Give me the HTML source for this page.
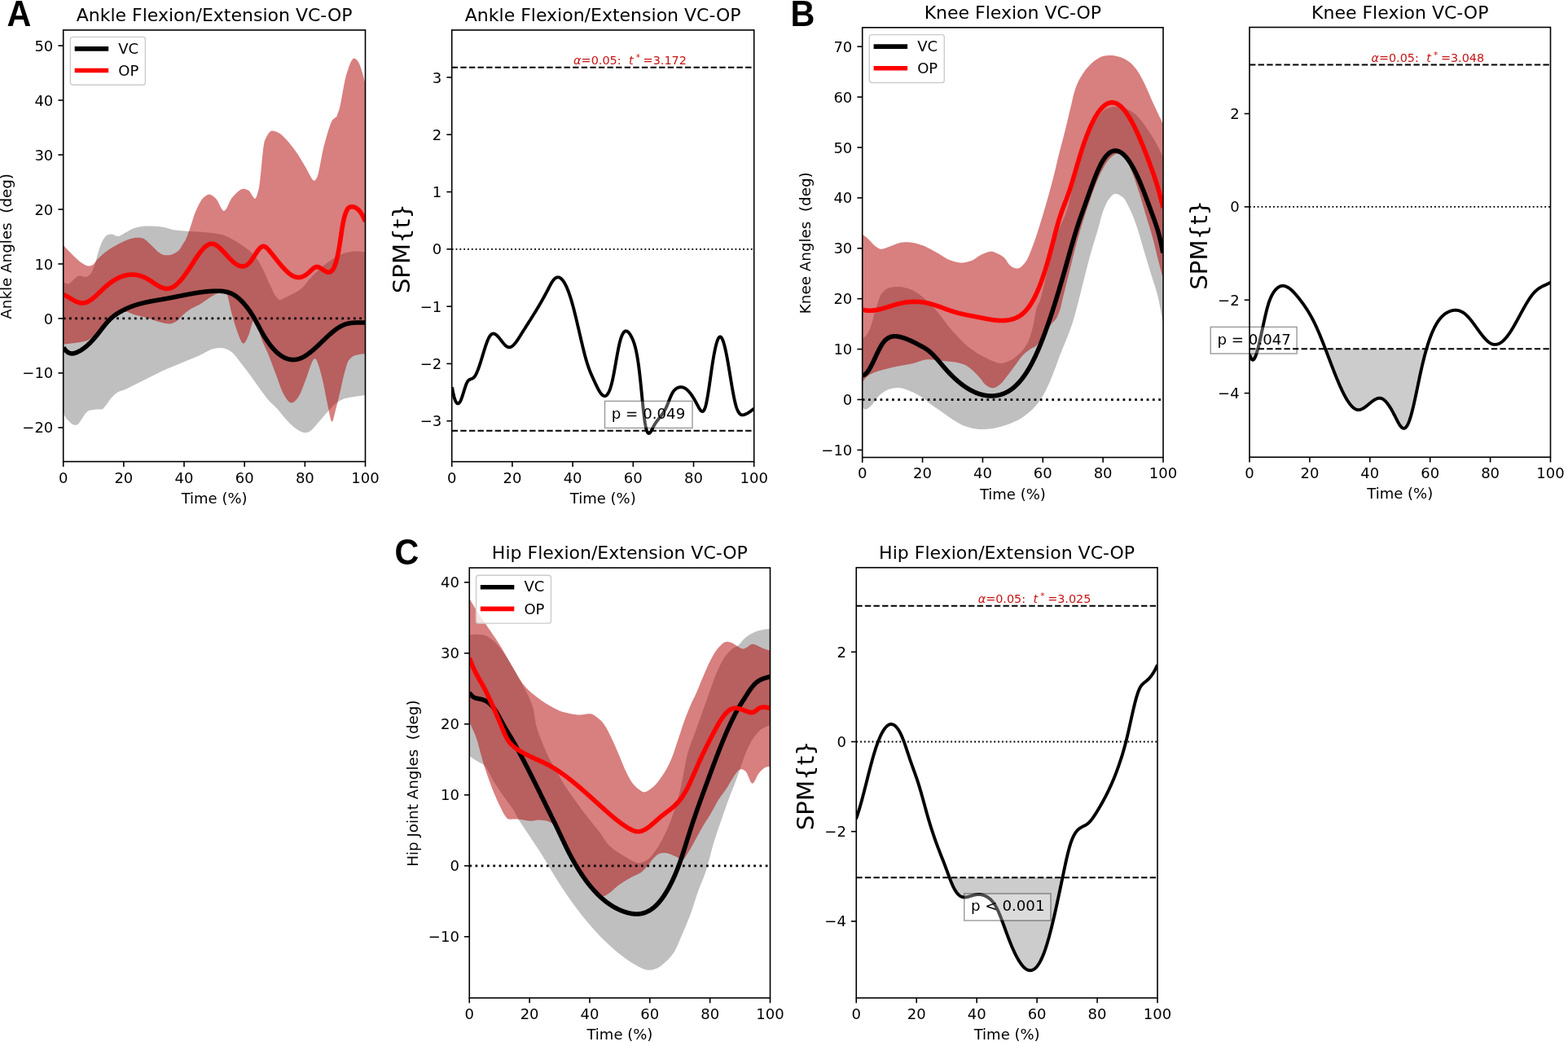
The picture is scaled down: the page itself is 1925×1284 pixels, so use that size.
<!DOCTYPE html>
<html><head><meta charset="utf-8"><title>Figure</title><style>html,body{margin:0;padding:0;background:#fff;width:1925px;height:1284px;overflow:hidden}svg{display:block}</style></head><body>
<svg width="1925" height="1284" viewBox="0 0 1925 1284" font-family='"DejaVu Sans", "Liberation Sans", sans-serif'>
<rect width="1925" height="1284" fill="#fff"/>
<defs>
<clipPath id="cA1"><rect x="77.7" y="36.9" width="370.8" height="529.7"/></clipPath>
<clipPath id="cA2"><rect x="554.7" y="36.9" width="371" height="529.8"/></clipPath>
<clipPath id="cB1"><rect x="1058.7" y="33.8" width="369.3" height="527.7"/></clipPath>
<clipPath id="cB2"><rect x="1534" y="33.5" width="369.5" height="527.7"/></clipPath>
<clipPath id="cC1"><rect x="576.25" y="697" width="369.25" height="528"/></clipPath>
<clipPath id="cC2"><rect x="1051.25" y="696.75" width="369.75" height="528.25"/></clipPath>
</defs>
<g clip-path="url(#cA1)">
<path d="M78 346.25L78.5 346.56 79 346.86 79.5 347.15 80 347.43 80.5 347.68 81 347.91 81.5 348.11 82 348.26 82.5 348.37 83 348.42 83.5 348.42 84 348.35 84.5 348.21 85 348 85.5 347.71 86 347.37 86.5 346.98 87 346.55 87.5 346.09 88 345.61 88.5 345.11 89 344.61 89.5 344.11 90 343.62 90.5 343.15 91 342.71 91.5 342.29 92 341.86 92.5 341.42 93 340.97 93.5 340.53 94 340.11 94.5 339.71 95 339.36 95.5 339.07 96 338.84 96.5 338.68 97 338.59 97.5 338.54 98 338.55 98.5 338.6 99 338.68 99.5 338.79 100 338.92 100.5 339.07 101 339.22 101.5 339.38 102 339.54 102.5 339.68 103 339.8 103.5 339.9 104 339.97 104.5 340.01 105 340 105.5 339.94 106 339.82 106.5 339.65 107 339.43 107.5 339.17 108 338.87 108.5 338.53 109 338.17 109.5 337.77 110 337.36 110.5 336.93 111 336.48 111.5 336 112 335.34 112.5 334.5 113 333.52 113.5 332.4 114 331.18 114.5 329.87 115 328.51 115.5 327.11 116 325.7 116.5 324.28 117 322.7 117.5 320.99 118 319.17 118.5 317.29 119 315.38 119.5 313.49 120 311.64 120.5 309.88 121 308.26 121.5 306.77 122 305.31 122.5 303.87 123 302.46 123.5 301.1 124 299.8 124.5 298.56 125 297.42 125.5 296.36 126 295.42 126.5 294.59 127 293.77 127.5 292.96 128 292.18 128.5 291.44 129 290.75 129.5 290.13 130 289.6 130.5 289.17 131 288.86 131.5 288.66 132 288.47 132.5 288.29 133 288.12 133.5 287.96 134 287.82 134.5 287.69 135 287.58 135.5 287.5 136 287.45 136.5 287.43 137 287.44 137.5 287.5 138 287.6 138.5 287.75 139 287.93 139.5 288.15 140 288.38 140.5 288.63 141 288.88 141.5 289.13 142 289.36 142.5 289.57 143 289.75 143.5 289.89 144 289.99 144.5 290.03 145 290 145.5 289.92 146 289.81 146.5 289.66 147 289.48 147.5 289.28 148 289.06 148.5 288.81 149 288.55 149.5 288.27 150 287.97 150.5 287.67 151 287.36 151.5 287.05 152 286.74 152.5 286.43 153 286.12 153.5 285.82 154 285.53 154.5 285.26 155 285 155.5 284.74 156 284.48 156.5 284.21 157 283.93 157.5 283.65 158 283.37 158.5 283.08 159 282.8 159.5 282.51 160 282.23 160.5 281.96 161 281.69 161.5 281.43 162 281.19 162.5 280.95 163 280.73 163.5 280.52 164 280.33 164.5 280.15 165 280 165.5 279.86 166 279.72 166.5 279.58 167 279.45 167.5 279.32 168 279.2 168.5 279.08 169 278.96 169.5 278.84 170 278.73 170.5 278.63 171 278.52 171.5 278.42 172 278.33 172.5 278.24 173 278.16 173.5 278.08 174 278 174.5 277.93 175 277.86 175.5 277.8 176 277.75 176.5 277.7 177 277.65 177.5 277.61 178 277.58 178.5 277.55 179 277.53 179.5 277.51 180 277.5 180.5 277.49 181 277.49 181.5 277.48 182 277.48 182.5 277.48 183 277.49 183.5 277.49 184 277.5 184.5 277.5 185 277.51 185.5 277.52 186 277.54 186.5 277.55 187 277.57 187.5 277.59 188 277.61 188.5 277.63 189 277.66 189.5 277.69 190 277.72 190.5 277.75 191 277.78 191.5 277.82 192 277.85 192.5 277.89 193 277.93 193.5 277.98 194 278.02 194.5 278.07 195 278.12 195.5 278.18 196 278.23 196.5 278.29 197 278.35 197.5 278.41 198 278.47 198.5 278.54 199 278.61 199.5 278.68 200 278.75 200.5 278.83 201 278.92 201.5 279.02 202 279.13 202.5 279.24 203 279.37 203.5 279.5 204 279.63 204.5 279.77 205 279.92 205.5 280.07 206 280.22 206.5 280.37 207 280.53 207.5 280.68 208 280.83 208.5 280.99 209 281.14 209.5 281.28 210 281.43 210.5 281.57 211 281.7 211.5 281.83 212 281.95 212.5 282.07 213 282.17 213.5 282.27 214 282.36 214.5 282.43 215 282.5 215.5 282.56 216 282.62 216.5 282.67 217 282.72 217.5 282.78 218 282.83 218.5 282.87 219 282.92 219.5 282.97 220 283.01 220.5 283.06 221 283.1 221.5 283.14 222 283.18 222.5 283.22 223 283.26 223.5 283.29 224 283.33 224.5 283.37 225 283.4 225.5 283.44 226 283.48 226.5 283.51 227 283.54 227.5 283.58 228 283.61 228.5 283.65 229 283.68 229.5 283.72 230 283.75 230.5 283.78 231 283.82 231.5 283.85 232 283.88 232.5 283.92 233 283.95 233.5 283.98 234 284.01 234.5 284.04 235 284.07 235.5 284.1 236 284.13 236.5 284.16 237 284.19 237.5 284.22 238 284.25 238.5 284.28 239 284.31 239.5 284.34 240 284.37 240.5 284.4 241 284.43 241.5 284.46 242 284.49 242.5 284.52 243 284.55 243.5 284.58 244 284.61 244.5 284.64 245 284.67 245.5 284.7 246 284.73 246.5 284.76 247 284.8 247.5 284.83 248 284.86 248.5 284.9 249 284.93 249.5 284.96 250 285 250.5 285.04 251 285.07 251.5 285.11 252 285.15 252.5 285.2 253 285.24 253.5 285.28 254 285.33 254.5 285.38 255 285.43 255.5 285.48 256 285.53 256.5 285.58 257 285.64 257.5 285.69 258 285.75 258.5 285.81 259 285.87 259.5 285.93 260 285.99 260.5 286.05 261 286.12 261.5 286.18 262 286.25 262.5 286.32 263 286.39 263.5 286.46 264 286.53 264.5 286.61 265 286.68 265.5 286.76 266 286.84 266.5 286.92 267 287 267.5 287.08 268 287.16 268.5 287.24 269 287.33 269.5 287.41 270 287.5 270.5 287.59 271 287.7 271.5 287.81 272 287.94 272.5 288.08 273 288.22 273.5 288.38 274 288.54 274.5 288.72 275 288.9 275.5 289.09 276 289.29 276.5 289.49 277 289.7 277.5 289.92 278 290.14 278.5 290.37 279 290.6 279.5 290.84 280 291.09 280.5 291.33 281 291.58 281.5 291.84 282 292.1 282.5 292.36 283 292.62 283.5 292.88 284 293.14 284.5 293.41 285 293.68 285.5 293.94 286 294.21 286.5 294.47 287 294.74 287.5 295 288 295.27 288.5 295.54 289 295.82 289.5 296.11 290 296.4 290.5 296.7 291 297.01 291.5 297.32 292 297.64 292.5 297.97 293 298.29 293.5 298.63 294 298.96 294.5 299.3 295 299.65 295.5 299.99 296 300.34 296.5 300.7 297 301.05 297.5 301.41 298 301.77 298.5 302.12 299 302.48 299.5 302.84 300 303.21 300.5 303.57 301 303.93 301.5 304.29 302 304.64 302.5 305 303 305.36 303.5 305.72 304 306.08 304.5 306.45 305 306.82 305.5 307.2 306 307.59 306.5 307.98 307 308.39 307.5 308.8 308 309.22 308.5 309.64 309 310.08 309.5 310.54 310 311 310.5 311.49 311 312 311.5 312.55 312 313.13 312.5 313.73 313 314.36 313.5 315 314 315.67 314.5 316.36 315 317.06 315.5 317.78 316 318.51 316.5 319.25 317 320 317.5 320.77 318 321.58 318.5 322.42 319 323.28 319.5 324.18 320 325.1 320.5 326.04 321 327 321.5 327.97 322 328.96 322.5 329.96 323 330.97 323.5 331.98 324 333 324.5 334.03 325 335.1 325.5 336.19 326 337.3 326.5 338.43 327 339.58 327.5 340.73 328 341.88 328.5 343.03 329 344.18 329.5 345.31 330 346.43 330.5 347.53 331 348.6 331.5 349.67 332 350.77 332.5 351.89 333 353.01 333.5 354.13 334 355.25 334.5 356.35 335 357.42 335.5 358.47 336 359.47 336.5 360.42 337 361.32 337.5 362.16 338 362.92 338.5 363.6 339 364.24 339.5 364.89 340 365.52 340.5 366.12 341 366.68 341.5 367.17 342 367.6 342.5 367.93 343 368.15 343.5 368.26 344 368.22 344.5 368.08 345 367.92 345.5 367.74 346 367.54 346.5 367.32 347 367.09 347.5 366.85 348 366.6 348.5 366.33 349 366.06 349.5 365.79 350 365.51 350.5 365.23 351 364.95 351.5 364.67 352 364.39 352.5 364.12 353 363.86 353.5 363.6 354 363.35 354.5 363.1 355 362.86 355.5 362.61 356 362.37 356.5 362.12 357 361.88 357.5 361.64 358 361.39 358.5 361.15 359 360.9 359.5 360.65 360 360.4 360.5 360.15 361 359.9 361.5 359.64 362 359.38 362.5 359.11 363 358.85 363.5 358.57 364 358.3 364.5 358.01 365 357.73 365.5 357.43 366 357.11 366.5 356.79 367 356.45 367.5 356.1 368 355.74 368.5 355.37 369 354.98 369.5 354.58 370 354.17 370.5 353.75 371 353.31 371.5 352.86 372 352.39 372.5 351.91 373 351.38 373.5 350.81 374 350.2 374.5 349.58 375 348.93 375.5 348.27 376 347.59 376.5 346.92 377 346.24 377.5 345.58 378 344.93 378.5 344.29 379 343.69 379.5 343.11 380 342.56 380.5 342.02 381 341.48 381.5 340.94 382 340.41 382.5 339.88 383 339.36 383.5 338.84 384 338.33 384.5 337.82 385 337.32 385.5 336.82 386 336.32 386.5 335.83 387 335.35 387.5 334.87 388 334.39 388.5 333.92 389 333.45 389.5 332.98 390 332.53 390.5 332.07 391 331.62 391.5 331.17 392 330.73 392.5 330.28 393 329.84 393.5 329.4 394 328.96 394.5 328.53 395 328.1 395.5 327.67 396 327.24 396.5 326.82 397 326.4 397.5 325.99 398 325.58 398.5 325.18 399 324.77 399.5 324.38 400 323.99 400.5 323.6 401 323.22 401.5 322.84 402 322.47 402.5 322.11 403 321.74 403.5 321.38 404 321.01 404.5 320.65 405 320.29 405.5 319.93 406 319.57 406.5 319.22 407 318.87 407.5 318.52 408 318.18 408.5 317.85 409 317.52 409.5 317.2 410 316.88 410.5 316.57 411 316.27 411.5 315.98 412 315.7 412.5 315.42 413 315.15 413.5 314.9 414 314.64 414.5 314.39 415 314.14 415.5 313.89 416 313.64 416.5 313.39 417 313.15 417.5 312.91 418 312.68 418.5 312.45 419 312.23 419.5 312.01 420 311.8 420.5 311.6 421 311.4 421.5 311.21 422 311.04 422.5 310.87 423 310.71 423.5 310.56 424 310.43 424.5 310.3 425 310.18 425.5 310.06 426 309.94 426.5 309.83 427 309.71 427.5 309.6 428 309.49 428.5 309.38 429 309.28 429.5 309.18 430 309.08 430.5 308.99 431 308.9 431.5 308.82 432 308.74 432.5 308.67 433 308.61 433.5 308.55 434 308.51 434.5 308.46 435 308.43 435.5 308.41 436 308.39 436.5 308.38 437 308.38 437.5 308.38 438 308.39 438.5 308.4 439 308.42 439.5 308.45 440 308.47 440.5 308.51 441 308.54 441.5 308.59 442 308.63 442.5 308.68 443 308.73 443.5 308.79 444 308.85 444.5 308.91 445 308.98 445.5 309.05 446 309.12 446.5 309.19 447 309.27 447.5 309.34 448 309.42 448.5 309.5L448.5 485 448 485.07 447.5 485.14 447 485.21 446.5 485.28 446 485.35 445.5 485.42 445 485.49 444.5 485.57 444 485.64 443.5 485.72 443 485.79 442.5 485.86 442 485.94 441.5 486.01 441 486.09 440.5 486.17 440 486.24 439.5 486.32 439 486.4 438.5 486.47 438 486.55 437.5 486.62 437 486.7 436.5 486.78 436 486.85 435.5 486.93 435 487.01 434.5 487.08 434 487.16 433.5 487.23 433 487.31 432.5 487.39 432 487.47 431.5 487.54 431 487.62 430.5 487.7 430 487.78 429.5 487.87 429 487.95 428.5 488.04 428 488.12 427.5 488.21 427 488.31 426.5 488.4 426 488.5 425.5 488.59 425 488.7 424.5 488.8 424 488.91 423.5 489.05 423 489.19 422.5 489.36 422 489.54 421.5 489.73 421 489.94 420.5 490.16 420 490.4 419.5 490.64 419 490.9 418.5 491.17 418 491.44 417.5 491.73 417 492.02 416.5 492.33 416 492.64 415.5 492.95 415 493.27 414.5 493.6 414 493.93 413.5 494.27 413 494.61 412.5 494.97 412 495.36 411.5 495.77 411 496.2 410.5 496.65 410 497.11 409.5 497.59 409 498.09 408.5 498.6 408 499.12 407.5 499.65 407 500.18 406.5 500.73 406 501.28 405.5 501.83 405 502.39 404.5 502.95 404 503.51 403.5 504.06 403 504.62 402.5 505.17 402 505.71 401.5 506.26 401 506.81 400.5 507.38 400 507.95 399.5 508.53 399 509.11 398.5 509.7 398 510.29 397.5 510.89 397 511.48 396.5 512.08 396 512.68 395.5 513.28 395 513.88 394.5 514.47 394 515.06 393.5 515.65 393 516.23 392.5 516.8 392 517.37 391.5 517.93 391 518.48 390.5 519.03 390 519.59 389.5 520.15 389 520.73 388.5 521.31 388 521.9 387.5 522.49 387 523.07 386.5 523.65 386 524.22 385.5 524.79 385 525.34 384.5 525.88 384 526.4 383.5 526.91 383 527.39 382.5 527.85 382 528.28 381.5 528.68 381 529.05 380.5 529.39 380 529.69 379.5 529.95 379 530.18 378.5 530.39 378 530.57 377.5 530.72 377 530.86 376.5 530.96 376 531.04 375.5 531.1 375 531.13 374.5 531.13 374 531.11 373.5 531.06 373 530.99 372.5 530.9 372 530.77 371.5 530.63 371 530.46 370.5 530.28 370 530.08 369.5 529.86 369 529.63 368.5 529.38 368 529.11 367.5 528.84 367 528.54 366.5 528.24 366 527.93 365.5 527.6 365 527.27 364.5 526.93 364 526.58 363.5 526.22 363 525.86 362.5 525.5 362 525.13 361.5 524.75 361 524.38 360.5 523.99 360 523.59 359.5 523.18 359 522.75 358.5 522.3 358 521.84 357.5 521.37 357 520.89 356.5 520.4 356 519.9 355.5 519.39 355 518.87 354.5 518.34 354 517.81 353.5 517.27 353 516.73 352.5 516.18 352 515.63 351.5 515.08 351 514.53 350.5 513.98 350 513.43 349.5 512.88 349 512.32 348.5 511.74 348 511.15 347.5 510.55 347 509.94 346.5 509.32 346 508.7 345.5 508.08 345 507.45 344.5 506.82 344 506.2 343.5 505.57 343 504.96 342.5 504.35 342 503.75 341.5 503.16 341 502.58 340.5 502.01 340 501.46 339.5 500.93 339 500.41 338.5 499.9 338 499.4 337.5 498.91 337 498.43 336.5 497.96 336 497.49 335.5 497.02 335 496.55 334.5 496.08 334 495.62 333.5 495.14 333 494.66 332.5 494.18 332 493.69 331.5 493.18 331 492.67 330.5 492.14 330 491.6 329.5 491.04 329 490.47 328.5 489.88 328 489.28 327.5 488.66 327 488.04 326.5 487.41 326 486.76 325.5 486.11 325 485.45 324.5 484.78 324 484.11 323.5 483.43 323 482.75 322.5 482.06 322 481.37 321.5 480.68 321 479.99 320.5 479.29 320 478.6 319.5 477.91 319 477.21 318.5 476.52 318 475.84 317.5 475.15 317 474.46 316.5 473.76 316 473.06 315.5 472.35 315 471.65 314.5 470.93 314 470.22 313.5 469.51 313 468.79 312.5 468.08 312 467.37 311.5 466.66 311 465.95 310.5 465.24 310 464.54 309.5 463.84 309 463.15 308.5 462.46 308 461.78 307.5 461.09 307 460.41 306.5 459.72 306 459.04 305.5 458.35 305 457.67 304.5 456.99 304 456.31 303.5 455.63 303 454.96 302.5 454.29 302 453.62 301.5 452.95 301 452.29 300.5 451.64 300 450.99 299.5 450.34 299 449.7 298.5 449.07 298 448.44 297.5 447.82 297 447.2 296.5 446.57 296 445.93 295.5 445.29 295 444.64 294.5 443.98 294 443.32 293.5 442.66 293 441.99 292.5 441.33 292 440.68 291.5 440.02 291 439.38 290.5 438.74 290 438.11 289.5 437.49 289 436.89 288.5 436.3 288 435.72 287.5 435.16 287 434.62 286.5 434.1 286 433.6 285.5 433.13 285 432.68 284.5 432.25 284 431.86 283.5 431.49 283 431.16 282.5 430.86 282 430.58 281.5 430.31 281 430.04 280.5 429.79 280 429.54 279.5 429.3 279 429.07 278.5 428.84 278 428.63 277.5 428.43 277 428.24 276.5 428.06 276 427.9 275.5 427.75 275 427.61 274.5 427.49 274 427.38 273.5 427.29 273 427.22 272.5 427.16 272 427.12 271.5 427.1 271 427.1 270.5 427.11 270 427.12 269.5 427.13 269 427.15 268.5 427.18 268 427.21 267.5 427.25 267 427.3 266.5 427.35 266 427.41 265.5 427.48 265 427.56 264.5 427.64 264 427.73 263.5 427.83 263 427.93 262.5 428.05 262 428.17 261.5 428.3 261 428.44 260.5 428.59 260 428.75 259.5 428.92 259 429.1 258.5 429.3 258 429.5 257.5 429.72 257 429.94 256.5 430.18 256 430.42 255.5 430.67 255 430.93 254.5 431.19 254 431.45 253.5 431.72 253 432 252.5 432.27 252 432.55 251.5 432.83 251 433.11 250.5 433.39 250 433.67 249.5 433.95 249 434.23 248.5 434.5 248 434.77 247.5 435.03 247 435.29 246.5 435.54 246 435.78 245.5 436.02 245 436.25 244.5 436.47 244 436.69 243.5 436.91 243 437.13 242.5 437.35 242 437.56 241.5 437.77 241 437.99 240.5 438.2 240 438.4 239.5 438.61 239 438.82 238.5 439.02 238 439.23 237.5 439.43 237 439.64 236.5 439.84 236 440.05 235.5 440.25 235 440.45 234.5 440.66 234 440.86 233.5 441.06 233 441.27 232.5 441.47 232 441.67 231.5 441.88 231 442.09 230.5 442.29 230 442.5 229.5 442.71 229 442.92 228.5 443.12 228 443.33 227.5 443.54 227 443.75 226.5 443.96 226 444.17 225.5 444.38 225 444.58 224.5 444.79 224 445 223.5 445.21 223 445.42 222.5 445.62 222 445.83 221.5 446.04 221 446.25 220.5 446.46 220 446.67 219.5 446.88 219 447.08 218.5 447.29 218 447.5 217.5 447.71 217 447.92 216.5 448.12 216 448.33 215.5 448.54 215 448.75 214.5 448.96 214 449.16 213.5 449.37 213 449.57 212.5 449.78 212 449.98 211.5 450.18 211 450.39 210.5 450.59 210 450.79 209.5 450.99 209 451.2 208.5 451.4 208 451.6 207.5 451.8 207 452.01 206.5 452.21 206 452.42 205.5 452.62 205 452.83 204.5 453.04 204 453.25 203.5 453.46 203 453.68 202.5 453.89 202 454.11 201.5 454.33 201 454.55 200.5 454.77 200 455 199.5 455.23 199 455.46 198.5 455.69 198 455.93 197.5 456.17 197 456.41 196.5 456.66 196 456.9 195.5 457.15 195 457.4 194.5 457.65 194 457.9 193.5 458.16 193 458.41 192.5 458.66 192 458.92 191.5 459.18 191 459.43 190.5 459.69 190 459.95 189.5 460.21 189 460.46 188.5 460.72 188 460.98 187.5 461.23 187 461.49 186.5 461.74 186 462 185.5 462.25 185 462.5 184.5 462.75 184 463 183.5 463.25 183 463.5 182.5 463.75 182 464 181.5 464.25 181 464.5 180.5 464.75 180 465 179.5 465.25 179 465.5 178.5 465.75 178 466 177.5 466.25 177 466.5 176.5 466.75 176 467 175.5 467.25 175 467.5 174.5 467.75 174 468 173.5 468.25 173 468.5 172.5 468.75 172 469 171.5 469.25 171 469.5 170.5 469.75 170 470 169.5 470.25 169 470.5 168.5 470.76 168 471.01 167.5 471.26 167 471.52 166.5 471.78 166 472.03 165.5 472.29 165 472.54 164.5 472.8 164 473.06 163.5 473.31 163 473.57 162.5 473.82 162 474.08 161.5 474.33 161 474.59 160.5 474.84 160 475.09 159.5 475.34 159 475.59 158.5 475.83 158 476.08 157.5 476.32 157 476.56 156.5 476.8 156 477.03 155.5 477.27 155 477.5 154.5 477.72 154 477.93 153.5 478.13 153 478.32 152.5 478.5 152 478.67 151.5 478.84 151 479.01 150.5 479.17 150 479.33 149.5 479.49 149 479.66 148.5 479.83 148 480 147.5 480.18 147 480.37 146.5 480.57 146 480.79 145.5 481.01 145 481.25 144.5 481.51 144 481.81 143.5 482.13 143 482.47 142.5 482.84 142 483.24 141.5 483.65 141 484.08 140.5 484.53 140 485 139.5 485.48 139 485.97 138.5 486.47 138 486.98 137.5 487.5 137 488.04 136.5 488.63 136 489.26 135.5 489.92 135 490.6 134.5 491.31 134 492.02 133.5 492.75 133 493.47 132.5 494.19 132 494.9 131.5 495.59 131 496.26 130.5 496.9 130 497.5 129.5 498.11 129 498.75 128.5 499.4 128 500.04 127.5 500.66 127 501.22 126.5 501.7 126 502.09 125.5 502.37 125 502.5 124.5 502.54 124 502.56 123.5 502.56 123 502.54 122.5 502.52 122 502.5 121.5 502.48 121 502.47 120.5 502.48 120 502.5 119.5 502.54 119 502.58 118.5 502.62 118 502.67 117.5 502.71 117 502.76 116.5 502.82 116 502.87 115.5 502.93 115 502.99 114.5 503.05 114 503.12 113.5 503.19 113 503.26 112.5 503.33 112 503.41 111.5 503.49 111 503.57 110.5 503.66 110 503.75 109.5 503.88 109 504.09 108.5 504.36 108 504.7 107.5 505.08 107 505.51 106.5 505.98 106 506.47 105.5 506.98 105 507.5 104.5 508.07 104 508.73 103.5 509.46 103 510.23 102.5 511.04 102 511.87 101.5 512.7 101 513.51 100.5 514.28 100 515 99.5 515.71 99 516.44 98.5 517.19 98 517.93 97.5 518.64 97 519.32 96.5 519.93 96 520.47 95.5 520.92 95 521.25 94.5 521.49 94 521.66 93.5 521.77 93 521.83 92.5 521.84 92 521.8 91.5 521.71 91 521.59 90.5 521.43 90 521.25 89.5 521.03 89 520.77 88.5 520.48 88 520.15 87.5 519.79 87 519.4 86.5 518.99 86 518.55 85.5 518.09 85 517.6 84.5 517.11 84 516.6 83.5 516.07 83 515.54 82.5 515 82 514.41 81.5 513.74 81 512.99 80.5 512.17 80 511.31 79.5 510.39 79 509.45 78.5 508.48 78 507.5Z" fill="#808080" fill-opacity="0.5"/>
<path d="M78 301.25L78.5 301.81 79 302.36 79.5 302.91 80 303.46 80.5 304.01 81 304.55 81.5 305.09 82 305.63 82.5 306.16 83 306.69 83.5 307.22 84 307.75 84.5 308.27 85 308.79 85.5 309.3 86 309.81 86.5 310.32 87 310.82 87.5 311.32 88 311.81 88.5 312.3 89 312.79 89.5 313.27 90 313.75 90.5 314.23 91 314.7 91.5 315.18 92 315.66 92.5 316.14 93 316.62 93.5 317.09 94 317.56 94.5 318.02 95 318.48 95.5 318.93 96 319.38 96.5 319.81 97 320.23 97.5 320.64 98 321.04 98.5 321.43 99 321.8 99.5 322.16 100 322.5 100.5 322.83 101 323.16 101.5 323.48 102 323.8 102.5 324.1 103 324.4 103.5 324.69 104 324.96 104.5 325.22 105 325.46 105.5 325.69 106 325.9 106.5 326.08 107 326.24 107.5 326.39 108 326.5 108.5 326.58 109 326.62 109.5 326.61 110 326.57 110.5 326.48 111 326.37 111.5 326.21 112 326.03 112.5 325.81 113 325.57 113.5 325.3 114 325 114.5 324.64 115 324.19 115.5 323.67 116 323.08 116.5 322.45 117 321.79 117.5 321.11 118 320.43 118.5 319.77 119 319.13 119.5 318.54 120 318 120.5 317.5 121 317 121.5 316.51 122 316.02 122.5 315.53 123 315.05 123.5 314.57 124 314.1 124.5 313.63 125 313.17 125.5 312.72 126 312.27 126.5 311.83 127 311.4 127.5 310.98 128 310.56 128.5 310.16 129 309.76 129.5 309.38 130 309 130.5 308.63 131 308.27 131.5 307.91 132 307.56 132.5 307.2 133 306.86 133.5 306.52 134 306.18 134.5 305.85 135 305.52 135.5 305.2 136 304.88 136.5 304.56 137 304.25 137.5 303.95 138 303.65 138.5 303.36 139 303.07 139.5 302.78 140 302.5 140.5 302.22 141 301.94 141.5 301.67 142 301.39 142.5 301.11 143 300.84 143.5 300.56 144 300.29 144.5 300.01 145 299.74 145.5 299.47 146 299.21 146.5 298.94 147 298.68 147.5 298.42 148 298.16 148.5 297.91 149 297.66 149.5 297.41 150 297.17 150.5 296.93 151 296.7 151.5 296.47 152 296.24 152.5 296.02 153 295.81 153.5 295.6 154 295.39 154.5 295.19 155 295 155.5 294.81 156 294.62 156.5 294.44 157 294.26 157.5 294.08 158 293.91 158.5 293.74 159 293.57 159.5 293.41 160 293.25 160.5 293.1 161 292.95 161.5 292.81 162 292.67 162.5 292.54 163 292.42 163.5 292.3 164 292.19 164.5 292.09 165 292 165.5 291.92 166 291.85 166.5 291.79 167 291.74 167.5 291.7 168 291.68 168.5 291.66 169 291.66 169.5 291.67 170 291.69 170.5 291.73 171 291.77 171.5 291.82 172 291.89 172.5 291.96 173 292.05 173.5 292.15 174 292.25 174.5 292.37 175 292.5 175.5 292.66 176 292.85 176.5 293.09 177 293.37 177.5 293.68 178 294.02 178.5 294.39 179 294.78 179.5 295.19 180 295.62 180.5 296.07 181 296.53 181.5 297 182 297.47 182.5 297.95 183 298.42 183.5 298.9 184 299.36 184.5 299.82 185 300.27 185.5 300.75 186 301.24 186.5 301.75 187 302.26 187.5 302.78 188 303.3 188.5 303.81 189 304.31 189.5 304.8 190 305.28 190.5 305.77 191 306.27 191.5 306.77 192 307.26 192.5 307.75 193 308.22 193.5 308.68 194 309.11 194.5 309.52 195 309.89 195.5 310.24 196 310.55 196.5 310.86 197 311.16 197.5 311.44 198 311.72 198.5 311.98 199 312.22 199.5 312.44 200 312.63 200.5 312.8 201 312.94 201.5 313.05 202 313.13 202.5 313.19 203 313.24 203.5 313.28 204 313.3 204.5 313.32 205 313.32 205.5 313.31 206 313.29 206.5 313.26 207 313.22 207.5 313.17 208 313.1 208.5 313.02 209 312.91 209.5 312.78 210 312.63 210.5 312.46 211 312.28 211.5 312.09 212 311.89 212.5 311.68 213 311.47 213.5 311.25 214 311.03 214.5 310.81 215 310.57 215.5 310.3 216 310.01 216.5 309.69 217 309.35 217.5 308.97 218 308.58 218.5 308.15 219 307.7 219.5 307.23 220 306.73 220.5 306.2 221 305.59 221.5 304.86 222 304.05 222.5 303.17 223 302.27 223.5 301.36 224 300.49 224.5 299.68 225 298.93 225.5 298.2 226 297.46 226.5 296.7 227 295.89 227.5 295 228 294.01 228.5 292.93 229 291.78 229.5 290.55 230 289.28 230.5 287.96 231 286.61 231.5 285.24 232 283.87 232.5 282.5 233 281.1 233.5 279.62 234 278.09 234.5 276.51 235 274.9 235.5 273.28 236 271.64 236.5 270.02 237 268.42 237.5 266.85 238 265.33 238.5 263.87 239 262.49 239.5 261.19 240 260 240.5 258.86 241 257.74 241.5 256.63 242 255.53 242.5 254.45 243 253.39 243.5 252.35 244 251.35 244.5 250.37 245 249.43 245.5 248.52 246 247.65 246.5 246.83 247 246.05 247.5 245.32 248 244.64 248.5 244.02 249 243.45 249.5 242.94 250 242.5 250.5 242.09 251 241.68 251.5 241.29 252 240.9 252.5 240.54 253 240.19 253.5 239.87 254 239.58 254.5 239.32 255 239.1 255.5 238.93 256 238.8 256.5 238.73 257 238.71 257.5 238.75 258 238.85 258.5 239 259 239.19 259.5 239.43 260 239.71 260.5 240.02 261 240.36 261.5 240.73 262 241.12 262.5 241.53 263 241.96 263.5 242.4 264 242.85 264.5 243.3 265 243.75 265.5 244.27 266 244.9 266.5 245.64 267 246.47 267.5 247.37 268 248.33 268.5 249.33 269 250.35 269.5 251.38 270 252.4 270.5 253.41 271 254.37 271.5 255.27 272 256.11 272.5 256.86 273 257.51 273.5 258.04 274 258.43 274.5 258.67 275 258.75 275.5 258.65 276 258.37 276.5 257.94 277 257.38 277.5 256.68 278 255.89 278.5 255 279 254.03 279.5 253.01 280 251.94 280.5 250.85 281 249.75 281.5 248.65 282 247.58 282.5 246.54 283 245.56 283.5 244.65 284 243.83 284.5 243.1 285 242.5 285.5 241.96 286 241.42 286.5 240.88 287 240.34 287.5 239.8 288 239.27 288.5 238.74 289 238.22 289.5 237.71 290 237.21 290.5 236.72 291 236.24 291.5 235.78 292 235.34 292.5 234.92 293 234.51 293.5 234.13 294 233.77 294.5 233.43 295 233.12 295.5 232.83 296 232.58 296.5 232.35 297 232.16 297.5 232 298 231.88 298.5 231.81 299 231.79 299.5 231.8 300 231.85 300.5 231.94 301 232.06 301.5 232.2 302 232.38 302.5 232.57 303 232.78 303.5 233.01 304 233.25 304.5 233.5 305 233.75 305.5 234.08 306 234.53 306.5 235.09 307 235.74 307.5 236.47 308 237.24 308.5 238.06 309 238.9 309.5 239.73 310 240.55 310.5 241.33 311 242.06 311.5 242.72 312 243.29 312.5 243.75 313 243.93 313.5 243.7 314 243.09 314.5 242.17 315 240.97 315.5 239.55 316 237.94 316.5 236.2 317 234.37 317.5 232.5 318 230.17 318.5 227.03 319 223.2 319.5 218.82 320 214.03 320.5 208.96 321 203.73 321.5 198.49 322 193.37 322.5 188.49 323 183.99 323.5 180.02 324 176.68 324.5 174.14 325 172.5 325.5 171.38 326 170.3 326.5 169.26 327 168.27 327.5 167.31 328 166.41 328.5 165.56 329 164.76 329.5 164.02 330 163.34 330.5 162.72 331 162.17 331.5 161.69 332 161.28 332.5 160.95 333 160.69 333.5 160.51 334 160.42 334.5 160.42 335 160.5 335.5 160.63 336 160.76 336.5 160.9 337 161.04 337.5 161.19 338 161.34 338.5 161.5 339 161.68 339.5 161.86 340 162.06 340.5 162.27 341 162.49 341.5 162.73 342 162.99 342.5 163.27 343 163.57 343.5 163.89 344 164.24 344.5 164.61 345 165 345.5 165.41 346 165.84 346.5 166.28 347 166.73 347.5 167.19 348 167.66 348.5 168.15 349 168.65 349.5 169.15 350 169.67 350.5 170.19 351 170.73 351.5 171.28 352 171.83 352.5 172.39 353 172.96 353.5 173.54 354 174.13 354.5 174.72 355 175.33 355.5 175.93 356 176.55 356.5 177.17 357 177.8 357.5 178.43 358 179.07 358.5 179.71 359 180.36 359.5 181.01 360 181.67 360.5 182.33 361 182.99 361.5 183.66 362 184.33 362.5 185 363 185.68 363.5 186.38 364 187.09 364.5 187.82 365 188.57 365.5 189.32 366 190.09 366.5 190.87 367 191.66 367.5 192.46 368 193.27 368.5 194.09 369 194.91 369.5 195.74 370 196.57 370.5 197.41 371 198.25 371.5 199.1 372 199.94 372.5 200.79 373 201.64 373.5 202.48 374 203.32 374.5 204.16 375 205 375.5 205.85 376 206.74 376.5 207.65 377 208.59 377.5 209.54 378 210.5 378.5 211.47 379 212.43 379.5 213.39 380 214.34 380.5 215.27 381 216.18 381.5 217.06 382 217.9 382.5 218.7 383 219.46 383.5 220.17 384 220.8 384.5 221.27 385 221.57 385.5 221.7 386 221.66 386.5 221.47 387 221.12 387.5 220.62 388 219.98 388.5 219.19 389 218.25 389.5 217.02 390 215.5 390.5 213.72 391 211.73 391.5 209.55 392 207.2 392.5 204.73 393 202.16 393.5 199.53 394 196.87 394.5 194.21 395 191.58 395.5 189.01 396 186.54 396.5 184.19 397 182 397.5 180 398 178.11 398.5 176.23 399 174.37 399.5 172.52 400 170.7 400.5 168.9 401 167.14 401.5 165.4 402 163.71 402.5 162.05 403 160.44 403.5 158.87 404 157.36 404.5 155.9 405 154.5 405.5 153.11 406 151.73 406.5 150.42 407 149.23 407.5 148.24 408 147.5 408.5 146.95 409 146.46 409.5 146.02 410 145.61 410.5 145.21 411 144.8 411.5 144.44 412 144.15 412.5 143.84 413 143.44 413.5 142.84 414 141.29 414.5 139.5 415 138.21 415.5 137.07 416 135.78 416.5 134.12 417 132.18 417.5 130.03 418 127.7 418.5 125.22 419 122.62 419.5 119.92 420 117.16 420.5 114.37 421 111.57 421.5 108.79 422 106.07 422.5 103.43 423 100.91 423.5 98.52 424 96.3 424.5 94.29 425 92.5 425.5 90.84 426 89.21 426.5 87.6 427 86.02 427.5 84.49 428 83.01 428.5 81.58 429 80.22 429.5 78.93 430 77.73 430.5 76.61 431 75.58 431.5 74.66 432 73.85 432.5 73.16 433 72.6 433.5 72.16 434 71.87 434.5 71.71 435 71.66 435.5 71.73 436 71.91 436.5 72.18 437 72.54 437.5 72.99 438 73.52 438.5 74.11 439 74.77 439.5 75.49 440 76.25 440.5 77.1 441 78.09 441.5 79.19 442 80.41 442.5 81.74 443 83.17 443.5 84.68 444 86.28 444.5 87.95 445 89.69 445.5 91.49 446 93.33 446.5 95.21 447 97.13 447.5 99.07 448 101.03 448.5 103L448.5 434.6 448 434.54 447.5 434.51 447 434.48 446.5 434.47 446 434.48 445.5 434.5 445 434.53 444.5 434.57 444 434.62 443.5 434.69 443 434.76 442.5 434.84 442 434.93 441.5 435.03 441 435.13 440.5 435.24 440 435.35 439.5 435.47 439 435.59 438.5 435.71 438 435.83 437.5 435.96 437 436.08 436.5 436.21 436 436.33 435.5 436.45 435 436.61 434.5 436.81 434 437.05 433.5 437.32 433 437.63 432.5 437.98 432 438.35 431.5 438.76 431 439.2 430.5 439.66 430 440.15 429.5 440.66 429 441.2 428.5 441.76 428 442.35 427.5 443.16 427 444.2 426.5 445.45 426 446.87 425.5 448.43 425 450.11 424.5 451.88 424 453.71 423.5 455.57 423 457.43 422.5 459.27 422 461.18 421.5 463.21 421 465.33 420.5 467.53 420 469.78 419.5 472.06 419 474.35 418.5 476.63 418 478.88 417.5 481.08 417 483.2 416.5 485.28 416 487.35 415.5 489.41 415 491.45 414.5 493.49 414 495.5 413.5 497.5 413 499.47 412.5 501.42 412 503.34 411.5 505.23 411 507.18 410.5 509.32 410 511.49 409.5 513.56 409 515.37 408.5 516.77 408 517.62 407.5 517.78 407 517.29 406.5 516.26 406 514.78 405.5 512.91 405 510.73 404.5 508.34 404 505.8 403.5 503.21 403 500.63 402.5 498.16 402 495.85 401.5 493.53 401 491.09 400.5 488.57 400 486 399.5 483.39 399 480.78 398.5 478.2 398 475.66 397.5 473.2 397 470.85 396.5 468.63 396 466.51 395.5 464.42 395 462.36 394.5 460.35 394 458.38 393.5 456.48 393 454.64 392.5 452.89 392 451.24 391.5 449.68 391 448.24 390.5 446.89 390 445.54 389.5 444.22 389 443 388.5 441.92 388 441.06 387.5 440.45 387 440.17 386.5 440.15 386 440.35 385.5 440.73 385 441.28 384.5 441.97 384 442.79 383.5 443.71 383 444.72 382.5 445.84 382 447.05 381.5 448.35 381 449.72 380.5 451.14 380 452.6 379.5 454.09 379 455.6 378.5 457.11 378 458.61 377.5 460.08 377 461.53 376.5 462.92 376 464.24 375.5 465.53 375 466.84 374.5 468.17 374 469.51 373.5 470.86 373 472.2 372.5 473.54 372 474.87 371.5 476.18 371 477.47 370.5 478.72 370 479.94 369.5 481.11 369 482.24 368.5 483.3 368 484.31 367.5 485.25 367 486.12 366.5 486.9 366 487.63 365.5 488.34 365 489.03 364.5 489.68 364 490.31 363.5 490.9 363 491.46 362.5 491.98 362 492.45 361.5 492.89 361 493.27 360.5 493.61 360 493.89 359.5 494.12 359 494.3 358.5 494.41 358 494.46 357.5 494.44 357 494.36 356.5 494.2 356 493.97 355.5 493.67 355 493.31 354.5 492.89 354 492.41 353.5 491.87 353 491.29 352.5 490.66 352 489.98 351.5 489.26 351 488.51 350.5 487.72 350 486.9 349.5 486.05 349 485.18 348.5 484.29 348 483.38 347.5 482.44 347 481.43 346.5 480.34 346 479.2 345.5 478 345 476.75 344.5 475.46 344 474.13 343.5 472.78 343 471.39 342.5 469.99 342 468.58 341.5 467.17 341 465.75 340.5 464.34 340 462.94 339.5 461.57 339 460.22 338.5 458.9 338 457.6 337.5 456.28 337 454.96 336.5 453.64 336 452.31 335.5 450.97 335 449.64 334.5 448.31 334 446.97 333.5 445.65 333 444.33 332.5 443.01 332 441.7 331.5 440.4 331 439.12 330.5 437.84 330 436.58 329.5 435.34 329 434.11 328.5 432.93 328 431.79 327.5 430.68 327 429.6 326.5 428.53 326 427.48 325.5 426.43 325 425.38 324.5 424.31 324 423.23 323.5 422.12 323 420.98 322.5 419.8 322 418.56 321.5 417.27 321 415.89 320.5 414.42 320 412.88 319.5 411.3 319 409.7 318.5 408.08 318 406.49 317.5 404.92 317 403.41 316.5 401.98 316 400.64 315.5 399.25 315 397.82 314.5 396.39 314 395.03 313.5 393.81 313 392.78 312.5 392.03 312 391.6 311.5 391.56 311 392.17 310.5 393.62 310 395.45 309.5 397.2 309 398.81 308.5 400.51 308 402.26 307.5 404.02 307 405.77 306.5 407.46 306 409.06 305.5 410.54 305 411.86 304.5 413.05 304 414.21 303.5 415.34 303 416.42 302.5 417.43 302 418.37 301.5 419.22 301 419.96 300.5 420.58 300 421.06 299.5 421.39 299 421.56 298.5 421.56 298 421.35 297.5 420.96 297 420.38 296.5 419.63 296 418.75 295.5 417.75 295 416.64 294.5 415.45 294 414.19 293.5 412.89 293 411.57 292.5 410.24 292 408.92 291.5 407.61 291 406.25 290.5 404.83 290 403.36 289.5 401.83 289 400.26 288.5 398.65 288 397 287.5 395.31 287 393.61 286.5 391.87 286 390.12 285.5 388.36 285 386.59 284.5 384.81 284 382.99 283.5 380.95 283 378.74 282.5 376.41 282 374.04 281.5 371.68 281 369.4 280.5 367.26 280 365.33 279.5 363.66 279 362.32 278.5 361.34 278 360.5 277.5 359.75 277 359.11 276.5 358.6 276 358.23 275.5 358.03 275 358 274.5 358.07 274 358.15 273.5 358.24 273 358.33 272.5 358.44 272 358.55 271.5 358.67 271 358.8 270.5 358.94 270 359.08 269.5 359.24 269 359.42 268.5 359.6 268 359.79 267.5 360 267 360.22 266.5 360.44 266 360.66 265.5 360.89 265 361.12 264.5 361.36 264 361.61 263.5 361.86 263 362.11 262.5 362.37 262 362.64 261.5 362.91 261 363.18 260.5 363.46 260 363.75 259.5 364.05 259 364.35 258.5 364.67 258 364.99 257.5 365.32 257 365.66 256.5 366 256 366.34 255.5 366.69 255 367.04 254.5 367.38 254 367.73 253.5 368.07 253 368.41 252.5 368.75 252 369.09 251.5 369.42 251 369.77 250.5 370.11 250 370.46 249.5 370.8 249 371.15 248.5 371.49 248 371.83 247.5 372.16 247 372.49 246.5 372.82 246 373.14 245.5 373.45 245 373.75 244.5 374.04 244 374.32 243.5 374.58 243 374.84 242.5 375.09 242 375.33 241.5 375.56 241 375.79 240.5 376.02 240 376.24 239.5 376.47 239 376.7 238.5 376.93 238 377.16 237.5 377.4 237 377.65 236.5 377.91 236 378.18 235.5 378.46 235 378.75 234.5 379.05 234 379.37 233.5 379.69 233 380.03 232.5 380.37 232 380.72 231.5 381.07 231 381.44 230.5 381.81 230 382.19 229.5 382.57 229 382.96 228.5 383.36 228 383.76 227.5 384.16 227 384.57 226.5 384.99 226 385.41 225.5 385.83 225 386.25 224.5 386.7 224 387.18 223.5 387.7 223 388.24 222.5 388.8 222 389.37 221.5 389.94 221 390.51 220.5 391.07 220 391.6 219.5 392.11 219 392.59 218.5 393.03 218 393.42 217.5 393.75 217 394.05 216.5 394.35 216 394.65 215.5 394.94 215 395.22 214.5 395.49 214 395.76 213.5 396.01 213 396.24 212.5 396.47 212 396.67 211.5 396.86 211 397.02 210.5 397.17 210 397.29 209.5 397.39 209 397.46 208.5 397.5 208 397.52 207.5 397.5 207 397.46 206.5 397.42 206 397.37 205.5 397.31 205 397.25 204.5 397.18 204 397.1 203.5 397.02 203 396.94 202.5 396.84 202 396.75 201.5 396.65 201 396.54 200.5 396.43 200 396.31 199.5 396.2 199 396.07 198.5 395.95 198 395.82 197.5 395.69 197 395.56 196.5 395.42 196 395.28 195.5 395.14 195 395 194.5 394.86 194 394.71 193.5 394.55 193 394.4 192.5 394.24 192 394.07 191.5 393.91 191 393.74 190.5 393.57 190 393.4 189.5 393.22 189 393.05 188.5 392.87 188 392.69 187.5 392.52 187 392.34 186.5 392.16 186 391.98 185.5 391.81 185 391.63 184.5 391.46 184 391.29 183.5 391.11 183 390.95 182.5 390.78 182 390.62 181.5 390.46 181 390.3 180.5 390.15 180 390 179.5 389.86 179 389.71 178.5 389.58 178 389.45 177.5 389.32 177 389.19 176.5 389.06 176 388.94 175.5 388.82 175 388.71 174.5 388.59 174 388.47 173.5 388.36 173 388.24 172.5 388.13 172 388.02 171.5 387.9 171 387.79 170.5 387.67 170 387.56 169.5 387.44 169 387.32 168.5 387.19 168 387.07 167.5 386.94 167 386.81 166.5 386.68 166 386.54 165.5 386.4 165 386.25 164.5 386.09 164 385.92 163.5 385.74 163 385.55 162.5 385.34 162 385.13 161.5 384.92 161 384.7 160.5 384.48 160 384.26 159.5 384.05 159 383.83 158.5 383.63 158 383.43 157.5 383.24 157 383.06 156.5 382.9 156 382.75 155.5 382.61 155 382.5 154.5 382.41 154 382.34 153.5 382.3 153 382.28 152.5 382.28 152 382.29 151.5 382.33 151 382.38 150.5 382.45 150 382.53 149.5 382.62 149 382.72 148.5 382.84 148 382.95 147.5 383.08 147 383.21 146.5 383.34 146 383.48 145.5 383.62 145 383.75 144.5 383.9 144 384.06 143.5 384.25 143 384.47 142.5 384.7 142 384.95 141.5 385.22 141 385.5 140.5 385.81 140 386.12 139.5 386.46 139 386.81 138.5 387.17 138 387.54 137.5 387.93 137 388.32 136.5 388.73 136 389.15 135.5 389.57 135 390 134.5 390.46 134 390.95 133.5 391.49 133 392.06 132.5 392.65 132 393.28 131.5 393.92 131 394.59 130.5 395.26 130 395.95 129.5 396.64 129 397.34 128.5 398.03 128 398.72 127.5 399.4 127 400.06 126.5 400.71 126 401.33 125.5 401.93 125 402.5 124.5 403.05 124 403.61 123.5 404.16 123 404.71 122.5 405.26 122 405.8 121.5 406.34 121 406.88 120.5 407.4 120 407.92 119.5 408.44 119 408.94 118.5 409.43 118 409.91 117.5 410.38 117 410.83 116.5 411.27 116 411.7 115.5 412.11 115 412.5 114.5 412.89 114 413.28 113.5 413.67 113 414.06 112.5 414.45 112 414.83 111.5 415.21 111 415.58 110.5 415.95 110 416.3 109.5 416.63 109 416.95 108.5 417.26 108 417.54 107.5 417.81 107 418.05 106.5 418.27 106 418.46 105.5 418.62 105 418.75 104.5 418.86 104 418.98 103.5 419.09 103 419.19 102.5 419.3 102 419.4 101.5 419.5 101 419.6 100.5 419.7 100 419.79 99.5 419.88 99 419.97 98.5 420.06 98 420.14 97.5 420.22 97 420.3 96.5 420.38 96 420.46 95.5 420.54 95 420.61 94.5 420.68 94 420.75 93.5 420.82 93 420.89 92.5 420.95 92 421.01 91.5 421.07 91 421.13 90.5 421.19 90 421.25 89.5 421.31 89 421.36 88.5 421.42 88 421.48 87.5 421.54 87 421.6 86.5 421.66 86 421.72 85.5 421.78 85 421.84 84.5 421.9 84 421.96 83.5 422.01 83 422.07 82.5 422.12 82 422.17 81.5 422.22 81 422.27 80.5 422.31 80 422.36 79.5 422.4 79 422.43 78.5 422.47 78 422.5Z" fill="#b20000" fill-opacity="0.5"/>
<line x1="77.7" y1="390.95" x2="448.5" y2="390.95" stroke="#000" stroke-width="2.75" stroke-dasharray="2.75 4.52"/>
<path d="M78 426.64L78.5 427.4 79 428.12 79.5 428.78 80 429.4 80.5 429.98 81 430.51 81.5 431 82 431.44 82.5 431.85 83 432.21 83.5 432.54 84 432.83 84.5 433.08 85 433.3 85.5 433.49 86 433.64 86.5 433.76 87 433.86 87.5 433.92 88 433.96 88.5 433.97 89 433.95 89.5 433.91 90 433.85 90.5 433.77 91 433.66 91.5 433.54 92 433.4 92.5 433.24 93 433.07 93.5 432.88 94 432.68 94.5 432.47 95 432.25 95.5 432.01 96 431.77 96.5 431.52 97 431.26 97.5 430.99 98 430.71 98.5 430.42 99 430.13 99.5 429.82 100 429.51 100.5 429.18 101 428.85 101.5 428.51 102 428.16 102.5 427.8 103 427.43 103.5 427.06 104 426.67 104.5 426.28 105 425.88 105.5 425.47 106 425.05 106.5 424.62 107 424.19 107.5 423.75 108 423.29 108.5 422.84 109 422.37 109.5 421.89 110 421.41 110.5 420.92 111 420.42 111.5 419.91 112 419.4 112.5 418.88 113 418.35 113.5 417.81 114 417.27 114.5 416.71 115 416.15 115.5 415.59 116 415.01 116.5 414.43 117 413.84 117.5 413.24 118 412.64 118.5 412.03 119 411.41 119.5 410.79 120 410.16 120.5 409.53 121 408.89 121.5 408.25 122 407.61 122.5 406.97 123 406.32 123.5 405.67 124 405.02 124.5 404.38 125 403.73 125.5 403.09 126 402.45 126.5 401.81 127 401.17 127.5 400.54 128 399.91 128.5 399.29 129 398.68 129.5 398.07 130 397.47 130.5 396.88 131 396.29 131.5 395.72 132 395.16 132.5 394.6 133 394.06 133.5 393.53 134 393.01 134.5 392.5 135 392.01 135.5 391.53 136 391.06 136.5 390.6 137 390.16 137.5 389.72 138 389.3 138.5 388.88 139 388.48 139.5 388.08 140 387.7 140.5 387.32 141 386.95 141.5 386.59 142 386.24 142.5 385.9 143 385.56 143.5 385.23 144 384.91 144.5 384.59 145 384.28 145.5 383.97 146 383.67 146.5 383.37 147 383.08 147.5 382.79 148 382.51 148.5 382.23 149 381.95 149.5 381.68 150 381.41 150.5 381.15 151 380.89 151.5 380.63 152 380.38 152.5 380.13 153 379.89 153.5 379.64 154 379.41 154.5 379.17 155 378.94 155.5 378.71 156 378.49 156.5 378.27 157 378.05 157.5 377.84 158 377.63 158.5 377.42 159 377.21 159.5 377.01 160 376.81 160.5 376.62 161 376.43 161.5 376.24 162 376.05 162.5 375.87 163 375.69 163.5 375.51 164 375.33 164.5 375.16 165 374.99 165.5 374.83 166 374.66 166.5 374.5 167 374.34 167.5 374.18 168 374.03 168.5 373.88 169 373.73 169.5 373.58 170 373.44 170.5 373.29 171 373.15 171.5 373.01 172 372.88 172.5 372.74 173 372.61 173.5 372.48 174 372.35 174.5 372.23 175 372.1 175.5 371.98 176 371.86 176.5 371.74 177 371.62 177.5 371.5 178 371.39 178.5 371.28 179 371.17 179.5 371.06 180 370.95 180.5 370.84 181 370.73 181.5 370.63 182 370.53 182.5 370.42 183 370.32 183.5 370.22 184 370.13 184.5 370.03 185 369.93 185.5 369.84 186 369.74 186.5 369.65 187 369.56 187.5 369.46 188 369.37 188.5 369.28 189 369.19 189.5 369.1 190 369.01 190.5 368.93 191 368.84 191.5 368.75 192 368.67 192.5 368.58 193 368.49 193.5 368.41 194 368.32 194.5 368.24 195 368.15 195.5 368.07 196 367.98 196.5 367.9 197 367.81 197.5 367.73 198 367.65 198.5 367.56 199 367.48 199.5 367.39 200 367.31 200.5 367.22 201 367.13 201.5 367.05 202 366.96 202.5 366.87 203 366.79 203.5 366.7 204 366.61 204.5 366.52 205 366.43 205.5 366.34 206 366.25 206.5 366.16 207 366.07 207.5 365.97 208 365.88 208.5 365.78 209 365.69 209.5 365.59 210 365.5 210.5 365.4 211 365.31 211.5 365.21 212 365.11 212.5 365.01 213 364.92 213.5 364.82 214 364.72 214.5 364.62 215 364.52 215.5 364.42 216 364.32 216.5 364.22 217 364.12 217.5 364.02 218 363.92 218.5 363.82 219 363.72 219.5 363.62 220 363.52 220.5 363.42 221 363.32 221.5 363.22 222 363.12 222.5 363.02 223 362.92 223.5 362.82 224 362.72 224.5 362.62 225 362.52 225.5 362.42 226 362.32 226.5 362.22 227 362.12 227.5 362.02 228 361.93 228.5 361.83 229 361.73 229.5 361.63 230 361.54 230.5 361.44 231 361.35 231.5 361.25 232 361.16 232.5 361.06 233 360.97 233.5 360.88 234 360.79 234.5 360.69 235 360.6 235.5 360.51 236 360.42 236.5 360.34 237 360.25 237.5 360.16 238 360.07 238.5 359.99 239 359.9 239.5 359.82 240 359.74 240.5 359.65 241 359.57 241.5 359.49 242 359.41 242.5 359.34 243 359.26 243.5 359.18 244 359.11 244.5 359.03 245 358.96 245.5 358.89 246 358.82 246.5 358.75 247 358.68 247.5 358.61 248 358.55 248.5 358.48 249 358.42 249.5 358.36 250 358.3 250.5 358.24 251 358.18 251.5 358.12 252 358.07 252.5 358.01 253 357.96 253.5 357.91 254 357.86 254.5 357.81 255 357.77 255.5 357.72 256 357.68 256.5 357.64 257 357.6 257.5 357.56 258 357.53 258.5 357.49 259 357.46 259.5 357.43 260 357.4 260.5 357.37 261 357.35 261.5 357.32 262 357.3 262.5 357.28 263 357.26 263.5 357.25 264 357.23 264.5 357.22 265 357.21 265.5 357.2 266 357.2 266.5 357.19 267 357.19 267.5 357.2 268 357.2 268.5 357.21 269 357.22 269.5 357.24 270 357.26 270.5 357.28 271 357.31 271.5 357.34 272 357.38 272.5 357.43 273 357.47 273.5 357.53 274 357.59 274.5 357.65 275 357.73 275.5 357.8 276 357.89 276.5 357.98 277 358.08 277.5 358.18 278 358.3 278.5 358.42 279 358.55 279.5 358.68 280 358.83 280.5 358.98 281 359.14 281.5 359.31 282 359.49 282.5 359.68 283 359.88 283.5 360.09 284 360.31 284.5 360.54 285 360.78 285.5 361.03 286 361.29 286.5 361.56 287 361.85 287.5 362.14 288 362.45 288.5 362.77 289 363.1 289.5 363.44 290 363.8 290.5 364.16 291 364.54 291.5 364.93 292 365.33 292.5 365.74 293 366.16 293.5 366.6 294 367.04 294.5 367.5 295 367.97 295.5 368.45 296 368.94 296.5 369.44 297 369.95 297.5 370.47 298 371.01 298.5 371.55 299 372.1 299.5 372.67 300 373.24 300.5 373.83 301 374.43 301.5 375.03 302 375.65 302.5 376.28 303 376.91 303.5 377.56 304 378.22 304.5 378.89 305 379.57 305.5 380.27 306 380.97 306.5 381.69 307 382.42 307.5 383.16 308 383.91 308.5 384.68 309 385.45 309.5 386.24 310 387.05 310.5 387.86 311 388.69 311.5 389.53 312 390.39 312.5 391.26 313 392.14 313.5 393.04 314 393.94 314.5 394.85 315 395.77 315.5 396.7 316 397.63 316.5 398.57 317 399.51 317.5 400.44 318 401.38 318.5 402.32 319 403.25 319.5 404.18 320 405.1 320.5 406.02 321 406.92 321.5 407.82 322 408.7 322.5 409.57 323 410.43 323.5 411.28 324 412.12 324.5 412.94 325 413.75 325.5 414.55 326 415.34 326.5 416.12 327 416.88 327.5 417.64 328 418.38 328.5 419.11 329 419.82 329.5 420.53 330 421.22 330.5 421.9 331 422.57 331.5 423.23 332 423.87 332.5 424.51 333 425.13 333.5 425.74 334 426.34 334.5 426.93 335 427.5 335.5 428.07 336 428.62 336.5 429.16 337 429.69 337.5 430.2 338 430.71 338.5 431.2 339 431.68 339.5 432.15 340 432.61 340.5 433.06 341 433.5 341.5 433.92 342 434.33 342.5 434.73 343 435.12 343.5 435.5 344 435.87 344.5 436.22 345 436.57 345.5 436.9 346 437.22 346.5 437.53 347 437.82 347.5 438.11 348 438.38 348.5 438.65 349 438.9 349.5 439.14 350 439.37 350.5 439.59 351 439.79 351.5 439.99 352 440.17 352.5 440.35 353 440.51 353.5 440.66 354 440.8 354.5 440.92 355 441.04 355.5 441.15 356 441.24 356.5 441.32 357 441.4 357.5 441.46 358 441.5 358.5 441.54 359 441.57 359.5 441.59 360 441.59 360.5 441.58 361 441.57 361.5 441.54 362 441.5 362.5 441.45 363 441.39 363.5 441.32 364 441.23 364.5 441.14 365 441.03 365.5 440.92 366 440.79 366.5 440.65 367 440.5 367.5 440.34 368 440.17 368.5 439.99 369 439.79 369.5 439.59 370 439.38 370.5 439.15 371 438.92 371.5 438.67 372 438.42 372.5 438.16 373 437.89 373.5 437.6 374 437.31 374.5 437.02 375 436.71 375.5 436.39 376 436.07 376.5 435.74 377 435.4 377.5 435.05 378 434.7 378.5 434.34 379 433.97 379.5 433.6 380 433.22 380.5 432.83 381 432.44 381.5 432.04 382 431.63 382.5 431.22 383 430.81 383.5 430.39 384 429.96 384.5 429.53 385 429.1 385.5 428.66 386 428.22 386.5 427.77 387 427.32 387.5 426.87 388 426.42 388.5 425.96 389 425.49 389.5 425.03 390 424.56 390.5 424.09 391 423.62 391.5 423.15 392 422.67 392.5 422.2 393 421.72 393.5 421.24 394 420.76 394.5 420.28 395 419.8 395.5 419.32 396 418.84 396.5 418.36 397 417.88 397.5 417.4 398 416.92 398.5 416.45 399 415.97 399.5 415.49 400 415.02 400.5 414.55 401 414.08 401.5 413.61 402 413.15 402.5 412.68 403 412.23 403.5 411.77 404 411.31 404.5 410.86 405 410.42 405.5 409.98 406 409.54 406.5 409.1 407 408.67 407.5 408.25 408 407.83 408.5 407.41 409 407 409.5 406.59 410 406.19 410.5 405.8 411 405.41 411.5 405.03 412 404.66 412.5 404.29 413 403.93 413.5 403.57 414 403.22 414.5 402.88 415 402.55 415.5 402.23 416 401.91 416.5 401.6 417 401.3 417.5 401.01 418 400.72 418.5 400.45 419 400.19 419.5 399.93 420 399.69 420.5 399.45 421 399.22 421.5 399.01 422 398.8 422.5 398.61 423 398.42 423.5 398.24 424 398.07 424.5 397.91 425 397.76 425.5 397.61 426 397.48 426.5 397.35 427 397.23 427.5 397.11 428 397.01 428.5 396.91 429 396.81 429.5 396.73 430 396.65 430.5 396.57 431 396.5 431.5 396.44 432 396.38 432.5 396.33 433 396.28 433.5 396.24 434 396.2 434.5 396.17 435 396.13 435.5 396.11 436 396.08 436.5 396.06 437 396.05 437.5 396.03 438 396.02 438.5 396.01 439 396.01 439.5 396 440 396 440.5 396 441 396 441.5 396 442 396 442.5 396 443 396.01 443.5 396.01 444 396.01 444.5 396.02 445 396.02 445.5 396.02 446 396.02 446.5 396.02 447 396.02 447.5 396.02 448 396.01 448.5 396.01" fill="none" stroke="#000" stroke-width="5.6" stroke-linejoin="round"/>
<path d="M78 361.67L78.5 361.88 79 362.11 79.5 362.35 80 362.6 80.5 362.85 81 363.11 81.5 363.38 82 363.66 82.5 363.94 83 364.22 83.5 364.51 84 364.8 84.5 365.1 85 365.4 85.5 365.69 86 365.99 86.5 366.29 87 366.59 87.5 366.89 88 367.19 88.5 367.48 89 367.77 89.5 368.06 90 368.34 90.5 368.62 91 368.89 91.5 369.15 92 369.41 92.5 369.66 93 369.9 93.5 370.13 94 370.35 94.5 370.56 95 370.76 95.5 370.95 96 371.13 96.5 371.29 97 371.44 97.5 371.57 98 371.69 98.5 371.79 99 371.88 99.5 371.95 100 372 100.5 372.03 101 372.05 101.5 372.04 102 372.01 102.5 371.97 103 371.9 103.5 371.81 104 371.7 104.5 371.58 105 371.44 105.5 371.27 106 371.1 106.5 370.9 107 370.69 107.5 370.46 108 370.22 108.5 369.96 109 369.69 109.5 369.4 110 369.1 110.5 368.79 111 368.46 111.5 368.12 112 367.78 112.5 367.42 113 367.04 113.5 366.66 114 366.27 114.5 365.87 115 365.47 115.5 365.05 116 364.63 116.5 364.19 117 363.76 117.5 363.31 118 362.86 118.5 362.41 119 361.95 119.5 361.48 120 361.02 120.5 360.54 121 360.07 121.5 359.59 122 359.11 122.5 358.63 123 358.15 123.5 357.67 124 357.19 124.5 356.71 125 356.23 125.5 355.75 126 355.28 126.5 354.8 127 354.33 127.5 353.86 128 353.4 128.5 352.94 129 352.49 129.5 352.04 130 351.6 130.5 351.16 131 350.73 131.5 350.3 132 349.89 132.5 349.48 133 349.07 133.5 348.67 134 348.28 134.5 347.89 135 347.52 135.5 347.14 136 346.78 136.5 346.42 137 346.06 137.5 345.72 138 345.38 138.5 345.04 139 344.72 139.5 344.4 140 344.08 140.5 343.78 141 343.47 141.5 343.18 142 342.89 142.5 342.61 143 342.34 143.5 342.07 144 341.81 144.5 341.56 145 341.31 145.5 341.07 146 340.84 146.5 340.61 147 340.39 147.5 340.18 148 339.98 148.5 339.78 149 339.59 149.5 339.4 150 339.22 150.5 339.05 151 338.89 151.5 338.73 152 338.58 152.5 338.44 153 338.3 153.5 338.17 154 338.05 154.5 337.94 155 337.83 155.5 337.73 156 337.64 156.5 337.55 157 337.47 157.5 337.4 158 337.33 158.5 337.28 159 337.23 159.5 337.18 160 337.15 160.5 337.12 161 337.1 161.5 337.08 162 337.08 162.5 337.08 163 337.09 163.5 337.1 164 337.13 164.5 337.16 165 337.19 165.5 337.24 166 337.29 166.5 337.35 167 337.42 167.5 337.49 168 337.58 168.5 337.67 169 337.76 169.5 337.87 170 337.98 170.5 338.1 171 338.23 171.5 338.37 172 338.51 172.5 338.66 173 338.82 173.5 338.99 174 339.16 174.5 339.34 175 339.53 175.5 339.73 176 339.93 176.5 340.15 177 340.37 177.5 340.6 178 340.83 178.5 341.08 179 341.33 179.5 341.59 180 341.86 180.5 342.13 181 342.42 181.5 342.71 182 343 182.5 343.3 183 343.61 183.5 343.92 184 344.24 184.5 344.56 185 344.88 185.5 345.21 186 345.54 186.5 345.87 187 346.2 187.5 346.53 188 346.86 188.5 347.19 189 347.52 189.5 347.85 190 348.17 190.5 348.5 191 348.82 191.5 349.13 192 349.44 192.5 349.75 193 350.05 193.5 350.35 194 350.64 194.5 350.92 195 351.2 195.5 351.47 196 351.73 196.5 351.98 197 352.22 197.5 352.45 198 352.67 198.5 352.88 199 353.07 199.5 353.26 200 353.43 200.5 353.59 201 353.74 201.5 353.87 202 353.98 202.5 354.08 203 354.17 203.5 354.24 204 354.29 204.5 354.33 205 354.34 205.5 354.34 206 354.32 206.5 354.28 207 354.22 207.5 354.14 208 354.04 208.5 353.91 209 353.77 209.5 353.61 210 353.42 210.5 353.22 211 353 211.5 352.75 212 352.49 212.5 352.22 213 351.92 213.5 351.6 214 351.27 214.5 350.92 215 350.56 215.5 350.17 216 349.77 216.5 349.36 217 348.93 217.5 348.48 218 348.02 218.5 347.55 219 347.05 219.5 346.55 220 346.03 220.5 345.5 221 344.95 221.5 344.39 222 343.82 222.5 343.24 223 342.64 223.5 342.04 224 341.42 224.5 340.79 225 340.15 225.5 339.5 226 338.83 226.5 338.16 227 337.48 227.5 336.79 228 336.09 228.5 335.38 229 334.67 229.5 333.94 230 333.21 230.5 332.47 231 331.72 231.5 330.97 232 330.21 232.5 329.44 233 328.67 233.5 327.9 234 327.13 234.5 326.35 235 325.57 235.5 324.79 236 324.01 236.5 323.23 237 322.46 237.5 321.68 238 320.9 238.5 320.13 239 319.37 239.5 318.6 240 317.85 240.5 317.09 241 316.35 241.5 315.61 242 314.88 242.5 314.16 243 313.44 243.5 312.74 244 312.05 244.5 311.36 245 310.69 245.5 310.03 246 309.39 246.5 308.76 247 308.14 247.5 307.54 248 306.95 248.5 306.38 249 305.83 249.5 305.29 250 304.77 250.5 304.27 251 303.8 251.5 303.34 252 302.9 252.5 302.48 253 302.09 253.5 301.72 254 301.37 254.5 301.05 255 300.75 255.5 300.48 256 300.23 256.5 300.02 257 299.82 257.5 299.66 258 299.53 258.5 299.42 259 299.35 259.5 299.31 260 299.29 260.5 299.31 261 299.37 261.5 299.45 262 299.56 262.5 299.7 263 299.87 263.5 300.06 264 300.28 264.5 300.52 265 300.79 265.5 301.08 266 301.4 266.5 301.73 267 302.08 267.5 302.46 268 302.85 268.5 303.26 269 303.68 269.5 304.12 270 304.57 270.5 305.04 271 305.52 271.5 306.01 272 306.51 272.5 307.02 273 307.54 273.5 308.07 274 308.61 274.5 309.15 275 309.69 275.5 310.24 276 310.79 276.5 311.35 277 311.9 277.5 312.46 278 313.01 278.5 313.56 279 314.11 279.5 314.66 280 315.2 280.5 315.74 281 316.27 281.5 316.8 282 317.32 282.5 317.84 283 318.34 283.5 318.84 284 319.33 284.5 319.81 285 320.28 285.5 320.73 286 321.18 286.5 321.62 287 322.04 287.5 322.45 288 322.84 288.5 323.23 289 323.59 289.5 323.94 290 324.28 290.5 324.59 291 324.89 291.5 325.18 292 325.44 292.5 325.69 293 325.91 293.5 326.11 294 326.3 294.5 326.46 295 326.6 295.5 326.71 296 326.81 296.5 326.88 297 326.92 297.5 326.94 298 326.93 298.5 326.9 299 326.84 299.5 326.75 300 326.63 300.5 326.48 301 326.31 301.5 326.1 302 325.87 302.5 325.6 303 325.3 303.5 324.97 304 324.6 304.5 324.2 305 323.77 305.5 323.3 306 322.79 306.5 322.25 307 321.67 307.5 321.06 308 320.41 308.5 319.74 309 319.04 309.5 318.32 310 317.58 310.5 316.82 311 316.06 311.5 315.28 312 314.5 312.5 313.71 313 312.92 313.5 312.14 314 311.37 314.5 310.6 315 309.85 315.5 309.12 316 308.41 316.5 307.72 317 307.05 317.5 306.42 318 305.82 318.5 305.26 319 304.73 319.5 304.25 320 303.82 320.5 303.43 321 303.1 321.5 302.82 322 302.61 322.5 302.45 323 302.36 323.5 302.34 324 302.39 324.5 302.51 325 302.7 325.5 302.94 326 303.24 326.5 303.59 327 303.99 327.5 304.43 328 304.9 328.5 305.41 329 305.94 329.5 306.5 330 307.08 330.5 307.67 331 308.27 331.5 308.87 332 309.48 332.5 310.09 333 310.71 333.5 311.33 334 311.95 334.5 312.58 335 313.2 335.5 313.83 336 314.46 336.5 315.09 337 315.72 337.5 316.35 338 316.98 338.5 317.61 339 318.24 339.5 318.87 340 319.49 340.5 320.12 341 320.74 341.5 321.36 342 321.97 342.5 322.58 343 323.19 343.5 323.79 344 324.39 344.5 324.99 345 325.57 345.5 326.16 346 326.73 346.5 327.3 347 327.87 347.5 328.42 348 328.97 348.5 329.51 349 330.04 349.5 330.57 350 331.08 350.5 331.59 351 332.08 351.5 332.57 352 333.04 352.5 333.5 353 333.96 353.5 334.4 354 334.82 354.5 335.24 355 335.64 355.5 336.03 356 336.41 356.5 336.77 357 337.12 357.5 337.46 358 337.78 358.5 338.08 359 338.37 359.5 338.64 360 338.9 360.5 339.13 361 339.36 361.5 339.56 362 339.75 362.5 339.91 363 340.06 363.5 340.19 364 340.3 364.5 340.4 365 340.47 365.5 340.52 366 340.55 366.5 340.55 367 340.54 367.5 340.51 368 340.45 368.5 340.38 369 340.28 369.5 340.16 370 340.03 370.5 339.87 371 339.7 371.5 339.51 372 339.3 372.5 339.07 373 338.82 373.5 338.56 374 338.27 374.5 337.98 375 337.66 375.5 337.33 376 336.99 376.5 336.62 377 336.25 377.5 335.86 378 335.45 378.5 335.03 379 334.6 379.5 334.15 380 333.69 380.5 333.22 381 332.74 381.5 332.27 382 331.79 382.5 331.32 383 330.86 383.5 330.42 384 329.99 384.5 329.59 385 329.21 385.5 328.86 386 328.55 386.5 328.28 387 328.05 387.5 327.86 388 327.73 388.5 327.65 389 327.62 389.5 327.64 390 327.7 390.5 327.81 391 327.95 391.5 328.13 392 328.34 392.5 328.58 393 328.84 393.5 329.13 394 329.43 394.5 329.75 395 330.07 395.5 330.41 396 330.75 396.5 331.1 397 331.44 397.5 331.78 398 332.1 398.5 332.42 399 332.72 399.5 333.01 400 333.27 400.5 333.5 401 333.71 401.5 333.89 402 334.03 402.5 334.14 403 334.2 403.5 334.22 404 334.18 404.5 334.1 405 333.97 405.5 333.77 406 333.51 406.5 333.18 407 332.78 407.5 332.29 408 331.72 408.5 331.06 409 330.29 409.5 329.43 410 328.45 410.5 327.36 411 326.15 411.5 324.82 412 323.35 412.5 321.75 413 320 413.5 318.1 414 316.05 414.5 313.83 415 311.46 415.5 308.91 416 306.18 416.5 303.27 417 300.17 417.5 296.89 418 293.49 418.5 290.04 419 286.61 419.5 283.28 420 280.11 420.5 277.17 421 274.46 421.5 271.97 422 269.69 422.5 267.61 423 265.72 423.5 264 424 262.46 424.5 261.08 425 259.85 425.5 258.76 426 257.8 426.5 256.97 427 256.25 427.5 255.65 428 255.14 428.5 254.72 429 254.39 429.5 254.14 430 253.96 430.5 253.83 431 253.76 431.5 253.73 432 253.74 432.5 253.78 433 253.84 433.5 253.93 434 254.03 434.5 254.16 435 254.32 435.5 254.5 436 254.71 436.5 254.95 437 255.21 437.5 255.51 438 255.84 438.5 256.2 439 256.6 439.5 257.03 440 257.49 440.5 258 441 258.54 441.5 259.12 442 259.74 442.5 260.41 443 261.11 443.5 261.86 444 262.66 444.5 263.5 445 264.39 445.5 265.32 446 266.3 446.5 267.34 447 268.42 447.5 269.56 448 270.75 448.5 272" fill="none" stroke="#f00" stroke-width="5.6" stroke-linejoin="round"/>
</g>
<rect x="86.4" y="45.4" width="92" height="58.9" rx="3" ry="3" fill="#fff" fill-opacity="0.8" stroke="#ccc" stroke-width="1.4"/>
<line x1="91.7" y1="59.9" x2="133.2" y2="59.9" stroke="#000" stroke-width="5.6"/>
<line x1="91.7" y1="86.5" x2="133.2" y2="86.5" stroke="#f00" stroke-width="5.6"/>
<text x="145.3" y="65.6" font-size="18" text-anchor="start">VC</text>
<text x="145.3" y="93" font-size="18" text-anchor="start">OP</text>
<line x1="77.7" y1="566.6" x2="77.7" y2="572.9" stroke="#000" stroke-width="1.6"/>
<text x="77.7" y="592.5" font-size="18" text-anchor="middle">0</text>
<line x1="151.86" y1="566.6" x2="151.86" y2="572.9" stroke="#000" stroke-width="1.6"/>
<text x="151.86" y="592.5" font-size="18" text-anchor="middle">20</text>
<line x1="226.02" y1="566.6" x2="226.02" y2="572.9" stroke="#000" stroke-width="1.6"/>
<text x="226.02" y="592.5" font-size="18" text-anchor="middle">40</text>
<line x1="300.18" y1="566.6" x2="300.18" y2="572.9" stroke="#000" stroke-width="1.6"/>
<text x="300.18" y="592.5" font-size="18" text-anchor="middle">60</text>
<line x1="374.34" y1="566.6" x2="374.34" y2="572.9" stroke="#000" stroke-width="1.6"/>
<text x="374.34" y="592.5" font-size="18" text-anchor="middle">80</text>
<line x1="448.5" y1="566.6" x2="448.5" y2="572.9" stroke="#000" stroke-width="1.6"/>
<text x="448.5" y="592.5" font-size="18" text-anchor="middle">100</text>
<line x1="71.4" y1="56.1" x2="77.7" y2="56.1" stroke="#000" stroke-width="1.6"/>
<text x="65.3" y="62.65" font-size="18" text-anchor="end">50</text>
<line x1="71.4" y1="123.07" x2="77.7" y2="123.07" stroke="#000" stroke-width="1.6"/>
<text x="65.3" y="129.62" font-size="18" text-anchor="end">40</text>
<line x1="71.4" y1="190.04" x2="77.7" y2="190.04" stroke="#000" stroke-width="1.6"/>
<text x="65.3" y="196.59" font-size="18" text-anchor="end">30</text>
<line x1="71.4" y1="257.01" x2="77.7" y2="257.01" stroke="#000" stroke-width="1.6"/>
<text x="65.3" y="263.56" font-size="18" text-anchor="end">20</text>
<line x1="71.4" y1="323.98" x2="77.7" y2="323.98" stroke="#000" stroke-width="1.6"/>
<text x="65.3" y="330.53" font-size="18" text-anchor="end">10</text>
<line x1="71.4" y1="390.95" x2="77.7" y2="390.95" stroke="#000" stroke-width="1.6"/>
<text x="65.3" y="397.5" font-size="18" text-anchor="end">0</text>
<line x1="71.4" y1="457.92" x2="77.7" y2="457.92" stroke="#000" stroke-width="1.6"/>
<text x="65.3" y="464.47" font-size="18" text-anchor="end">−10</text>
<line x1="71.4" y1="524.89" x2="77.7" y2="524.89" stroke="#000" stroke-width="1.6"/>
<text x="65.3" y="531.44" font-size="18" text-anchor="end">−20</text>
<rect x="77.7" y="36.9" width="370.8" height="529.7" fill="none" stroke="#000" stroke-width="1.6"/>
<text x="263.1" y="617.6" font-size="18" text-anchor="middle">Time (%)</text>
<text x="263.1" y="26.1" font-size="22" text-anchor="middle">Ankle Flexion/Extension VC-OP</text>
<text x="0" y="0" font-size="18.3" text-anchor="middle" transform="translate(14.4 302.35) rotate(-90)">Ankle&#160;Angles&#160;&#160;(deg)</text>
<g clip-path="url(#cA2)">
<path d="M794.5 528.84L794.5 529.86 795 530.8 795.5 531.45 796 531.82 796.5 531.95 797 531.86 797.5 531.57 798 531.1 798.5 530.49 799 529.75 799.5 528.92L799.5 528.84Z" fill="#cccccc"/>
<line x1="554.7" y1="305.85" x2="925.7" y2="305.85" stroke="#000" stroke-width="1.85" stroke-dasharray="1.85 2.98"/>
<path d="M555 475.34L555.5 478.19 556 480.81 556.5 483.19 557 485.34 557.5 487.27 558 488.98 558.5 490.47 559 491.76 559.5 492.85 560 493.73 560.5 494.42 561 494.93 561.5 495.25 562 495.39 562.5 495.36 563 495.15 563.5 494.79 564 494.26 564.5 493.59 565 492.76 565.5 491.79 566 490.67 566.5 489.43 567 488.07 567.5 486.62 568 485.1 568.5 483.52 569 481.91 569.5 480.29 570 478.67 570.5 477.08 571 475.54 571.5 474.06 572 472.68 572.5 471.4 573 470.25 573.5 469.25 574 468.41 574.5 467.7 575 467.11 575.5 466.64 576 466.25 576.5 465.94 577 465.69 577.5 465.49 578 465.31 578.5 465.15 579 464.98 579.5 464.8 580 464.58 580.5 464.32 581 463.98 581.5 463.57 582 463.06 582.5 462.45 583 461.75 583.5 460.97 584 460.09 584.5 459.14 585 458.11 585.5 457.01 586 455.85 586.5 454.62 587 453.32 587.5 451.98 588 450.58 588.5 449.14 589 447.65 589.5 446.13 590 444.57 590.5 442.98 591 441.37 591.5 439.74 592 438.09 592.5 436.44 593 434.79 593.5 433.15 594 431.52 594.5 429.9 595 428.31 595.5 426.74 596 425.21 596.5 423.72 597 422.28 597.5 420.89 598 419.56 598.5 418.29 599 417.09 599.5 415.96 600 414.92 600.5 413.97 601 413.11 601.5 412.34 602 411.68 602.5 411.12 603 410.65 603.5 410.27 604 409.97 604.5 409.76 605 409.62 605.5 409.56 606 409.58 606.5 409.65 607 409.79 607.5 409.99 608 410.25 608.5 410.56 609 410.91 609.5 411.31 610 411.75 610.5 412.23 611 412.74 611.5 413.28 612 413.84 612.5 414.43 613 415.03 613.5 415.65 614 416.28 614.5 416.92 615 417.56 615.5 418.21 616 418.85 616.5 419.49 617 420.12 617.5 420.74 618 421.34 618.5 421.93 619 422.49 619.5 423.03 620 423.54 620.5 424.01 621 424.45 621.5 424.86 622 425.22 622.5 425.53 623 425.8 623.5 426.02 624 426.17 624.5 426.27 625 426.32 625.5 426.3 626 426.23 626.5 426.11 627 425.93 627.5 425.71 628 425.44 628.5 425.12 629 424.77 629.5 424.37 630 423.93 630.5 423.45 631 422.94 631.5 422.4 632 421.83 632.5 421.22 633 420.59 633.5 419.94 634 419.26 634.5 418.56 635 417.84 635.5 417.1 636 416.35 636.5 415.59 637 414.82 637.5 414.03 638 413.24 638.5 412.45 639 411.65 639.5 410.85 640 410.05 640.5 409.25 641 408.45 641.5 407.66 642 406.87 642.5 406.08 643 405.29 643.5 404.5 644 403.71 644.5 402.93 645 402.14 645.5 401.36 646 400.57 646.5 399.79 647 399 647.5 398.22 648 397.44 648.5 396.65 649 395.87 649.5 395.08 650 394.29 650.5 393.51 651 392.72 651.5 391.93 652 391.14 652.5 390.34 653 389.55 653.5 388.75 654 387.96 654.5 387.16 655 386.35 655.5 385.55 656 384.74 656.5 383.93 657 383.12 657.5 382.3 658 381.48 658.5 380.66 659 379.84 659.5 379.01 660 378.17 660.5 377.34 661 376.49 661.5 375.65 662 374.8 662.5 373.95 663 373.09 663.5 372.22 664 371.36 664.5 370.48 665 369.6 665.5 368.72 666 367.83 666.5 366.94 667 366.04 667.5 365.13 668 364.22 668.5 363.31 669 362.39 669.5 361.46 670 360.53 670.5 359.59 671 358.65 671.5 357.71 672 356.76 672.5 355.8 673 354.84 673.5 353.88 674 352.91 674.5 351.95 675 351 675.5 350.06 676 349.14 676.5 348.25 677 347.38 677.5 346.55 678 345.76 678.5 345.01 679 344.31 679.5 343.67 680 343.09 680.5 342.56 681 342.09 681.5 341.68 682 341.32 682.5 341.02 683 340.77 683.5 340.59 684 340.45 684.5 340.37 685 340.35 685.5 340.38 686 340.47 686.5 340.61 687 340.81 687.5 341.06 688 341.36 688.5 341.72 689 342.13 689.5 342.59 690 343.1 690.5 343.67 691 344.29 691.5 344.96 692 345.69 692.5 346.46 693 347.29 693.5 348.16 694 349.09 694.5 350.07 695 351.1 695.5 352.17 696 353.3 696.5 354.48 697 355.7 697.5 356.98 698 358.3 698.5 359.67 699 361.09 699.5 362.56 700 364.07 700.5 365.64 701 367.25 701.5 368.9 702 370.61 702.5 372.36 703 374.15 703.5 375.99 704 377.86 704.5 379.78 705 381.72 705.5 383.7 706 385.71 706.5 387.75 707 389.81 707.5 391.89 708 393.99 708.5 396.1 709 398.23 709.5 400.37 710 402.52 710.5 404.68 711 406.84 711.5 408.99 712 411.15 712.5 413.31 713 415.45 713.5 417.59 714 419.71 714.5 421.82 715 423.91 715.5 425.99 716 428.03 716.5 430.05 717 432.04 717.5 434 718 435.91 718.5 437.78 719 439.61 719.5 441.39 720 443.12 720.5 444.79 721 446.4 721.5 447.95 722 449.44 722.5 450.88 723 452.27 723.5 453.62 724 454.92 724.5 456.18 725 457.41 725.5 458.6 726 459.77 726.5 460.92 727 462.05 727.5 463.16 728 464.26 728.5 465.35 729 466.44 729.5 467.53 730 468.62 730.5 469.71 731 470.78 731.5 471.85 732 472.91 732.5 473.94 733 474.96 733.5 475.96 734 476.92 734.5 477.86 735 478.77 735.5 479.64 736 480.46 736.5 481.25 737 481.99 737.5 482.68 738 483.32 738.5 483.9 739 484.42 739.5 484.88 740 485.27 740.5 485.6 741 485.85 741.5 486.03 742 486.12 742.5 486.14 743 486.07 743.5 485.91 744 485.66 744.5 485.31 745 484.87 745.5 484.32 746 483.67 746.5 482.91 747 482.03 747.5 481.04 748 479.94 748.5 478.71 749 477.36 749.5 475.88 750 474.27 750.5 472.52 751 470.64 751.5 468.61 752 466.44 752.5 464.13 753 461.68 753.5 459.11 754 456.46 754.5 453.72 755 450.93 755.5 448.09 756 445.24 756.5 442.39 757 439.56 757.5 436.76 758 434.01 758.5 431.35 759 428.77 759.5 426.31 760 423.98 760.5 421.8 761 419.78 761.5 417.92 762 416.22 762.5 414.67 763 413.27 763.5 412.01 764 410.89 764.5 409.9 765 409.04 765.5 408.31 766 407.71 766.5 407.22 767 406.84 767.5 406.58 768 406.42 768.5 406.36 769 406.4 769.5 406.53 770 406.76 770.5 407.07 771 407.46 771.5 407.93 772 408.47 772.5 409.08 773 409.76 773.5 410.5 774 411.3 774.5 412.15 775 413.04 775.5 413.99 776 415 776.5 416.08 777 417.24 777.5 418.49 778 419.86 778.5 421.33 779 422.94 779.5 424.69 780 426.58 780.5 428.65 781 430.88 781.5 433.3 782 435.92 782.5 438.75 783 441.79 783.5 445.07 784 448.59 784.5 452.37 785 456.41 785.5 460.73 786 465.31 786.5 470.09 787 475.03 787.5 480.05 788 485.12 788.5 490.17 789 495.13 789.5 499.97 790 504.6 790.5 508.97 791 513.01 791.5 516.67 792 519.89 792.5 522.67 793 525.03 793.5 527 794 528.6 794.5 529.86 795 530.8 795.5 531.45 796 531.82 796.5 531.95 797 531.86 797.5 531.57 798 531.1 798.5 530.49 799 529.75 799.5 528.92 800 528 800.5 527.04 801 526.04 801.5 525.05 802 524.07 802.5 523.14 803 522.25 803.5 521.39 804 520.58 804.5 519.79 805 519.04 805.5 518.31 806 517.61 806.5 516.93 807 516.27 807.5 515.62 808 514.98 808.5 514.35 809 513.73 809.5 513.11 810 512.49 810.5 511.86 811 511.23 811.5 510.59 812 509.93 812.5 509.26 813 508.57 813.5 507.86 814 507.12 814.5 506.36 815 505.56 815.5 504.73 816 503.86 816.5 502.95 817 502 817.5 501 818 499.95 818.5 498.84 819 497.69 819.5 496.48 820 495.24 820.5 493.97 821 492.69 821.5 491.41 822 490.13 822.5 488.88 823 487.65 823.5 486.47 824 485.35 824.5 484.28 825 483.3 825.5 482.39 826 481.57 826.5 480.81 827 480.13 827.5 479.5 828 478.94 828.5 478.43 829 477.98 829.5 477.57 830 477.2 830.5 476.87 831 476.57 831.5 476.31 832 476.07 832.5 475.86 833 475.68 833.5 475.52 834 475.4 834.5 475.3 835 475.23 835.5 475.2 836 475.18 836.5 475.2 837 475.25 837.5 475.32 838 475.43 838.5 475.56 839 475.72 839.5 475.91 840 476.13 840.5 476.38 841 476.66 841.5 476.96 842 477.3 842.5 477.66 843 478.06 843.5 478.48 844 478.93 844.5 479.41 845 479.91 845.5 480.45 846 481.01 846.5 481.6 847 482.21 847.5 482.84 848 483.5 848.5 484.18 849 484.89 849.5 485.62 850 486.37 850.5 487.13 851 487.92 851.5 488.73 852 489.56 852.5 490.4 853 491.26 853.5 492.14 854 493.03 854.5 493.94 855 494.86 855.5 495.8 856 496.75 856.5 497.71 857 498.66 857.5 499.61 858 500.52 858.5 501.38 859 502.19 859.5 502.93 860 503.58 860.5 504.12 861 504.55 861.5 504.85 862 505.01 862.5 505.01 863 504.83 863.5 504.47 864 503.91 864.5 503.13 865 502.12 865.5 500.87 866 499.36 866.5 497.57 867 495.51 867.5 493.2 868 490.66 868.5 487.91 869 484.98 869.5 481.89 870 478.67 870.5 475.34 871 471.93 871.5 468.46 872 464.95 872.5 461.44 873 457.94 873.5 454.47 874 451.08 874.5 447.76 875 444.56 875.5 441.49 876 438.54 876.5 435.74 877 433.07 877.5 430.54 878 428.17 878.5 425.96 879 423.9 879.5 422.01 880 420.3 880.5 418.76 881 417.4 881.5 416.23 882 415.25 882.5 414.47 883 413.9 883.5 413.53 884 413.37 884.5 413.43 885 413.71 885.5 414.19 886 414.87 886.5 415.74 887 416.79 887.5 418.02 888 419.42 888.5 420.99 889 422.7 889.5 424.57 890 426.57 890.5 428.7 891 430.96 891.5 433.34 892 435.83 892.5 438.42 893 441.1 893.5 443.87 894 446.72 894.5 449.64 895 452.61 895.5 455.61 896 458.65 896.5 461.69 897 464.73 897.5 467.76 898 470.76 898.5 473.71 899 476.61 899.5 479.44 900 482.19 900.5 484.84 901 487.38 901.5 489.8 902 492.08 902.5 494.22 903 496.18 903.5 497.98 904 499.62 904.5 501.11 905 502.44 905.5 503.63 906 504.69 906.5 505.62 907 506.43 907.5 507.13 908 507.72 908.5 508.2 909 508.6 909.5 508.91 910 509.14 910.5 509.29 911 509.38 911.5 509.41 912 509.39 912.5 509.32 913 509.22 913.5 509.08 914 508.92 914.5 508.74 915 508.54 915.5 508.33 916 508.11 916.5 507.87 917 507.62 917.5 507.36 918 507.08 918.5 506.79 919 506.49 919.5 506.17 920 505.85 920.5 505.51 921 505.16 921.5 504.8 922 504.43 922.5 504.05 923 503.67 923.5 503.27 924 502.86 924.5 502.45 925 502.03 925.5 501.59 925.7 501.42" fill="none" stroke="#000" stroke-width="3.9" stroke-linejoin="round"/>
</g>
<text y="79.46" font-size="14.4" fill="#c81414"><tspan x="704.1" font-style="italic">α</tspan><tspan>=0.05:</tspan><tspan x="771.9" font-style="italic">t</tspan><tspan x="780.7" dy="-5.6" font-size="10.5">*</tspan><tspan x="789.6" dy="5.6">=3.172</tspan></text>
<rect x="742.5" y="492.4" width="107.5" height="33" fill="#fff" fill-opacity="0.3" stroke="#000" stroke-opacity="0.4" stroke-width="1.4"/>
<line x1="554.7" y1="82.86" x2="925.7" y2="82.86" stroke="#000" stroke-width="2" stroke-dasharray="7.4 3.2"/>
<line x1="554.7" y1="528.84" x2="925.7" y2="528.84" stroke="#000" stroke-width="2" stroke-dasharray="7.4 3.2"/>
<text x="750.8" y="513.7" font-size="18.2" text-anchor="start">p = 0.049</text>
<line x1="554.7" y1="566.7" x2="554.7" y2="573" stroke="#000" stroke-width="1.6"/>
<text x="554.7" y="592.6" font-size="18" text-anchor="middle">0</text>
<line x1="628.9" y1="566.7" x2="628.9" y2="573" stroke="#000" stroke-width="1.6"/>
<text x="628.9" y="592.6" font-size="18" text-anchor="middle">20</text>
<line x1="703.1" y1="566.7" x2="703.1" y2="573" stroke="#000" stroke-width="1.6"/>
<text x="703.1" y="592.6" font-size="18" text-anchor="middle">40</text>
<line x1="777.3" y1="566.7" x2="777.3" y2="573" stroke="#000" stroke-width="1.6"/>
<text x="777.3" y="592.6" font-size="18" text-anchor="middle">60</text>
<line x1="851.5" y1="566.7" x2="851.5" y2="573" stroke="#000" stroke-width="1.6"/>
<text x="851.5" y="592.6" font-size="18" text-anchor="middle">80</text>
<line x1="925.7" y1="566.7" x2="925.7" y2="573" stroke="#000" stroke-width="1.6"/>
<text x="925.7" y="592.6" font-size="18" text-anchor="middle">100</text>
<line x1="548.4" y1="94.95" x2="554.7" y2="94.95" stroke="#000" stroke-width="1.6"/>
<text x="542.3" y="101.5" font-size="18" text-anchor="end">3</text>
<line x1="548.4" y1="165.25" x2="554.7" y2="165.25" stroke="#000" stroke-width="1.6"/>
<text x="542.3" y="171.8" font-size="18" text-anchor="end">2</text>
<line x1="548.4" y1="235.55" x2="554.7" y2="235.55" stroke="#000" stroke-width="1.6"/>
<text x="542.3" y="242.1" font-size="18" text-anchor="end">1</text>
<line x1="548.4" y1="305.85" x2="554.7" y2="305.85" stroke="#000" stroke-width="1.6"/>
<text x="542.3" y="312.4" font-size="18" text-anchor="end">0</text>
<line x1="548.4" y1="376.15" x2="554.7" y2="376.15" stroke="#000" stroke-width="1.6"/>
<text x="542.3" y="382.7" font-size="18" text-anchor="end">−1</text>
<line x1="548.4" y1="446.45" x2="554.7" y2="446.45" stroke="#000" stroke-width="1.6"/>
<text x="542.3" y="453" font-size="18" text-anchor="end">−2</text>
<line x1="548.4" y1="516.75" x2="554.7" y2="516.75" stroke="#000" stroke-width="1.6"/>
<text x="542.3" y="523.3" font-size="18" text-anchor="end">−3</text>
<rect x="554.7" y="36.9" width="371" height="529.8" fill="none" stroke="#000" stroke-width="1.6"/>
<text x="740.2" y="617.7" font-size="18" text-anchor="middle">Time (%)</text>
<text x="740.2" y="26.1" font-size="22" text-anchor="middle">Ankle Flexion/Extension VC-OP</text>
<text x="0" y="0" font-size="29.2" text-anchor="middle" transform="translate(502.6 305.2) rotate(-90)">SPM{t}</text>
<g clip-path="url(#cB1)">
<path d="M1058.75 415L1059.25 414.94 1059.75 414.81 1060.25 414.6 1060.75 414.32 1061.25 413.98 1061.75 413.57 1062.25 413.09 1062.75 412.56 1063.25 411.97 1063.75 411.32 1064.25 410.62 1064.75 409.87 1065.25 409.08 1065.75 408.24 1066.25 407.36 1066.75 406.44 1067.25 405.49 1067.75 404.48 1068.25 403.3 1068.75 401.95 1069.25 400.45 1069.75 398.83 1070.25 397.1 1070.75 395.29 1071.25 393.43 1071.75 391.54 1072.25 389.63 1072.75 387.74 1073.25 385.88 1073.75 384.09 1074.25 382.37 1074.75 380.76 1075.25 379.25 1075.75 377.71 1076.25 376.14 1076.75 374.54 1077.25 372.94 1077.75 371.35 1078.25 369.79 1078.75 368.27 1079.25 366.82 1079.75 365.44 1080.25 364.16 1080.75 362.99 1081.25 361.94 1081.75 361.04 1082.25 360.3 1082.75 359.72 1083.25 359.17 1083.75 358.64 1084.25 358.13 1084.75 357.63 1085.25 357.15 1085.75 356.7 1086.25 356.26 1086.75 355.85 1087.25 355.46 1087.75 355.09 1088.25 354.75 1088.75 354.43 1089.25 354.14 1089.75 353.88 1090.25 353.65 1090.75 353.45 1091.25 353.28 1091.75 353.14 1092.25 353.04 1092.75 352.96 1093.25 352.89 1093.75 352.82 1094.25 352.74 1094.75 352.67 1095.25 352.59 1095.75 352.52 1096.25 352.45 1096.75 352.37 1097.25 352.31 1097.75 352.24 1098.25 352.18 1098.75 352.12 1099.25 352.07 1099.75 352.02 1100.25 351.98 1100.75 351.95 1101.25 351.92 1101.75 351.9 1102.25 351.89 1102.75 351.89 1103.25 351.89 1103.75 351.91 1104.25 351.94 1104.75 351.98 1105.25 352.03 1105.75 352.08 1106.25 352.15 1106.75 352.22 1107.25 352.3 1107.75 352.38 1108.25 352.47 1108.75 352.57 1109.25 352.67 1109.75 352.78 1110.25 352.89 1110.75 353.01 1111.25 353.13 1111.75 353.26 1112.25 353.39 1112.75 353.52 1113.25 353.66 1113.75 353.81 1114.25 353.96 1114.75 354.11 1115.25 354.26 1115.75 354.42 1116.25 354.58 1116.75 354.75 1117.25 354.92 1117.75 355.09 1118.25 355.27 1118.75 355.47 1119.25 355.69 1119.75 355.92 1120.25 356.16 1120.75 356.41 1121.25 356.68 1121.75 356.96 1122.25 357.24 1122.75 357.54 1123.25 357.85 1123.75 358.16 1124.25 358.48 1124.75 358.81 1125.25 359.15 1125.75 359.49 1126.25 359.83 1126.75 360.18 1127.25 360.53 1127.75 360.89 1128.25 361.24 1128.75 361.6 1129.25 361.96 1129.75 362.32 1130.25 362.68 1130.75 363.05 1131.25 363.42 1131.75 363.81 1132.25 364.2 1132.75 364.6 1133.25 365.01 1133.75 365.43 1134.25 365.85 1134.75 366.28 1135.25 366.72 1135.75 367.16 1136.25 367.61 1136.75 368.07 1137.25 368.53 1137.75 369 1138.25 369.47 1138.75 369.94 1139.25 370.42 1139.75 370.91 1140.25 371.4 1140.75 371.89 1141.25 372.38 1141.75 372.88 1142.25 373.38 1142.75 373.88 1143.25 374.39 1143.75 374.89 1144.25 375.4 1144.75 375.91 1145.25 376.43 1145.75 376.96 1146.25 377.49 1146.75 378.04 1147.25 378.6 1147.75 379.16 1148.25 379.74 1148.75 380.32 1149.25 380.9 1149.75 381.5 1150.25 382.09 1150.75 382.7 1151.25 383.31 1151.75 383.92 1152.25 384.53 1152.75 385.15 1153.25 385.77 1153.75 386.39 1154.25 387.02 1154.75 387.65 1155.25 388.3 1155.75 388.96 1156.25 389.63 1156.75 390.31 1157.25 390.99 1157.75 391.68 1158.25 392.37 1158.75 393.06 1159.25 393.75 1159.75 394.44 1160.25 395.12 1160.75 395.8 1161.25 396.47 1161.75 397.14 1162.25 397.79 1162.75 398.43 1163.25 399.05 1163.75 399.67 1164.25 400.28 1164.75 400.88 1165.25 401.48 1165.75 402.08 1166.25 402.67 1166.75 403.26 1167.25 403.85 1167.75 404.43 1168.25 405 1168.75 405.57 1169.25 406.14 1169.75 406.71 1170.25 407.27 1170.75 407.83 1171.25 408.38 1171.75 408.93 1172.25 409.48 1172.75 410.02 1173.25 410.56 1173.75 411.1 1174.25 411.63 1174.75 412.16 1175.25 412.7 1175.75 413.23 1176.25 413.77 1176.75 414.3 1177.25 414.84 1177.75 415.37 1178.25 415.9 1178.75 416.43 1179.25 416.96 1179.75 417.48 1180.25 418 1180.75 418.52 1181.25 419.03 1181.75 419.53 1182.25 420.03 1182.75 420.52 1183.25 421 1183.75 421.48 1184.25 421.94 1184.75 422.4 1185.25 422.85 1185.75 423.28 1186.25 423.71 1186.75 424.13 1187.25 424.53 1187.75 424.94 1188.25 425.34 1188.75 425.74 1189.25 426.13 1189.75 426.52 1190.25 426.91 1190.75 427.29 1191.25 427.67 1191.75 428.05 1192.25 428.42 1192.75 428.79 1193.25 429.15 1193.75 429.51 1194.25 429.87 1194.75 430.22 1195.25 430.57 1195.75 430.91 1196.25 431.25 1196.75 431.58 1197.25 431.92 1197.75 432.24 1198.25 432.57 1198.75 432.88 1199.25 433.2 1199.75 433.51 1200.25 433.81 1200.75 434.11 1201.25 434.41 1201.75 434.7 1202.25 434.99 1202.75 435.27 1203.25 435.55 1203.75 435.83 1204.25 436.11 1204.75 436.39 1205.25 436.66 1205.75 436.93 1206.25 437.21 1206.75 437.48 1207.25 437.74 1207.75 438.01 1208.25 438.27 1208.75 438.53 1209.25 438.79 1209.75 439.05 1210.25 439.3 1210.75 439.55 1211.25 439.8 1211.75 440.05 1212.25 440.29 1212.75 440.53 1213.25 440.76 1213.75 441 1214.25 441.23 1214.75 441.46 1215.25 441.68 1215.75 441.9 1216.25 442.12 1216.75 442.33 1217.25 442.54 1217.75 442.75 1218.25 442.95 1218.75 443.16 1219.25 443.37 1219.75 443.58 1220.25 443.78 1220.75 443.99 1221.25 444.19 1221.75 444.39 1222.25 444.58 1222.75 444.77 1223.25 444.95 1223.75 445.11 1224.25 445.27 1224.75 445.42 1225.25 445.55 1225.75 445.67 1226.25 445.77 1226.75 445.85 1227.25 445.92 1227.75 445.97 1228.25 445.99 1228.75 445.99 1229.25 445.98 1229.75 445.94 1230.25 445.88 1230.75 445.81 1231.25 445.72 1231.75 445.61 1232.25 445.49 1232.75 445.36 1233.25 445.21 1233.75 445.06 1234.25 444.9 1234.75 444.72 1235.25 444.54 1235.75 444.36 1236.25 444.17 1236.75 443.97 1237.25 443.77 1237.75 443.57 1238.25 443.37 1238.75 443.17 1239.25 442.97 1239.75 442.78 1240.25 442.57 1240.75 442.34 1241.25 442.08 1241.75 441.81 1242.25 441.51 1242.75 441.2 1243.25 440.87 1243.75 440.53 1244.25 440.17 1244.75 439.8 1245.25 439.41 1245.75 439.02 1246.25 438.61 1246.75 438.19 1247.25 437.77 1247.75 437.34 1248.25 436.91 1248.75 436.47 1249.25 436.03 1249.75 435.58 1250.25 435.14 1250.75 434.69 1251.25 434.25 1251.75 433.81 1252.25 433.37 1252.75 432.92 1253.25 432.43 1253.75 431.92 1254.25 431.38 1254.75 430.81 1255.25 430.21 1255.75 429.59 1256.25 428.95 1256.75 428.29 1257.25 427.6 1257.75 426.89 1258.25 426.16 1258.75 425.42 1259.25 424.65 1259.75 423.87 1260.25 423.07 1260.75 422.25 1261.25 421.42 1261.75 420.56 1262.25 419.57 1262.75 418.45 1263.25 417.21 1263.75 415.85 1264.25 414.39 1264.75 412.84 1265.25 411.21 1265.75 409.51 1266.25 407.75 1266.75 405.95 1267.25 404.1 1267.75 402.23 1268.25 400.15 1268.75 397.73 1269.25 395.08 1269.75 392.3 1270.25 389.46 1270.75 386.67 1271.25 384.02 1271.75 381.6 1272.25 379.49 1272.75 377.77 1273.25 376.33 1273.75 375.12 1274.25 374.05 1274.75 373.08 1275.25 372.14 1275.75 371.16 1276.25 370.07 1276.75 368.83 1277.25 367.35 1277.75 365.65 1278.25 363.88 1278.75 362.06 1279.25 360.18 1279.75 358.26 1280.25 356.29 1280.75 354.29 1281.25 352.26 1281.75 350.21 1282.25 348.14 1282.75 346.05 1283.25 343.95 1283.75 341.85 1284.25 339.75 1284.75 337.65 1285.25 335.57 1285.75 333.51 1286.25 331.46 1286.75 329.45 1287.25 327.43 1287.75 325.38 1288.25 323.31 1288.75 321.21 1289.25 319.11 1289.75 316.99 1290.25 314.88 1290.75 312.77 1291.25 310.67 1291.75 308.58 1292.25 306.52 1292.75 304.49 1293.25 302.49 1293.75 300.54 1294.25 298.62 1294.75 296.76 1295.25 294.96 1295.75 293.23 1296.25 291.56 1296.75 289.97 1297.25 288.46 1297.75 287.02 1298.25 285.64 1298.75 284.32 1299.25 283.05 1299.75 281.83 1300.25 280.65 1300.75 279.51 1301.25 278.39 1301.75 277.3 1302.25 276.23 1302.75 275.17 1303.25 274.12 1303.75 273.07 1304.25 272.01 1304.75 270.94 1305.25 269.86 1305.75 268.75 1306.25 267.62 1306.75 266.45 1307.25 265.25 1307.75 264 1308.25 262.7 1308.75 261.34 1309.25 259.92 1309.75 258.43 1310.25 256.87 1310.75 255.22 1311.25 253.44 1311.75 251.54 1312.25 249.55 1312.75 247.48 1313.25 245.37 1313.75 243.24 1314.25 241.1 1314.75 238.99 1315.25 236.93 1315.75 234.95 1316.25 233.06 1316.75 231.26 1317.25 229.51 1317.75 227.78 1318.25 226.08 1318.75 224.4 1319.25 222.74 1319.75 221.1 1320.25 219.47 1320.75 217.84 1321.25 216.22 1321.75 214.59 1322.25 212.96 1322.75 211.32 1323.25 209.67 1323.75 207.99 1324.25 206.31 1324.75 204.61 1325.25 202.91 1325.75 201.2 1326.25 199.5 1326.75 197.79 1327.25 196.1 1327.75 194.42 1328.25 192.75 1328.75 191.1 1329.25 189.47 1329.75 187.87 1330.25 186.3 1330.75 184.75 1331.25 183.2 1331.75 181.65 1332.25 180.1 1332.75 178.56 1333.25 177.03 1333.75 175.52 1334.25 174.03 1334.75 172.56 1335.25 171.12 1335.75 169.71 1336.25 168.33 1336.75 167 1337.25 165.7 1337.75 164.46 1338.25 163.26 1338.75 162.12 1339.25 160.99 1339.75 159.87 1340.25 158.76 1340.75 157.66 1341.25 156.58 1341.75 155.51 1342.25 154.46 1342.75 153.43 1343.25 152.42 1343.75 151.43 1344.25 150.47 1344.75 149.53 1345.25 148.61 1345.75 147.73 1346.25 146.88 1346.75 146.05 1347.25 145.27 1347.75 144.51 1348.25 143.8 1348.75 143.12 1349.25 142.48 1349.75 141.85 1350.25 141.21 1350.75 140.57 1351.25 139.94 1351.75 139.31 1352.25 138.69 1352.75 138.09 1353.25 137.51 1353.75 136.95 1354.25 136.41 1354.75 135.9 1355.25 135.43 1355.75 134.98 1356.25 134.58 1356.75 134.22 1357.25 133.9 1357.75 133.63 1358.25 133.42 1358.75 133.24 1359.25 133.07 1359.75 132.9 1360.25 132.73 1360.75 132.56 1361.25 132.4 1361.75 132.24 1362.25 132.08 1362.75 131.93 1363.25 131.79 1363.75 131.66 1364.25 131.53 1364.75 131.42 1365.25 131.32 1365.75 131.23 1366.25 131.16 1366.75 131.1 1367.25 131.05 1367.75 131.02 1368.25 131.01 1368.75 131.02 1369.25 131.05 1369.75 131.08 1370.25 131.12 1370.75 131.17 1371.25 131.22 1371.75 131.28 1372.25 131.34 1372.75 131.41 1373.25 131.49 1373.75 131.57 1374.25 131.65 1374.75 131.74 1375.25 131.84 1375.75 131.93 1376.25 132.04 1376.75 132.14 1377.25 132.25 1377.75 132.36 1378.25 132.48 1378.75 132.6 1379.25 132.72 1379.75 132.84 1380.25 132.97 1380.75 133.09 1381.25 133.22 1381.75 133.35 1382.25 133.49 1382.75 133.65 1383.25 133.82 1383.75 134.01 1384.25 134.21 1384.75 134.42 1385.25 134.65 1385.75 134.89 1386.25 135.14 1386.75 135.41 1387.25 135.68 1387.75 135.96 1388.25 136.25 1388.75 136.55 1389.25 136.85 1389.75 137.17 1390.25 137.48 1390.75 137.8 1391.25 138.13 1391.75 138.47 1392.25 138.84 1392.75 139.24 1393.25 139.66 1393.75 140.11 1394.25 140.57 1394.75 141.06 1395.25 141.56 1395.75 142.07 1396.25 142.6 1396.75 143.14 1397.25 143.69 1397.75 144.25 1398.25 144.82 1398.75 145.39 1399.25 145.97 1399.75 146.55 1400.25 147.13 1400.75 147.71 1401.25 148.3 1401.75 148.92 1402.25 149.54 1402.75 150.19 1403.25 150.84 1403.75 151.51 1404.25 152.19 1404.75 152.88 1405.25 153.58 1405.75 154.29 1406.25 155.01 1406.75 155.73 1407.25 156.46 1407.75 157.19 1408.25 157.92 1408.75 158.66 1409.25 159.4 1409.75 160.14 1410.25 160.88 1410.75 161.63 1411.25 162.39 1411.75 163.16 1412.25 163.93 1412.75 164.71 1413.25 165.5 1413.75 166.29 1414.25 167.1 1414.75 167.91 1415.25 168.73 1415.75 169.56 1416.25 170.39 1416.75 171.24 1417.25 172.09 1417.75 172.95 1418.25 173.82 1418.75 174.69 1419.25 175.58 1419.75 176.48 1420.25 177.39 1420.75 178.32 1421.25 179.27 1421.75 180.23 1422.25 181.2 1422.75 182.18 1423.25 183.18 1423.75 184.18 1424.25 185.2 1424.75 186.23 1425.25 187.27 1425.75 188.31 1426.25 189.37 1426.75 190.43 1427.25 191.5 1427.75 192.57 1427.92 192.94L1427.9 398 1427.75 397.1 1427.25 394.13 1426.75 391.17 1426.25 388.25 1425.75 385.36 1425.25 382.53 1424.75 379.76 1424.25 377.06 1423.75 374.45 1423.25 371.92 1422.75 369.5 1422.25 367.2 1421.75 365.02 1421.25 362.97 1420.75 361.06 1420.25 359.22 1419.75 357.44 1419.25 355.72 1418.75 354.04 1418.25 352.41 1417.75 350.81 1417.25 349.24 1416.75 347.69 1416.25 346.16 1415.75 344.64 1415.25 343.13 1414.75 341.61 1414.25 340.09 1413.75 338.55 1413.25 337 1412.75 335.41 1412.25 333.8 1411.75 332.15 1411.25 330.5 1410.75 328.84 1410.25 327.19 1409.75 325.52 1409.25 323.86 1408.75 322.19 1408.25 320.53 1407.75 318.86 1407.25 317.18 1406.75 315.51 1406.25 313.84 1405.75 312.17 1405.25 310.5 1404.75 308.83 1404.25 307.16 1403.75 305.49 1403.25 303.81 1402.75 302.12 1402.25 300.4 1401.75 298.67 1401.25 296.93 1400.75 295.19 1400.25 293.45 1399.75 291.72 1399.25 289.99 1398.75 288.28 1398.25 286.59 1397.75 284.93 1397.25 283.29 1396.75 281.69 1396.25 280.13 1395.75 278.61 1395.25 277.14 1394.75 275.7 1394.25 274.28 1393.75 272.88 1393.25 271.5 1392.75 270.14 1392.25 268.8 1391.75 267.49 1391.25 266.2 1390.75 264.93 1390.25 263.7 1389.75 262.49 1389.25 261.31 1388.75 260.17 1388.25 259.06 1387.75 257.98 1387.25 256.94 1386.75 255.94 1386.25 254.94 1385.75 253.93 1385.25 252.92 1384.75 251.91 1384.25 250.91 1383.75 249.92 1383.25 248.96 1382.75 248.03 1382.25 247.13 1381.75 246.27 1381.25 245.46 1380.75 244.7 1380.25 244 1379.75 243.38 1379.25 242.82 1378.75 242.35 1378.25 241.95 1377.75 241.59 1377.25 241.23 1376.75 240.88 1376.25 240.55 1375.75 240.23 1375.25 239.92 1374.75 239.63 1374.25 239.36 1373.75 239.1 1373.25 238.87 1372.75 238.65 1372.25 238.46 1371.75 238.28 1371.25 238.13 1370.75 238.01 1370.25 237.91 1369.75 237.84 1369.25 237.84 1368.75 237.9 1368.25 238.01 1367.75 238.19 1367.25 238.44 1366.75 238.75 1366.25 239.12 1365.75 239.54 1365.25 240 1364.75 240.5 1364.25 241.04 1363.75 241.61 1363.25 242.2 1362.75 242.81 1362.25 243.43 1361.75 244.06 1361.25 244.69 1360.75 245.32 1360.25 246.03 1359.75 246.82 1359.25 247.68 1358.75 248.61 1358.25 249.6 1357.75 250.65 1357.25 251.76 1356.75 252.92 1356.25 254.12 1355.75 255.37 1355.25 256.65 1354.75 257.97 1354.25 259.32 1353.75 260.7 1353.25 262.19 1352.75 263.8 1352.25 265.49 1351.75 267.26 1351.25 269.08 1350.75 270.95 1350.25 272.84 1349.75 274.75 1349.25 276.65 1348.75 278.52 1348.25 280.36 1347.75 282.14 1347.25 283.85 1346.75 285.53 1346.25 287.2 1345.75 288.84 1345.25 290.47 1344.75 292.09 1344.25 293.71 1343.75 295.32 1343.25 296.94 1342.75 298.57 1342.25 300.2 1341.75 301.85 1341.25 303.52 1340.75 305.21 1340.25 306.93 1339.75 308.68 1339.25 310.45 1338.75 312.24 1338.25 314.06 1337.75 315.89 1337.25 317.74 1336.75 319.6 1336.25 321.48 1335.75 323.36 1335.25 325.26 1334.75 327.17 1334.25 329.09 1333.75 331.01 1333.25 332.94 1332.75 334.9 1332.25 336.88 1331.75 338.88 1331.25 340.88 1330.75 342.9 1330.25 344.93 1329.75 346.96 1329.25 348.99 1328.75 351.01 1328.25 353.03 1327.75 355.04 1327.25 357.03 1326.75 359 1326.25 360.95 1325.75 362.88 1325.25 364.81 1324.75 366.76 1324.25 368.71 1323.75 370.67 1323.25 372.63 1322.75 374.59 1322.25 376.54 1321.75 378.47 1321.25 380.39 1320.75 382.29 1320.25 384.16 1319.75 386 1319.25 387.8 1318.75 389.56 1318.25 391.29 1317.75 392.96 1317.25 394.58 1316.75 396.14 1316.25 397.65 1315.75 399.14 1315.25 400.59 1314.75 402.02 1314.25 403.43 1313.75 404.82 1313.25 406.18 1312.75 407.53 1312.25 408.86 1311.75 410.17 1311.25 411.46 1310.75 412.75 1310.25 414.02 1309.75 415.28 1309.25 416.53 1308.75 417.77 1308.25 419 1307.75 420.23 1307.25 421.46 1306.75 422.68 1306.25 423.9 1305.75 425.12 1305.25 426.35 1304.75 427.57 1304.25 428.8 1303.75 430.04 1303.25 431.28 1302.75 432.53 1302.25 433.79 1301.75 435.06 1301.25 436.34 1300.75 437.64 1300.25 438.95 1299.75 440.28 1299.25 441.62 1298.75 442.98 1298.25 444.36 1297.75 445.73 1297.25 447.11 1296.75 448.49 1296.25 449.86 1295.75 451.21 1295.25 452.55 1294.75 453.87 1294.25 455.16 1293.75 456.43 1293.25 457.71 1292.75 458.98 1292.25 460.25 1291.75 461.51 1291.25 462.76 1290.75 464 1290.25 465.23 1289.75 466.44 1289.25 467.63 1288.75 468.81 1288.25 469.96 1287.75 471.09 1287.25 472.19 1286.75 473.27 1286.25 474.31 1285.75 475.35 1285.25 476.38 1284.75 477.41 1284.25 478.43 1283.75 479.44 1283.25 480.44 1282.75 481.43 1282.25 482.4 1281.75 483.36 1281.25 484.29 1280.75 485.2 1280.25 486.09 1279.75 486.96 1279.25 487.8 1278.75 488.61 1278.25 489.39 1277.75 490.13 1277.25 490.84 1276.75 491.52 1276.25 492.2 1275.75 492.86 1275.25 493.52 1274.75 494.17 1274.25 494.81 1273.75 495.44 1273.25 496.07 1272.75 496.68 1272.25 497.29 1271.75 497.89 1271.25 498.47 1270.75 499.05 1270.25 499.61 1269.75 500.16 1269.25 500.7 1268.75 501.23 1268.25 501.75 1267.75 502.25 1267.25 502.75 1266.75 503.22 1266.25 503.69 1265.75 504.14 1265.25 504.57 1264.75 504.99 1264.25 505.4 1263.75 505.81 1263.25 506.22 1262.75 506.63 1262.25 507.03 1261.75 507.43 1261.25 507.83 1260.75 508.23 1260.25 508.62 1259.75 509.01 1259.25 509.4 1258.75 509.79 1258.25 510.16 1257.75 510.54 1257.25 510.91 1256.75 511.27 1256.25 511.63 1255.75 511.99 1255.25 512.33 1254.75 512.67 1254.25 513.01 1253.75 513.33 1253.25 513.65 1252.75 513.96 1252.25 514.27 1251.75 514.56 1251.25 514.85 1250.75 515.13 1250.25 515.4 1249.75 515.65 1249.25 515.9 1248.75 516.14 1248.25 516.38 1247.75 516.62 1247.25 516.85 1246.75 517.08 1246.25 517.31 1245.75 517.54 1245.25 517.77 1244.75 517.99 1244.25 518.21 1243.75 518.43 1243.25 518.65 1242.75 518.86 1242.25 519.07 1241.75 519.28 1241.25 519.48 1240.75 519.68 1240.25 519.88 1239.75 520.08 1239.25 520.27 1238.75 520.46 1238.25 520.65 1237.75 520.83 1237.25 521.01 1236.75 521.18 1236.25 521.36 1235.75 521.52 1235.25 521.69 1234.75 521.85 1234.25 522 1233.75 522.15 1233.25 522.3 1232.75 522.45 1232.25 522.6 1231.75 522.75 1231.25 522.9 1230.75 523.05 1230.25 523.19 1229.75 523.34 1229.25 523.49 1228.75 523.64 1228.25 523.78 1227.75 523.93 1227.25 524.07 1226.75 524.21 1226.25 524.35 1225.75 524.49 1225.25 524.62 1224.75 524.75 1224.25 524.88 1223.75 525 1223.25 525.12 1222.75 525.24 1222.25 525.35 1221.75 525.46 1221.25 525.57 1220.75 525.67 1220.25 525.76 1219.75 525.85 1219.25 525.94 1218.75 526.02 1218.25 526.09 1217.75 526.16 1217.25 526.22 1216.75 526.28 1216.25 526.34 1215.75 526.4 1215.25 526.45 1214.75 526.5 1214.25 526.55 1213.75 526.6 1213.25 526.64 1212.75 526.68 1212.25 526.72 1211.75 526.76 1211.25 526.79 1210.75 526.82 1210.25 526.85 1209.75 526.88 1209.25 526.9 1208.75 526.92 1208.25 526.94 1207.75 526.95 1207.25 526.96 1206.75 526.97 1206.25 526.98 1205.75 526.98 1205.25 526.98 1204.75 526.98 1204.25 526.97 1203.75 526.96 1203.25 526.95 1202.75 526.94 1202.25 526.92 1201.75 526.89 1201.25 526.86 1200.75 526.83 1200.25 526.78 1199.75 526.73 1199.25 526.67 1198.75 526.61 1198.25 526.54 1197.75 526.46 1197.25 526.38 1196.75 526.29 1196.25 526.2 1195.75 526.1 1195.25 526 1194.75 525.9 1194.25 525.79 1193.75 525.67 1193.25 525.55 1192.75 525.43 1192.25 525.31 1191.75 525.18 1191.25 525.05 1190.75 524.92 1190.25 524.79 1189.75 524.65 1189.25 524.51 1188.75 524.37 1188.25 524.23 1187.75 524.09 1187.25 523.95 1186.75 523.81 1186.25 523.66 1185.75 523.5 1185.25 523.33 1184.75 523.15 1184.25 522.97 1183.75 522.77 1183.25 522.57 1182.75 522.35 1182.25 522.13 1181.75 521.91 1181.25 521.67 1180.75 521.43 1180.25 521.18 1179.75 520.93 1179.25 520.67 1178.75 520.41 1178.25 520.14 1177.75 519.86 1177.25 519.59 1176.75 519.31 1176.25 519.02 1175.75 518.73 1175.25 518.44 1174.75 518.15 1174.25 517.86 1173.75 517.56 1173.25 517.26 1172.75 516.97 1172.25 516.67 1171.75 516.37 1171.25 516.07 1170.75 515.77 1170.25 515.46 1169.75 515.15 1169.25 514.83 1168.75 514.51 1168.25 514.18 1167.75 513.85 1167.25 513.51 1166.75 513.16 1166.25 512.82 1165.75 512.47 1165.25 512.12 1164.75 511.76 1164.25 511.4 1163.75 511.04 1163.25 510.68 1162.75 510.31 1162.25 509.95 1161.75 509.58 1161.25 509.22 1160.75 508.85 1160.25 508.48 1159.75 508.11 1159.25 507.75 1158.75 507.38 1158.25 507.02 1157.75 506.66 1157.25 506.3 1156.75 505.94 1156.25 505.58 1155.75 505.23 1155.25 504.88 1154.75 504.53 1154.25 504.19 1153.75 503.84 1153.25 503.5 1152.75 503.15 1152.25 502.81 1151.75 502.47 1151.25 502.13 1150.75 501.79 1150.25 501.45 1149.75 501.11 1149.25 500.77 1148.75 500.43 1148.25 500.09 1147.75 499.75 1147.25 499.41 1146.75 499.06 1146.25 498.72 1145.75 498.37 1145.25 498.02 1144.75 497.67 1144.25 497.32 1143.75 496.96 1143.25 496.61 1142.75 496.25 1142.25 495.88 1141.75 495.52 1141.25 495.15 1140.75 494.78 1140.25 494.4 1139.75 494.02 1139.25 493.61 1138.75 493.18 1138.25 492.74 1137.75 492.29 1137.25 491.84 1136.75 491.4 1136.25 490.97 1135.75 490.56 1135.25 490.18 1134.75 489.83 1134.25 489.48 1133.75 489.14 1133.25 488.8 1132.75 488.46 1132.25 488.12 1131.75 487.79 1131.25 487.46 1130.75 487.14 1130.25 486.81 1129.75 486.5 1129.25 486.18 1128.75 485.87 1128.25 485.57 1127.75 485.26 1127.25 484.97 1126.75 484.67 1126.25 484.38 1125.75 484.1 1125.25 483.82 1124.75 483.55 1124.25 483.28 1123.75 483.02 1123.25 482.77 1122.75 482.51 1122.25 482.27 1121.75 482.03 1121.25 481.8 1120.75 481.58 1120.25 481.36 1119.75 481.14 1119.25 480.93 1118.75 480.72 1118.25 480.51 1117.75 480.3 1117.25 480.09 1116.75 479.88 1116.25 479.67 1115.75 479.47 1115.25 479.26 1114.75 479.06 1114.25 478.87 1113.75 478.68 1113.25 478.49 1112.75 478.3 1112.25 478.12 1111.75 477.95 1111.25 477.78 1110.75 477.61 1110.25 477.46 1109.75 477.3 1109.25 477.16 1108.75 477.02 1108.25 476.89 1107.75 476.77 1107.25 476.65 1106.75 476.55 1106.25 476.45 1105.75 476.36 1105.25 476.29 1104.75 476.22 1104.25 476.16 1103.75 476.12 1103.25 476.09 1102.75 476.07 1102.25 476.07 1101.75 476.07 1101.25 476.09 1100.75 476.11 1100.25 476.15 1099.75 476.19 1099.25 476.24 1098.75 476.3 1098.25 476.37 1097.75 476.44 1097.25 476.52 1096.75 476.61 1096.25 476.7 1095.75 476.79 1095.25 476.89 1094.75 477 1094.25 477.1 1093.75 477.21 1093.25 477.33 1092.75 477.44 1092.25 477.56 1091.75 477.7 1091.25 477.85 1090.75 478.03 1090.25 478.22 1089.75 478.43 1089.25 478.66 1088.75 478.9 1088.25 479.16 1087.75 479.43 1087.25 479.72 1086.75 480.02 1086.25 480.33 1085.75 480.65 1085.25 480.99 1084.75 481.33 1084.25 481.69 1083.75 482.05 1083.25 482.42 1082.75 482.81 1082.25 483.19 1081.75 483.59 1081.25 483.98 1080.75 484.39 1080.25 484.79 1079.75 485.21 1079.25 485.67 1078.75 486.17 1078.25 486.72 1077.75 487.29 1077.25 487.9 1076.75 488.54 1076.25 489.2 1075.75 489.87 1075.25 490.56 1074.75 491.26 1074.25 491.96 1073.75 492.66 1073.25 493.36 1072.75 494.05 1072.25 494.73 1071.75 495.39 1071.25 496.03 1070.75 496.64 1070.25 497.23 1069.75 497.77 1069.25 498.28 1068.75 498.75 1068.25 499.19 1067.75 499.62 1067.25 500.03 1066.75 500.42 1066.25 500.79 1065.75 501.14 1065.25 501.45 1064.75 501.73 1064.25 501.98 1063.75 502.19 1063.25 502.35 1062.75 502.46 1062.25 502.51 1061.75 502.42 1061.25 502.2 1060.75 501.87 1060.25 501.46 1059.75 500.99 1059.25 500.5 1058.75 500Z" fill="#808080" fill-opacity="0.5"/>
<path d="M1058.75 288L1059.25 288.28 1059.75 288.57 1060.25 288.89 1060.75 289.22 1061.25 289.57 1061.75 289.93 1062.25 290.3 1062.75 290.68 1063.25 291.07 1063.75 291.47 1064.25 291.88 1064.75 292.29 1065.25 292.71 1065.75 293.16 1066.25 293.63 1066.75 294.13 1067.25 294.65 1067.75 295.19 1068.25 295.74 1068.75 296.3 1069.25 296.86 1069.75 297.42 1070.25 297.98 1070.75 298.54 1071.25 299.09 1071.75 299.62 1072.25 300.14 1072.75 300.63 1073.25 301.1 1073.75 301.54 1074.25 301.95 1074.75 302.33 1075.25 302.67 1075.75 303.01 1076.25 303.35 1076.75 303.68 1077.25 304.01 1077.75 304.33 1078.25 304.62 1078.75 304.9 1079.25 305.14 1079.75 305.36 1080.25 305.53 1080.75 305.67 1081.25 305.76 1081.75 305.8 1082.25 305.78 1082.75 305.71 1083.25 305.62 1083.75 305.51 1084.25 305.39 1084.75 305.26 1085.25 305.12 1085.75 304.96 1086.25 304.8 1086.75 304.63 1087.25 304.46 1087.75 304.28 1088.25 304.09 1088.75 303.9 1089.25 303.71 1089.75 303.52 1090.25 303.33 1090.75 303.14 1091.25 302.95 1091.75 302.77 1092.25 302.59 1092.75 302.41 1093.25 302.23 1093.75 302.05 1094.25 301.85 1094.75 301.66 1095.25 301.46 1095.75 301.26 1096.25 301.05 1096.75 300.85 1097.25 300.64 1097.75 300.43 1098.25 300.23 1098.75 300.03 1099.25 299.83 1099.75 299.63 1100.25 299.44 1100.75 299.25 1101.25 299.07 1101.75 298.9 1102.25 298.73 1102.75 298.58 1103.25 298.43 1103.75 298.29 1104.25 298.17 1104.75 298.05 1105.25 297.95 1105.75 297.86 1106.25 297.77 1106.75 297.69 1107.25 297.62 1107.75 297.55 1108.25 297.5 1108.75 297.45 1109.25 297.4 1109.75 297.36 1110.25 297.33 1110.75 297.31 1111.25 297.29 1111.75 297.28 1112.25 297.27 1112.75 297.27 1113.25 297.27 1113.75 297.28 1114.25 297.29 1114.75 297.31 1115.25 297.34 1115.75 297.37 1116.25 297.4 1116.75 297.44 1117.25 297.48 1117.75 297.52 1118.25 297.58 1118.75 297.64 1119.25 297.7 1119.75 297.78 1120.25 297.86 1120.75 297.94 1121.25 298.04 1121.75 298.13 1122.25 298.24 1122.75 298.35 1123.25 298.46 1123.75 298.58 1124.25 298.7 1124.75 298.83 1125.25 298.96 1125.75 299.1 1126.25 299.24 1126.75 299.39 1127.25 299.53 1127.75 299.69 1128.25 299.84 1128.75 300 1129.25 300.16 1129.75 300.32 1130.25 300.48 1130.75 300.65 1131.25 300.82 1131.75 300.99 1132.25 301.16 1132.75 301.34 1133.25 301.52 1133.75 301.71 1134.25 301.9 1134.75 302.1 1135.25 302.31 1135.75 302.53 1136.25 302.75 1136.75 302.97 1137.25 303.2 1137.75 303.44 1138.25 303.68 1138.75 303.92 1139.25 304.17 1139.75 304.43 1140.25 304.68 1140.75 304.94 1141.25 305.21 1141.75 305.47 1142.25 305.74 1142.75 306.01 1143.25 306.28 1143.75 306.56 1144.25 306.83 1144.75 307.11 1145.25 307.39 1145.75 307.66 1146.25 307.94 1146.75 308.22 1147.25 308.5 1147.75 308.77 1148.25 309.05 1148.75 309.32 1149.25 309.59 1149.75 309.87 1150.25 310.14 1150.75 310.41 1151.25 310.7 1151.75 310.99 1152.25 311.29 1152.75 311.6 1153.25 311.91 1153.75 312.22 1154.25 312.54 1154.75 312.86 1155.25 313.19 1155.75 313.51 1156.25 313.84 1156.75 314.16 1157.25 314.48 1157.75 314.81 1158.25 315.12 1158.75 315.44 1159.25 315.75 1159.75 316.05 1160.25 316.35 1160.75 316.65 1161.25 316.93 1161.75 317.21 1162.25 317.47 1162.75 317.73 1163.25 317.98 1163.75 318.22 1164.25 318.44 1164.75 318.65 1165.25 318.85 1165.75 319.04 1166.25 319.23 1166.75 319.42 1167.25 319.61 1167.75 319.79 1168.25 319.97 1168.75 320.14 1169.25 320.31 1169.75 320.48 1170.25 320.64 1170.75 320.8 1171.25 320.95 1171.75 321.1 1172.25 321.24 1172.75 321.37 1173.25 321.5 1173.75 321.62 1174.25 321.73 1174.75 321.84 1175.25 321.94 1175.75 322.04 1176.25 322.12 1176.75 322.2 1177.25 322.27 1177.75 322.33 1178.25 322.39 1178.75 322.43 1179.25 322.47 1179.75 322.49 1180.25 322.51 1180.75 322.51 1181.25 322.5 1181.75 322.48 1182.25 322.45 1182.75 322.41 1183.25 322.36 1183.75 322.3 1184.25 322.23 1184.75 322.15 1185.25 322.06 1185.75 321.96 1186.25 321.86 1186.75 321.74 1187.25 321.62 1187.75 321.49 1188.25 321.36 1188.75 321.22 1189.25 321.07 1189.75 320.92 1190.25 320.76 1190.75 320.6 1191.25 320.43 1191.75 320.26 1192.25 320.09 1192.75 319.91 1193.25 319.71 1193.75 319.48 1194.25 319.23 1194.75 318.97 1195.25 318.68 1195.75 318.39 1196.25 318.07 1196.75 317.75 1197.25 317.42 1197.75 317.08 1198.25 316.73 1198.75 316.38 1199.25 316.03 1199.75 315.68 1200.25 315.33 1200.75 314.99 1201.25 314.65 1201.75 314.32 1202.25 314 1202.75 313.69 1203.25 313.39 1203.75 313.12 1204.25 312.85 1204.75 312.61 1205.25 312.39 1205.75 312.17 1206.25 311.94 1206.75 311.72 1207.25 311.5 1207.75 311.28 1208.25 311.06 1208.75 310.85 1209.25 310.64 1209.75 310.44 1210.25 310.24 1210.75 310.05 1211.25 309.87 1211.75 309.7 1212.25 309.54 1212.75 309.4 1213.25 309.26 1213.75 309.14 1214.25 309.03 1214.75 308.94 1215.25 308.86 1215.75 308.8 1216.25 308.76 1216.75 308.74 1217.25 308.74 1217.75 308.77 1218.25 308.82 1218.75 308.91 1219.25 309.03 1219.75 309.18 1220.25 309.35 1220.75 309.55 1221.25 309.75 1221.75 309.98 1222.25 310.21 1222.75 310.44 1223.25 310.69 1223.75 310.92 1224.25 311.16 1224.75 311.39 1225.25 311.61 1225.75 311.84 1226.25 312.07 1226.75 312.32 1227.25 312.57 1227.75 312.84 1228.25 313.12 1228.75 313.4 1229.25 313.71 1229.75 314.02 1230.25 314.35 1230.75 314.69 1231.25 315.04 1231.75 315.41 1232.25 315.8 1232.75 316.21 1233.25 316.71 1233.75 317.28 1234.25 317.92 1234.75 318.62 1235.25 319.35 1235.75 320.11 1236.25 320.89 1236.75 321.66 1237.25 322.42 1237.75 323.16 1238.25 323.85 1238.75 324.5 1239.25 325.08 1239.75 325.57 1240.25 325.99 1240.75 326.38 1241.25 326.74 1241.75 327.09 1242.25 327.41 1242.75 327.72 1243.25 328 1243.75 328.26 1244.25 328.49 1244.75 328.7 1245.25 328.89 1245.75 329.06 1246.25 329.2 1246.75 329.32 1247.25 329.41 1247.75 329.48 1248.25 329.53 1248.75 329.54 1249.25 329.53 1249.75 329.49 1250.25 329.39 1250.75 329.24 1251.25 329.04 1251.75 328.79 1252.25 328.49 1252.75 328.16 1253.25 327.79 1253.75 327.38 1254.25 326.94 1254.75 326.47 1255.25 325.97 1255.75 325.45 1256.25 324.91 1256.75 324.35 1257.25 323.77 1257.75 323.19 1258.25 322.59 1258.75 321.99 1259.25 321.33 1259.75 320.59 1260.25 319.78 1260.75 318.9 1261.25 317.95 1261.75 316.95 1262.25 315.89 1262.75 314.78 1263.25 313.63 1263.75 312.44 1264.25 311.22 1264.75 309.97 1265.25 308.71 1265.75 307.42 1266.25 306.13 1266.75 304.83 1267.25 303.54 1267.75 302.24 1268.25 300.96 1268.75 299.65 1269.25 298.3 1269.75 296.92 1270.25 295.51 1270.75 294.07 1271.25 292.61 1271.75 291.13 1272.25 289.62 1272.75 288.09 1273.25 286.55 1273.75 284.99 1274.25 283.42 1274.75 281.84 1275.25 280.26 1275.75 278.66 1276.25 277.07 1276.75 275.47 1277.25 273.87 1277.75 272.28 1278.25 270.67 1278.75 269.04 1279.25 267.41 1279.75 265.76 1280.25 264.09 1280.75 262.42 1281.25 260.74 1281.75 259.04 1282.25 257.34 1282.75 255.62 1283.25 253.9 1283.75 252.16 1284.25 250.42 1284.75 248.67 1285.25 246.92 1285.75 245.15 1286.25 243.38 1286.75 241.61 1287.25 239.82 1287.75 238.03 1288.25 236.22 1288.75 234.4 1289.25 232.56 1289.75 230.71 1290.25 228.85 1290.75 226.98 1291.25 225.09 1291.75 223.19 1292.25 221.28 1292.75 219.35 1293.25 217.41 1293.75 215.45 1294.25 213.48 1294.75 211.48 1295.25 209.43 1295.75 207.34 1296.25 205.23 1296.75 203.1 1297.25 200.96 1297.75 198.82 1298.25 196.69 1298.75 194.58 1299.25 192.49 1299.75 190.45 1300.25 188.44 1300.75 186.47 1301.25 184.53 1301.75 182.62 1302.25 180.72 1302.75 178.83 1303.25 176.96 1303.75 175.08 1304.25 173.21 1304.75 171.32 1305.25 169.43 1305.75 167.51 1306.25 165.57 1306.75 163.61 1307.25 161.61 1307.75 159.58 1308.25 157.53 1308.75 155.46 1309.25 153.37 1309.75 151.27 1310.25 149.16 1310.75 147.05 1311.25 144.93 1311.75 142.82 1312.25 140.71 1312.75 138.62 1313.25 136.53 1313.75 134.47 1314.25 132.41 1314.75 130.31 1315.25 128.16 1315.75 125.98 1316.25 123.81 1316.75 121.66 1317.25 119.54 1317.75 117.49 1318.25 115.52 1318.75 113.66 1319.25 111.92 1319.75 110.33 1320.25 108.87 1320.75 107.47 1321.25 106.12 1321.75 104.84 1322.25 103.6 1322.75 102.42 1323.25 101.3 1323.75 100.22 1324.25 99.2 1324.75 98.22 1325.25 97.3 1325.75 96.42 1326.25 95.59 1326.75 94.76 1327.25 93.94 1327.75 93.13 1328.25 92.32 1328.75 91.53 1329.25 90.74 1329.75 89.97 1330.25 89.22 1330.75 88.48 1331.25 87.75 1331.75 87.05 1332.25 86.36 1332.75 85.7 1333.25 85.05 1333.75 84.43 1334.25 83.84 1334.75 83.27 1335.25 82.73 1335.75 82.19 1336.25 81.66 1336.75 81.12 1337.25 80.59 1337.75 80.07 1338.25 79.55 1338.75 79.04 1339.25 78.54 1339.75 78.05 1340.25 77.57 1340.75 77.1 1341.25 76.64 1341.75 76.2 1342.25 75.78 1342.75 75.37 1343.25 74.97 1343.75 74.6 1344.25 74.24 1344.75 73.91 1345.25 73.59 1345.75 73.28 1346.25 72.96 1346.75 72.64 1347.25 72.33 1347.75 72.01 1348.25 71.71 1348.75 71.4 1349.25 71.11 1349.75 70.82 1350.25 70.55 1350.75 70.28 1351.25 70.03 1351.75 69.8 1352.25 69.58 1352.75 69.38 1353.25 69.2 1353.75 69.04 1354.25 68.91 1354.75 68.8 1355.25 68.71 1355.75 68.62 1356.25 68.54 1356.75 68.47 1357.25 68.39 1357.75 68.32 1358.25 68.26 1358.75 68.2 1359.25 68.15 1359.75 68.1 1360.25 68.05 1360.75 68.02 1361.25 67.99 1361.75 67.96 1362.25 67.95 1362.75 67.94 1363.25 67.94 1363.75 67.94 1364.25 67.96 1364.75 67.98 1365.25 68.02 1365.75 68.06 1366.25 68.12 1366.75 68.18 1367.25 68.25 1367.75 68.33 1368.25 68.41 1368.75 68.5 1369.25 68.6 1369.75 68.7 1370.25 68.81 1370.75 68.92 1371.25 69.04 1371.75 69.16 1372.25 69.29 1372.75 69.41 1373.25 69.54 1373.75 69.67 1374.25 69.8 1374.75 69.93 1375.25 70.07 1375.75 70.22 1376.25 70.38 1376.75 70.56 1377.25 70.76 1377.75 70.97 1378.25 71.19 1378.75 71.43 1379.25 71.67 1379.75 71.93 1380.25 72.19 1380.75 72.47 1381.25 72.75 1381.75 73.03 1382.25 73.33 1382.75 73.62 1383.25 73.93 1383.75 74.23 1384.25 74.54 1384.75 74.85 1385.25 75.16 1385.75 75.49 1386.25 75.85 1386.75 76.23 1387.25 76.63 1387.75 77.06 1388.25 77.5 1388.75 77.97 1389.25 78.45 1389.75 78.95 1390.25 79.47 1390.75 80 1391.25 80.55 1391.75 81.11 1392.25 81.68 1392.75 82.26 1393.25 82.86 1393.75 83.46 1394.25 84.07 1394.75 84.69 1395.25 85.32 1395.75 85.98 1396.25 86.68 1396.75 87.41 1397.25 88.17 1397.75 88.96 1398.25 89.78 1398.75 90.62 1399.25 91.49 1399.75 92.37 1400.25 93.28 1400.75 94.21 1401.25 95.15 1401.75 96.1 1402.25 97.07 1402.75 98.04 1403.25 99.03 1403.75 100.02 1404.25 101.01 1404.75 102 1405.25 103 1405.75 104.02 1406.25 105.07 1406.75 106.14 1407.25 107.24 1407.75 108.35 1408.25 109.48 1408.75 110.62 1409.25 111.77 1409.75 112.93 1410.25 114.1 1410.75 115.27 1411.25 116.44 1411.75 117.61 1412.25 118.77 1412.75 119.93 1413.25 121.08 1413.75 122.22 1414.25 123.35 1414.75 124.45 1415.25 125.54 1415.75 126.63 1416.25 127.72 1416.75 128.8 1417.25 129.88 1417.75 130.96 1418.25 132.03 1418.75 133.11 1419.25 134.18 1419.75 135.25 1420.25 136.31 1420.75 137.38 1421.25 138.44 1421.75 139.5 1422.25 140.55 1422.75 141.61 1423.25 142.66 1423.75 143.71 1424.25 144.75 1424.75 145.79 1425.25 146.83 1425.75 147.87 1426.25 148.9 1426.75 149.94 1427.25 150.96 1427.75 151.99 1428 152.5L1427.78 341.65 1427.75 341.54 1427.25 339.68 1426.75 337.81 1426.25 335.93 1425.75 334.05 1425.25 332.15 1424.75 330.25 1424.25 328.34 1423.75 326.42 1423.25 324.49 1422.75 322.55 1422.25 320.61 1421.75 318.66 1421.25 316.68 1420.75 314.67 1420.25 312.64 1419.75 310.58 1419.25 308.52 1418.75 306.46 1418.25 304.4 1417.75 302.35 1417.25 300.32 1416.75 298.31 1416.25 296.34 1415.75 294.41 1415.25 292.52 1414.75 290.69 1414.25 288.9 1413.75 287.14 1413.25 285.41 1412.75 283.7 1412.25 282.02 1411.75 280.35 1411.25 278.7 1410.75 277.06 1410.25 275.44 1409.75 273.81 1409.25 272.2 1408.75 270.58 1408.25 268.96 1407.75 267.33 1407.25 265.69 1406.75 264.04 1406.25 262.38 1405.75 260.7 1405.25 259.01 1404.75 257.31 1404.25 255.61 1403.75 253.91 1403.25 252.2 1402.75 250.5 1402.25 248.8 1401.75 247.11 1401.25 245.43 1400.75 243.76 1400.25 242.11 1399.75 240.47 1399.25 238.85 1398.75 237.25 1398.25 235.68 1397.75 234.13 1397.25 232.58 1396.75 231.04 1396.25 229.5 1395.75 227.97 1395.25 226.46 1394.75 224.96 1394.25 223.47 1393.75 222.01 1393.25 220.57 1392.75 219.16 1392.25 217.78 1391.75 216.43 1391.25 215.11 1390.75 213.84 1390.25 212.6 1389.75 211.4 1389.25 210.19 1388.75 208.96 1388.25 207.73 1387.75 206.5 1387.25 205.27 1386.75 204.06 1386.25 202.86 1385.75 201.69 1385.25 200.54 1384.75 199.44 1384.25 198.38 1383.75 197.37 1383.25 196.41 1382.75 195.52 1382.25 194.69 1381.75 193.94 1381.25 193.27 1380.75 192.69 1380.25 192.21 1379.75 191.81 1379.25 191.44 1378.75 191.09 1378.25 190.76 1377.75 190.44 1377.25 190.15 1376.75 189.89 1376.25 189.64 1375.75 189.42 1375.25 189.23 1374.75 189.06 1374.25 188.92 1373.75 188.81 1373.25 188.73 1372.75 188.68 1372.25 188.66 1371.75 188.67 1371.25 188.72 1370.75 188.81 1370.25 188.93 1369.75 189.08 1369.25 189.28 1368.75 189.5 1368.25 189.77 1367.75 190.06 1367.25 190.38 1366.75 190.72 1366.25 191.1 1365.75 191.49 1365.25 191.91 1364.75 192.34 1364.25 192.8 1363.75 193.27 1363.25 193.75 1362.75 194.24 1362.25 194.75 1361.75 195.26 1361.25 195.81 1360.75 196.41 1360.25 197.04 1359.75 197.71 1359.25 198.41 1358.75 199.14 1358.25 199.9 1357.75 200.69 1357.25 201.5 1356.75 202.34 1356.25 203.2 1355.75 204.07 1355.25 204.96 1354.75 205.87 1354.25 206.79 1353.75 207.71 1353.25 208.65 1352.75 209.59 1352.25 210.53 1351.75 211.48 1351.25 212.45 1350.75 213.47 1350.25 214.51 1349.75 215.58 1349.25 216.68 1348.75 217.81 1348.25 218.96 1347.75 220.13 1347.25 221.32 1346.75 222.53 1346.25 223.76 1345.75 225 1345.25 226.25 1344.75 227.52 1344.25 228.79 1343.75 230.07 1343.25 231.36 1342.75 232.65 1342.25 233.97 1341.75 235.31 1341.25 236.68 1340.75 238.07 1340.25 239.49 1339.75 240.92 1339.25 242.36 1338.75 243.82 1338.25 245.29 1337.75 246.78 1337.25 248.26 1336.75 249.76 1336.25 251.26 1335.75 252.76 1335.25 254.25 1334.75 255.75 1334.25 257.25 1333.75 258.75 1333.25 260.26 1332.75 261.78 1332.25 263.31 1331.75 264.85 1331.25 266.39 1330.75 267.95 1330.25 269.51 1329.75 271.09 1329.25 272.68 1328.75 274.28 1328.25 275.9 1327.75 277.53 1327.25 279.17 1326.75 280.83 1326.25 282.51 1325.75 284.21 1325.25 285.93 1324.75 287.67 1324.25 289.43 1323.75 291.2 1323.25 292.99 1322.75 294.8 1322.25 296.62 1321.75 298.46 1321.25 300.31 1320.75 302.18 1320.25 304.06 1319.75 305.95 1319.25 307.87 1318.75 309.81 1318.25 311.77 1317.75 313.76 1317.25 315.76 1316.75 317.77 1316.25 319.79 1315.75 321.82 1315.25 323.86 1314.75 325.9 1314.25 327.93 1313.75 329.96 1313.25 331.99 1312.75 334 1312.25 336 1311.75 337.99 1311.25 339.98 1310.75 341.97 1310.25 343.96 1309.75 345.94 1309.25 347.93 1308.75 349.92 1308.25 351.91 1307.75 353.9 1307.25 355.9 1306.75 357.91 1306.25 359.92 1305.75 361.95 1305.25 363.98 1304.75 366.05 1304.25 368.25 1303.75 370.53 1303.25 372.82 1302.75 375.03 1302.25 377.08 1301.75 378.9 1301.25 380.45 1300.75 381.89 1300.25 383.27 1299.75 384.59 1299.25 385.83 1298.75 387 1298.25 388.1 1297.75 389.11 1297.25 390.05 1296.75 390.89 1296.25 391.65 1295.75 392.32 1295.25 392.92 1294.75 393.45 1294.25 393.95 1293.75 394.43 1293.25 394.91 1292.75 395.41 1292.25 395.94 1291.75 396.54 1291.25 397.18 1290.75 397.82 1290.25 398.48 1289.75 399.15 1289.25 399.82 1288.75 400.5 1288.25 401.18 1287.75 401.87 1287.25 402.56 1286.75 403.26 1286.25 403.96 1285.75 404.67 1285.25 405.37 1284.75 406.08 1284.25 406.8 1283.75 407.51 1283.25 408.22 1282.75 408.93 1282.25 409.64 1281.75 410.36 1281.25 411.1 1280.75 411.87 1280.25 412.65 1279.75 413.46 1279.25 414.27 1278.75 415.1 1278.25 415.92 1277.75 416.74 1277.25 417.56 1276.75 418.36 1276.25 419.14 1275.75 419.91 1275.25 420.65 1274.75 421.35 1274.25 422.02 1273.75 422.65 1273.25 423.23 1272.75 423.77 1272.25 424.25 1271.75 424.68 1271.25 425.06 1270.75 425.41 1270.25 425.72 1269.75 426.01 1269.25 426.28 1268.75 426.53 1268.25 426.78 1267.75 427.02 1267.25 427.26 1266.75 427.5 1266.25 427.77 1265.75 428.05 1265.25 428.35 1264.75 428.69 1264.25 429.05 1263.75 429.42 1263.25 429.78 1262.75 430.15 1262.25 430.52 1261.75 430.9 1261.25 431.28 1260.75 431.67 1260.25 432.06 1259.75 432.46 1259.25 432.87 1258.75 433.29 1258.25 433.73 1257.75 434.17 1257.25 434.62 1256.75 435.09 1256.25 435.57 1255.75 436.07 1255.25 436.58 1254.75 437.12 1254.25 437.68 1253.75 438.27 1253.25 438.89 1252.75 439.52 1252.25 440.18 1251.75 440.85 1251.25 441.54 1250.75 442.23 1250.25 442.94 1249.75 443.65 1249.25 444.36 1248.75 445.08 1248.25 445.79 1247.75 446.5 1247.25 447.21 1246.75 447.9 1246.25 448.59 1245.75 449.26 1245.25 449.93 1244.75 450.6 1244.25 451.27 1243.75 451.95 1243.25 452.63 1242.75 453.3 1242.25 453.98 1241.75 454.66 1241.25 455.33 1240.75 456.01 1240.25 456.68 1239.75 457.35 1239.25 458.01 1238.75 458.67 1238.25 459.33 1237.75 459.98 1237.25 460.63 1236.75 461.27 1236.25 461.91 1235.75 462.56 1235.25 463.21 1234.75 463.87 1234.25 464.54 1233.75 465.19 1233.25 465.85 1232.75 466.49 1232.25 467.12 1231.75 467.73 1231.25 468.33 1230.75 468.9 1230.25 469.44 1229.75 469.95 1229.25 470.43 1228.75 470.87 1228.25 471.3 1227.75 471.72 1227.25 472.13 1226.75 472.53 1226.25 472.93 1225.75 473.31 1225.25 473.68 1224.75 474.03 1224.25 474.36 1223.75 474.67 1223.25 474.97 1222.75 475.24 1222.25 475.48 1221.75 475.7 1221.25 475.88 1220.75 476.04 1220.25 476.16 1219.75 476.25 1219.25 476.31 1218.75 476.32 1218.25 476.31 1217.75 476.26 1217.25 476.18 1216.75 476.07 1216.25 475.93 1215.75 475.76 1215.25 475.57 1214.75 475.35 1214.25 475.11 1213.75 474.85 1213.25 474.57 1212.75 474.27 1212.25 473.95 1211.75 473.62 1211.25 473.26 1210.75 472.9 1210.25 472.52 1209.75 472.12 1209.25 471.67 1208.75 471.16 1208.25 470.61 1207.75 470.02 1207.25 469.4 1206.75 468.76 1206.25 468.1 1205.75 467.42 1205.25 466.75 1204.75 466.07 1204.25 465.41 1203.75 464.76 1203.25 464.14 1202.75 463.54 1202.25 462.98 1201.75 462.44 1201.25 461.9 1200.75 461.36 1200.25 460.81 1199.75 460.28 1199.25 459.74 1198.75 459.21 1198.25 458.68 1197.75 458.17 1197.25 457.65 1196.75 457.15 1196.25 456.66 1195.75 456.17 1195.25 455.7 1194.75 455.24 1194.25 454.79 1193.75 454.36 1193.25 453.94 1192.75 453.54 1192.25 453.14 1191.75 452.74 1191.25 452.34 1190.75 451.94 1190.25 451.54 1189.75 451.15 1189.25 450.77 1188.75 450.4 1188.25 450.03 1187.75 449.68 1187.25 449.35 1186.75 449.03 1186.25 448.73 1185.75 448.44 1185.25 448.18 1184.75 447.94 1184.25 447.72 1183.75 447.53 1183.25 447.36 1182.75 447.19 1182.25 447.02 1181.75 446.86 1181.25 446.7 1180.75 446.54 1180.25 446.39 1179.75 446.24 1179.25 446.09 1178.75 445.94 1178.25 445.8 1177.75 445.67 1177.25 445.53 1176.75 445.41 1176.25 445.29 1175.75 445.17 1175.25 445.06 1174.75 444.95 1174.25 444.85 1173.75 444.75 1173.25 444.66 1172.75 444.58 1172.25 444.5 1171.75 444.43 1171.25 444.37 1170.75 444.31 1170.25 444.26 1169.75 444.2 1169.25 444.15 1168.75 444.09 1168.25 444.04 1167.75 443.99 1167.25 443.94 1166.75 443.88 1166.25 443.83 1165.75 443.78 1165.25 443.73 1164.75 443.68 1164.25 443.64 1163.75 443.59 1163.25 443.54 1162.75 443.49 1162.25 443.44 1161.75 443.39 1161.25 443.35 1160.75 443.3 1160.25 443.25 1159.75 443.2 1159.25 443.16 1158.75 443.11 1158.25 443.06 1157.75 443.01 1157.25 442.96 1156.75 442.92 1156.25 442.87 1155.75 442.82 1155.25 442.77 1154.75 442.71 1154.25 442.66 1153.75 442.6 1153.25 442.54 1152.75 442.48 1152.25 442.42 1151.75 442.35 1151.25 442.29 1150.75 442.22 1150.25 442.16 1149.75 442.09 1149.25 442.03 1148.75 441.96 1148.25 441.9 1147.75 441.84 1147.25 441.78 1146.75 441.72 1146.25 441.66 1145.75 441.61 1145.25 441.56 1144.75 441.51 1144.25 441.47 1143.75 441.42 1143.25 441.39 1142.75 441.35 1142.25 441.32 1141.75 441.3 1141.25 441.28 1140.75 441.26 1140.25 441.25 1139.75 441.25 1139.25 441.26 1138.75 441.28 1138.25 441.32 1137.75 441.36 1137.25 441.42 1136.75 441.49 1136.25 441.57 1135.75 441.66 1135.25 441.76 1134.75 441.87 1134.25 441.98 1133.75 442.1 1133.25 442.23 1132.75 442.37 1132.25 442.51 1131.75 442.65 1131.25 442.81 1130.75 442.96 1130.25 443.12 1129.75 443.28 1129.25 443.45 1128.75 443.61 1128.25 443.78 1127.75 443.95 1127.25 444.12 1126.75 444.29 1126.25 444.45 1125.75 444.62 1125.25 444.78 1124.75 444.94 1124.25 445.1 1123.75 445.26 1123.25 445.41 1122.75 445.56 1122.25 445.7 1121.75 445.83 1121.25 445.96 1120.75 446.08 1120.25 446.2 1119.75 446.3 1119.25 446.41 1118.75 446.51 1118.25 446.61 1117.75 446.71 1117.25 446.81 1116.75 446.91 1116.25 447 1115.75 447.1 1115.25 447.19 1114.75 447.28 1114.25 447.37 1113.75 447.46 1113.25 447.55 1112.75 447.64 1112.25 447.73 1111.75 447.82 1111.25 447.91 1110.75 448 1110.25 448.09 1109.75 448.17 1109.25 448.26 1108.75 448.35 1108.25 448.44 1107.75 448.53 1107.25 448.61 1106.75 448.7 1106.25 448.79 1105.75 448.88 1105.25 448.97 1104.75 449.07 1104.25 449.16 1103.75 449.25 1103.25 449.35 1102.75 449.44 1102.25 449.54 1101.75 449.64 1101.25 449.74 1100.75 449.84 1100.25 449.95 1099.75 450.05 1099.25 450.16 1098.75 450.27 1098.25 450.38 1097.75 450.49 1097.25 450.6 1096.75 450.71 1096.25 450.83 1095.75 450.94 1095.25 451.06 1094.75 451.17 1094.25 451.29 1093.75 451.41 1093.25 451.53 1092.75 451.65 1092.25 451.77 1091.75 451.9 1091.25 452.02 1090.75 452.15 1090.25 452.27 1089.75 452.4 1089.25 452.53 1088.75 452.65 1088.25 452.78 1087.75 452.91 1087.25 453.04 1086.75 453.17 1086.25 453.31 1085.75 453.44 1085.25 453.57 1084.75 453.71 1084.25 453.84 1083.75 453.97 1083.25 454.11 1082.75 454.25 1082.25 454.38 1081.75 454.52 1081.25 454.66 1080.75 454.79 1080.25 454.93 1079.75 455.07 1079.25 455.21 1078.75 455.36 1078.25 455.52 1077.75 455.67 1077.25 455.84 1076.75 456.01 1076.25 456.18 1075.75 456.36 1075.25 456.54 1074.75 456.73 1074.25 456.92 1073.75 457.12 1073.25 457.32 1072.75 457.53 1072.25 457.74 1071.75 457.96 1071.25 458.18 1070.75 458.41 1070.25 458.64 1069.75 458.88 1069.25 459.12 1068.75 459.36 1068.25 459.62 1067.75 459.87 1067.25 460.14 1066.75 460.44 1066.25 460.78 1065.75 461.15 1065.25 461.57 1064.75 462.01 1064.25 462.48 1063.75 462.97 1063.25 463.49 1062.75 464.03 1062.25 464.59 1061.75 465.16 1061.25 465.74 1060.75 466.34 1060.25 466.94 1059.75 467.54 1059.25 468.15 1058.75 468.75Z" fill="#b20000" fill-opacity="0.5"/>
<line x1="1058.7" y1="490.5" x2="1428" y2="490.5" stroke="#000" stroke-width="2.75" stroke-dasharray="2.75 4.52"/>
<path d="M1058.75 460.38L1059.25 460.43 1059.75 460.41 1060.25 460.32 1060.75 460.16 1061.25 459.94 1061.75 459.66 1062.25 459.32 1062.75 458.92 1063.25 458.47 1063.75 457.97 1064.25 457.41 1064.75 456.81 1065.25 456.16 1065.75 455.47 1066.25 454.74 1066.75 453.97 1067.25 453.17 1067.75 452.33 1068.25 451.45 1068.75 450.55 1069.25 449.63 1069.75 448.68 1070.25 447.7 1070.75 446.71 1071.25 445.7 1071.75 444.67 1072.25 443.63 1072.75 442.58 1073.25 441.52 1073.75 440.45 1074.25 439.38 1074.75 438.31 1075.25 437.24 1075.75 436.17 1076.25 435.11 1076.75 434.06 1077.25 433.01 1077.75 431.98 1078.25 430.96 1078.75 429.96 1079.25 428.98 1079.75 428.02 1080.25 427.08 1080.75 426.17 1081.25 425.29 1081.75 424.44 1082.25 423.62 1082.75 422.84 1083.25 422.09 1083.75 421.38 1084.25 420.7 1084.75 420.06 1085.25 419.45 1085.75 418.87 1086.25 418.33 1086.75 417.81 1087.25 417.33 1087.75 416.87 1088.25 416.44 1088.75 416.05 1089.25 415.67 1089.75 415.33 1090.25 415.01 1090.75 414.71 1091.25 414.44 1091.75 414.19 1092.25 413.97 1092.75 413.77 1093.25 413.59 1093.75 413.43 1094.25 413.28 1094.75 413.16 1095.25 413.06 1095.75 412.97 1096.25 412.9 1096.75 412.85 1097.25 412.81 1097.75 412.79 1098.25 412.78 1098.75 412.78 1099.25 412.79 1099.75 412.82 1100.25 412.86 1100.75 412.91 1101.25 412.96 1101.75 413.03 1102.25 413.1 1102.75 413.18 1103.25 413.27 1103.75 413.36 1104.25 413.46 1104.75 413.57 1105.25 413.68 1105.75 413.8 1106.25 413.93 1106.75 414.06 1107.25 414.19 1107.75 414.33 1108.25 414.48 1108.75 414.63 1109.25 414.79 1109.75 414.95 1110.25 415.12 1110.75 415.29 1111.25 415.47 1111.75 415.65 1112.25 415.84 1112.75 416.03 1113.25 416.22 1113.75 416.42 1114.25 416.63 1114.75 416.83 1115.25 417.04 1115.75 417.26 1116.25 417.47 1116.75 417.7 1117.25 417.92 1117.75 418.15 1118.25 418.38 1118.75 418.61 1119.25 418.84 1119.75 419.08 1120.25 419.32 1120.75 419.57 1121.25 419.81 1121.75 420.06 1122.25 420.31 1122.75 420.56 1123.25 420.81 1123.75 421.07 1124.25 421.32 1124.75 421.58 1125.25 421.84 1125.75 422.1 1126.25 422.36 1126.75 422.62 1127.25 422.88 1127.75 423.15 1128.25 423.41 1128.75 423.67 1129.25 423.94 1129.75 424.2 1130.25 424.47 1130.75 424.73 1131.25 425 1131.75 425.26 1132.25 425.53 1132.75 425.8 1133.25 426.08 1133.75 426.36 1134.25 426.64 1134.75 426.94 1135.25 427.23 1135.75 427.53 1136.25 427.84 1136.75 428.16 1137.25 428.49 1137.75 428.83 1138.25 429.17 1138.75 429.53 1139.25 429.9 1139.75 430.28 1140.25 430.67 1140.75 431.08 1141.25 431.5 1141.75 431.93 1142.25 432.37 1142.75 432.82 1143.25 433.28 1143.75 433.76 1144.25 434.24 1144.75 434.73 1145.25 435.23 1145.75 435.74 1146.25 436.26 1146.75 436.79 1147.25 437.32 1147.75 437.86 1148.25 438.4 1148.75 438.96 1149.25 439.51 1149.75 440.07 1150.25 440.64 1150.75 441.21 1151.25 441.79 1151.75 442.36 1152.25 442.94 1152.75 443.53 1153.25 444.11 1153.75 444.7 1154.25 445.29 1154.75 445.88 1155.25 446.47 1155.75 447.06 1156.25 447.65 1156.75 448.23 1157.25 448.82 1157.75 449.41 1158.25 449.99 1158.75 450.57 1159.25 451.15 1159.75 451.72 1160.25 452.29 1160.75 452.86 1161.25 453.42 1161.75 453.97 1162.25 454.53 1162.75 455.07 1163.25 455.62 1163.75 456.16 1164.25 456.69 1164.75 457.22 1165.25 457.75 1165.75 458.27 1166.25 458.79 1166.75 459.3 1167.25 459.81 1167.75 460.31 1168.25 460.81 1168.75 461.31 1169.25 461.8 1169.75 462.28 1170.25 462.77 1170.75 463.24 1171.25 463.72 1171.75 464.18 1172.25 464.65 1172.75 465.1 1173.25 465.56 1173.75 466.01 1174.25 466.45 1174.75 466.89 1175.25 467.33 1175.75 467.76 1176.25 468.18 1176.75 468.61 1177.25 469.02 1177.75 469.43 1178.25 469.84 1178.75 470.24 1179.25 470.64 1179.75 471.03 1180.25 471.42 1180.75 471.8 1181.25 472.18 1181.75 472.56 1182.25 472.93 1182.75 473.29 1183.25 473.65 1183.75 474 1184.25 474.35 1184.75 474.7 1185.25 475.04 1185.75 475.37 1186.25 475.7 1186.75 476.02 1187.25 476.34 1187.75 476.66 1188.25 476.97 1188.75 477.27 1189.25 477.57 1189.75 477.87 1190.25 478.16 1190.75 478.44 1191.25 478.72 1191.75 479 1192.25 479.27 1192.75 479.53 1193.25 479.79 1193.75 480.04 1194.25 480.29 1194.75 480.54 1195.25 480.78 1195.75 481.01 1196.25 481.24 1196.75 481.46 1197.25 481.68 1197.75 481.89 1198.25 482.1 1198.75 482.3 1199.25 482.5 1199.75 482.69 1200.25 482.88 1200.75 483.06 1201.25 483.23 1201.75 483.4 1202.25 483.57 1202.75 483.73 1203.25 483.88 1203.75 484.03 1204.25 484.18 1204.75 484.32 1205.25 484.45 1205.75 484.58 1206.25 484.7 1206.75 484.82 1207.25 484.93 1207.75 485.03 1208.25 485.13 1208.75 485.23 1209.25 485.32 1209.75 485.4 1210.25 485.48 1210.75 485.55 1211.25 485.62 1211.75 485.68 1212.25 485.74 1212.75 485.79 1213.25 485.83 1213.75 485.87 1214.25 485.91 1214.75 485.94 1215.25 485.96 1215.75 485.98 1216.25 485.99 1216.75 485.99 1217.25 485.99 1217.75 485.99 1218.25 485.98 1218.75 485.96 1219.25 485.93 1219.75 485.91 1220.25 485.87 1220.75 485.83 1221.25 485.79 1221.75 485.73 1222.25 485.68 1222.75 485.61 1223.25 485.54 1223.75 485.47 1224.25 485.38 1224.75 485.29 1225.25 485.2 1225.75 485.1 1226.25 484.99 1226.75 484.87 1227.25 484.75 1227.75 484.62 1228.25 484.49 1228.75 484.34 1229.25 484.19 1229.75 484.04 1230.25 483.87 1230.75 483.7 1231.25 483.52 1231.75 483.33 1232.25 483.14 1232.75 482.93 1233.25 482.72 1233.75 482.5 1234.25 482.28 1234.75 482.04 1235.25 481.8 1235.75 481.55 1236.25 481.29 1236.75 481.02 1237.25 480.74 1237.75 480.46 1238.25 480.16 1238.75 479.86 1239.25 479.54 1239.75 479.22 1240.25 478.89 1240.75 478.55 1241.25 478.2 1241.75 477.85 1242.25 477.48 1242.75 477.1 1243.25 476.71 1243.75 476.32 1244.25 475.91 1244.75 475.49 1245.25 475.06 1245.75 474.63 1246.25 474.18 1246.75 473.72 1247.25 473.26 1247.75 472.78 1248.25 472.29 1248.75 471.79 1249.25 471.28 1249.75 470.76 1250.25 470.23 1250.75 469.68 1251.25 469.13 1251.75 468.56 1252.25 467.99 1252.75 467.4 1253.25 466.8 1253.75 466.19 1254.25 465.57 1254.75 464.93 1255.25 464.29 1255.75 463.63 1256.25 462.96 1256.75 462.28 1257.25 461.58 1257.75 460.88 1258.25 460.16 1258.75 459.43 1259.25 458.68 1259.75 457.93 1260.25 457.16 1260.75 456.38 1261.25 455.58 1261.75 454.77 1262.25 453.95 1262.75 453.12 1263.25 452.27 1263.75 451.41 1264.25 450.54 1264.75 449.65 1265.25 448.75 1265.75 447.84 1266.25 446.91 1266.75 445.96 1267.25 445.01 1267.75 444.04 1268.25 443.05 1268.75 442.06 1269.25 441.04 1269.75 440.02 1270.25 438.98 1270.75 437.93 1271.25 436.86 1271.75 435.78 1272.25 434.69 1272.75 433.58 1273.25 432.46 1273.75 431.33 1274.25 430.18 1274.75 429.02 1275.25 427.85 1275.75 426.67 1276.25 425.47 1276.75 424.27 1277.25 423.05 1277.75 421.81 1278.25 420.57 1278.75 419.31 1279.25 418.05 1279.75 416.77 1280.25 415.47 1280.75 414.17 1281.25 412.86 1281.75 411.53 1282.25 410.2 1282.75 408.85 1283.25 407.49 1283.75 406.12 1284.25 404.74 1284.75 403.35 1285.25 401.95 1285.75 400.54 1286.25 399.11 1286.75 397.68 1287.25 396.24 1287.75 394.79 1288.25 393.32 1288.75 391.85 1289.25 390.37 1289.75 388.88 1290.25 387.38 1290.75 385.87 1291.25 384.35 1291.75 382.82 1292.25 381.28 1292.75 379.73 1293.25 378.18 1293.75 376.61 1294.25 375.04 1294.75 373.46 1295.25 371.87 1295.75 370.27 1296.25 368.66 1296.75 367.05 1297.25 365.42 1297.75 363.79 1298.25 362.15 1298.75 360.51 1299.25 358.85 1299.75 357.19 1300.25 355.52 1300.75 353.85 1301.25 352.16 1301.75 350.47 1302.25 348.78 1302.75 347.07 1303.25 345.36 1303.75 343.64 1304.25 341.92 1304.75 340.19 1305.25 338.45 1305.75 336.71 1306.25 334.96 1306.75 333.2 1307.25 331.44 1307.75 329.68 1308.25 327.9 1308.75 326.13 1309.25 324.35 1309.75 322.57 1310.25 320.78 1310.75 319 1311.25 317.22 1311.75 315.43 1312.25 313.65 1312.75 311.88 1313.25 310.1 1313.75 308.33 1314.25 306.57 1314.75 304.81 1315.25 303.05 1315.75 301.31 1316.25 299.57 1316.75 297.85 1317.25 296.13 1317.75 294.42 1318.25 292.73 1318.75 291.05 1319.25 289.38 1319.75 287.73 1320.25 286.09 1320.75 284.47 1321.25 282.86 1321.75 281.28 1322.25 279.71 1322.75 278.16 1323.25 276.63 1323.75 275.12 1324.25 273.62 1324.75 272.14 1325.25 270.68 1325.75 269.23 1326.25 267.79 1326.75 266.36 1327.25 264.94 1327.75 263.52 1328.25 262.12 1328.75 260.72 1329.25 259.33 1329.75 257.93 1330.25 256.54 1330.75 255.16 1331.25 253.77 1331.75 252.38 1332.25 250.98 1332.75 249.58 1333.25 248.18 1333.75 246.78 1334.25 245.37 1334.75 243.96 1335.25 242.55 1335.75 241.14 1336.25 239.73 1336.75 238.32 1337.25 236.91 1337.75 235.51 1338.25 234.11 1338.75 232.72 1339.25 231.33 1339.75 229.95 1340.25 228.58 1340.75 227.22 1341.25 225.86 1341.75 224.52 1342.25 223.18 1342.75 221.86 1343.25 220.55 1343.75 219.26 1344.25 217.98 1344.75 216.71 1345.25 215.46 1345.75 214.23 1346.25 213.02 1346.75 211.82 1347.25 210.65 1347.75 209.49 1348.25 208.36 1348.75 207.25 1349.25 206.16 1349.75 205.09 1350.25 204.05 1350.75 203.04 1351.25 202.05 1351.75 201.09 1352.25 200.16 1352.75 199.26 1353.25 198.38 1353.75 197.54 1354.25 196.72 1354.75 195.94 1355.25 195.18 1355.75 194.45 1356.25 193.75 1356.75 193.08 1357.25 192.43 1357.75 191.82 1358.25 191.23 1358.75 190.67 1359.25 190.13 1359.75 189.63 1360.25 189.15 1360.75 188.7 1361.25 188.27 1361.75 187.87 1362.25 187.5 1362.75 187.16 1363.25 186.84 1363.75 186.55 1364.25 186.28 1364.75 186.04 1365.25 185.82 1365.75 185.63 1366.25 185.47 1366.75 185.33 1367.25 185.22 1367.75 185.13 1368.25 185.06 1368.75 185.02 1369.25 185.01 1369.75 185.02 1370.25 185.05 1370.75 185.11 1371.25 185.19 1371.75 185.29 1372.25 185.42 1372.75 185.57 1373.25 185.75 1373.75 185.95 1374.25 186.17 1374.75 186.41 1375.25 186.68 1375.75 186.97 1376.25 187.28 1376.75 187.61 1377.25 187.96 1377.75 188.34 1378.25 188.74 1378.75 189.16 1379.25 189.6 1379.75 190.06 1380.25 190.54 1380.75 191.05 1381.25 191.57 1381.75 192.12 1382.25 192.68 1382.75 193.27 1383.25 193.88 1383.75 194.5 1384.25 195.15 1384.75 195.82 1385.25 196.5 1385.75 197.2 1386.25 197.93 1386.75 198.67 1387.25 199.43 1387.75 200.21 1388.25 201.01 1388.75 201.83 1389.25 202.66 1389.75 203.52 1390.25 204.39 1390.75 205.28 1391.25 206.19 1391.75 207.11 1392.25 208.05 1392.75 209.01 1393.25 209.99 1393.75 210.98 1394.25 211.99 1394.75 213.02 1395.25 214.06 1395.75 215.12 1396.25 216.19 1396.75 217.28 1397.25 218.39 1397.75 219.51 1398.25 220.65 1398.75 221.8 1399.25 222.97 1399.75 224.15 1400.25 225.35 1400.75 226.55 1401.25 227.78 1401.75 229.01 1402.25 230.25 1402.75 231.51 1403.25 232.77 1403.75 234.05 1404.25 235.33 1404.75 236.62 1405.25 237.92 1405.75 239.23 1406.25 240.55 1406.75 241.87 1407.25 243.2 1407.75 244.53 1408.25 245.87 1408.75 247.22 1409.25 248.56 1409.75 249.91 1410.25 251.27 1410.75 252.62 1411.25 253.98 1411.75 255.34 1412.25 256.7 1412.75 258.06 1413.25 259.42 1413.75 260.78 1414.25 262.13 1414.75 263.49 1415.25 264.84 1415.75 266.19 1416.25 267.55 1416.75 268.92 1417.25 270.3 1417.75 271.7 1418.25 273.12 1418.75 274.57 1419.25 276.05 1419.75 277.57 1420.25 279.13 1420.75 280.73 1421.25 282.38 1421.75 284.08 1422.25 285.84 1422.75 287.67 1423.25 289.56 1423.75 291.52 1424.25 293.56 1424.75 295.68 1425.25 297.88 1425.75 300.17 1426.25 302.55 1426.75 305.04 1427.25 307.62 1427.75 310.31 1427.78 310.47" fill="none" stroke="#000" stroke-width="5.6" stroke-linejoin="round"/>
<path d="M1058.75 380.15L1059.25 380.27 1059.75 380.39 1060.25 380.5 1060.75 380.61 1061.25 380.7 1061.75 380.79 1062.25 380.87 1062.75 380.94 1063.25 381 1063.75 381.06 1064.25 381.11 1064.75 381.15 1065.25 381.18 1065.75 381.21 1066.25 381.23 1066.75 381.25 1067.25 381.25 1067.75 381.26 1068.25 381.25 1068.75 381.24 1069.25 381.22 1069.75 381.2 1070.25 381.17 1070.75 381.14 1071.25 381.1 1071.75 381.05 1072.25 381 1072.75 380.95 1073.25 380.89 1073.75 380.82 1074.25 380.75 1074.75 380.68 1075.25 380.6 1075.75 380.52 1076.25 380.43 1076.75 380.34 1077.25 380.24 1077.75 380.14 1078.25 380.04 1078.75 379.93 1079.25 379.82 1079.75 379.71 1080.25 379.59 1080.75 379.47 1081.25 379.34 1081.75 379.22 1082.25 379.09 1082.75 378.96 1083.25 378.83 1083.75 378.69 1084.25 378.55 1084.75 378.41 1085.25 378.27 1085.75 378.12 1086.25 377.98 1086.75 377.83 1087.25 377.68 1087.75 377.53 1088.25 377.38 1088.75 377.23 1089.25 377.07 1089.75 376.92 1090.25 376.76 1090.75 376.61 1091.25 376.45 1091.75 376.3 1092.25 376.14 1092.75 375.98 1093.25 375.83 1093.75 375.67 1094.25 375.52 1094.75 375.36 1095.25 375.2 1095.75 375.05 1096.25 374.9 1096.75 374.74 1097.25 374.59 1097.75 374.44 1098.25 374.29 1098.75 374.15 1099.25 374 1099.75 373.86 1100.25 373.72 1100.75 373.57 1101.25 373.44 1101.75 373.3 1102.25 373.17 1102.75 373.04 1103.25 372.91 1103.75 372.78 1104.25 372.66 1104.75 372.54 1105.25 372.42 1105.75 372.31 1106.25 372.2 1106.75 372.09 1107.25 371.99 1107.75 371.89 1108.25 371.79 1108.75 371.69 1109.25 371.6 1109.75 371.51 1110.25 371.43 1110.75 371.35 1111.25 371.27 1111.75 371.2 1112.25 371.12 1112.75 371.05 1113.25 370.99 1113.75 370.93 1114.25 370.87 1114.75 370.81 1115.25 370.76 1115.75 370.71 1116.25 370.67 1116.75 370.62 1117.25 370.58 1117.75 370.55 1118.25 370.52 1118.75 370.49 1119.25 370.46 1119.75 370.44 1120.25 370.42 1120.75 370.4 1121.25 370.39 1121.75 370.38 1122.25 370.37 1122.75 370.37 1123.25 370.37 1123.75 370.38 1124.25 370.38 1124.75 370.4 1125.25 370.41 1125.75 370.43 1126.25 370.45 1126.75 370.47 1127.25 370.5 1127.75 370.53 1128.25 370.57 1128.75 370.6 1129.25 370.65 1129.75 370.69 1130.25 370.74 1130.75 370.79 1131.25 370.85 1131.75 370.91 1132.25 370.97 1132.75 371.03 1133.25 371.1 1133.75 371.17 1134.25 371.25 1134.75 371.33 1135.25 371.41 1135.75 371.5 1136.25 371.59 1136.75 371.68 1137.25 371.78 1137.75 371.88 1138.25 371.98 1138.75 372.09 1139.25 372.2 1139.75 372.32 1140.25 372.43 1140.75 372.56 1141.25 372.68 1141.75 372.81 1142.25 372.94 1142.75 373.07 1143.25 373.21 1143.75 373.35 1144.25 373.5 1144.75 373.64 1145.25 373.79 1145.75 373.94 1146.25 374.09 1146.75 374.25 1147.25 374.41 1147.75 374.57 1148.25 374.73 1148.75 374.9 1149.25 375.06 1149.75 375.23 1150.25 375.4 1150.75 375.57 1151.25 375.74 1151.75 375.92 1152.25 376.09 1152.75 376.27 1153.25 376.45 1153.75 376.63 1154.25 376.81 1154.75 376.99 1155.25 377.17 1155.75 377.35 1156.25 377.53 1156.75 377.71 1157.25 377.9 1157.75 378.08 1158.25 378.27 1158.75 378.45 1159.25 378.63 1159.75 378.82 1160.25 379 1160.75 379.18 1161.25 379.37 1161.75 379.55 1162.25 379.73 1162.75 379.91 1163.25 380.09 1163.75 380.27 1164.25 380.45 1164.75 380.62 1165.25 380.8 1165.75 380.98 1166.25 381.15 1166.75 381.32 1167.25 381.49 1167.75 381.66 1168.25 381.83 1168.75 381.99 1169.25 382.15 1169.75 382.32 1170.25 382.47 1170.75 382.63 1171.25 382.79 1171.75 382.94 1172.25 383.09 1172.75 383.24 1173.25 383.38 1173.75 383.52 1174.25 383.67 1174.75 383.8 1175.25 383.94 1175.75 384.08 1176.25 384.21 1176.75 384.34 1177.25 384.47 1177.75 384.6 1178.25 384.72 1178.75 384.85 1179.25 384.97 1179.75 385.09 1180.25 385.21 1180.75 385.33 1181.25 385.44 1181.75 385.56 1182.25 385.67 1182.75 385.78 1183.25 385.89 1183.75 386 1184.25 386.11 1184.75 386.22 1185.25 386.32 1185.75 386.43 1186.25 386.53 1186.75 386.64 1187.25 386.74 1187.75 386.84 1188.25 386.94 1188.75 387.04 1189.25 387.14 1189.75 387.24 1190.25 387.33 1190.75 387.43 1191.25 387.53 1191.75 387.62 1192.25 387.72 1192.75 387.82 1193.25 387.91 1193.75 388 1194.25 388.1 1194.75 388.19 1195.25 388.29 1195.75 388.38 1196.25 388.48 1196.75 388.57 1197.25 388.66 1197.75 388.76 1198.25 388.85 1198.75 388.95 1199.25 389.04 1199.75 389.14 1200.25 389.23 1200.75 389.33 1201.25 389.42 1201.75 389.52 1202.25 389.62 1202.75 389.72 1203.25 389.81 1203.75 389.91 1204.25 390.01 1204.75 390.11 1205.25 390.21 1205.75 390.31 1206.25 390.41 1206.75 390.51 1207.25 390.61 1207.75 390.71 1208.25 390.8 1208.75 390.9 1209.25 391 1209.75 391.1 1210.25 391.19 1210.75 391.29 1211.25 391.38 1211.75 391.48 1212.25 391.57 1212.75 391.66 1213.25 391.75 1213.75 391.84 1214.25 391.93 1214.75 392.01 1215.25 392.1 1215.75 392.18 1216.25 392.26 1216.75 392.34 1217.25 392.42 1217.75 392.49 1218.25 392.57 1218.75 392.64 1219.25 392.71 1219.75 392.77 1220.25 392.84 1220.75 392.9 1221.25 392.96 1221.75 393.02 1222.25 393.07 1222.75 393.12 1223.25 393.17 1223.75 393.21 1224.25 393.26 1224.75 393.3 1225.25 393.33 1225.75 393.36 1226.25 393.39 1226.75 393.42 1227.25 393.44 1227.75 393.46 1228.25 393.47 1228.75 393.48 1229.25 393.49 1229.75 393.49 1230.25 393.49 1230.75 393.48 1231.25 393.47 1231.75 393.46 1232.25 393.44 1232.75 393.41 1233.25 393.39 1233.75 393.35 1234.25 393.32 1234.75 393.27 1235.25 393.23 1235.75 393.17 1236.25 393.12 1236.75 393.05 1237.25 392.98 1237.75 392.91 1238.25 392.83 1238.75 392.75 1239.25 392.66 1239.75 392.56 1240.25 392.46 1240.75 392.35 1241.25 392.23 1241.75 392.11 1242.25 391.99 1242.75 391.85 1243.25 391.71 1243.75 391.56 1244.25 391.4 1244.75 391.23 1245.25 391.06 1245.75 390.87 1246.25 390.68 1246.75 390.48 1247.25 390.26 1247.75 390.04 1248.25 389.81 1248.75 389.56 1249.25 389.31 1249.75 389.04 1250.25 388.76 1250.75 388.47 1251.25 388.17 1251.75 387.86 1252.25 387.53 1252.75 387.19 1253.25 386.83 1253.75 386.47 1254.25 386.09 1254.75 385.69 1255.25 385.28 1255.75 384.86 1256.25 384.42 1256.75 383.96 1257.25 383.49 1257.75 383 1258.25 382.5 1258.75 381.98 1259.25 381.44 1259.75 380.89 1260.25 380.32 1260.75 379.73 1261.25 379.12 1261.75 378.5 1262.25 377.85 1262.75 377.19 1263.25 376.51 1263.75 375.81 1264.25 375.08 1264.75 374.34 1265.25 373.58 1265.75 372.8 1266.25 372 1266.75 371.17 1267.25 370.32 1267.75 369.46 1268.25 368.57 1268.75 367.65 1269.25 366.72 1269.75 365.76 1270.25 364.78 1270.75 363.78 1271.25 362.75 1271.75 361.71 1272.25 360.64 1272.75 359.54 1273.25 358.43 1273.75 357.29 1274.25 356.13 1274.75 354.94 1275.25 353.73 1275.75 352.5 1276.25 351.25 1276.75 349.97 1277.25 348.67 1277.75 347.35 1278.25 346 1278.75 344.63 1279.25 343.23 1279.75 341.81 1280.25 340.37 1280.75 338.91 1281.25 337.42 1281.75 335.91 1282.25 334.37 1282.75 332.81 1283.25 331.22 1283.75 329.61 1284.25 327.98 1284.75 326.32 1285.25 324.64 1285.75 322.94 1286.25 321.21 1286.75 319.46 1287.25 317.69 1287.75 315.9 1288.25 314.09 1288.75 312.27 1289.25 310.42 1289.75 308.56 1290.25 306.69 1290.75 304.8 1291.25 302.89 1291.75 300.98 1292.25 299.05 1292.75 297.11 1293.25 295.17 1293.75 293.22 1294.25 291.27 1294.75 289.32 1295.25 287.39 1295.75 285.46 1296.25 283.55 1296.75 281.67 1297.25 279.8 1297.75 277.96 1298.25 276.16 1298.75 274.39 1299.25 272.66 1299.75 270.97 1300.25 269.33 1300.75 267.73 1301.25 266.18 1301.75 264.66 1302.25 263.18 1302.75 261.73 1303.25 260.32 1303.75 258.92 1304.25 257.55 1304.75 256.2 1305.25 254.86 1305.75 253.54 1306.25 252.23 1306.75 250.92 1307.25 249.62 1307.75 248.32 1308.25 247.01 1308.75 245.7 1309.25 244.38 1309.75 243.04 1310.25 241.69 1310.75 240.33 1311.25 238.94 1311.75 237.52 1312.25 236.08 1312.75 234.61 1313.25 233.11 1313.75 231.59 1314.25 230.05 1314.75 228.49 1315.25 226.91 1315.75 225.3 1316.25 223.68 1316.75 222.05 1317.25 220.4 1317.75 218.73 1318.25 217.05 1318.75 215.37 1319.25 213.67 1319.75 211.96 1320.25 210.25 1320.75 208.53 1321.25 206.81 1321.75 205.1 1322.25 203.38 1322.75 201.67 1323.25 199.96 1323.75 198.27 1324.25 196.58 1324.75 194.91 1325.25 193.25 1325.75 191.6 1326.25 189.98 1326.75 188.37 1327.25 186.78 1327.75 185.21 1328.25 183.66 1328.75 182.13 1329.25 180.61 1329.75 179.12 1330.25 177.64 1330.75 176.19 1331.25 174.75 1331.75 173.33 1332.25 171.93 1332.75 170.55 1333.25 169.19 1333.75 167.85 1334.25 166.54 1334.75 165.24 1335.25 163.96 1335.75 162.7 1336.25 161.46 1336.75 160.24 1337.25 159.04 1337.75 157.86 1338.25 156.71 1338.75 155.57 1339.25 154.46 1339.75 153.36 1340.25 152.29 1340.75 151.24 1341.25 150.21 1341.75 149.2 1342.25 148.22 1342.75 147.25 1343.25 146.31 1343.75 145.38 1344.25 144.48 1344.75 143.6 1345.25 142.74 1345.75 141.91 1346.25 141.09 1346.75 140.3 1347.25 139.52 1347.75 138.77 1348.25 138.04 1348.75 137.33 1349.25 136.64 1349.75 135.98 1350.25 135.33 1350.75 134.71 1351.25 134.11 1351.75 133.52 1352.25 132.96 1352.75 132.43 1353.25 131.91 1353.75 131.41 1354.25 130.94 1354.75 130.48 1355.25 130.05 1355.75 129.64 1356.25 129.25 1356.75 128.88 1357.25 128.53 1357.75 128.2 1358.25 127.9 1358.75 127.61 1359.25 127.35 1359.75 127.11 1360.25 126.89 1360.75 126.69 1361.25 126.51 1361.75 126.35 1362.25 126.21 1362.75 126.1 1363.25 126 1363.75 125.93 1364.25 125.88 1364.75 125.85 1365.25 125.84 1365.75 125.85 1366.25 125.88 1366.75 125.93 1367.25 126.01 1367.75 126.1 1368.25 126.22 1368.75 126.35 1369.25 126.51 1369.75 126.69 1370.25 126.89 1370.75 127.11 1371.25 127.35 1371.75 127.62 1372.25 127.9 1372.75 128.21 1373.25 128.53 1373.75 128.88 1374.25 129.25 1374.75 129.63 1375.25 130.04 1375.75 130.47 1376.25 130.92 1376.75 131.39 1377.25 131.88 1377.75 132.39 1378.25 132.92 1378.75 133.47 1379.25 134.04 1379.75 134.63 1380.25 135.24 1380.75 135.86 1381.25 136.5 1381.75 137.16 1382.25 137.84 1382.75 138.54 1383.25 139.25 1383.75 139.98 1384.25 140.73 1384.75 141.5 1385.25 142.28 1385.75 143.07 1386.25 143.89 1386.75 144.72 1387.25 145.56 1387.75 146.42 1388.25 147.3 1388.75 148.19 1389.25 149.09 1389.75 150.01 1390.25 150.95 1390.75 151.89 1391.25 152.86 1391.75 153.83 1392.25 154.82 1392.75 155.82 1393.25 156.84 1393.75 157.87 1394.25 158.91 1394.75 159.96 1395.25 161.02 1395.75 162.1 1396.25 163.19 1396.75 164.29 1397.25 165.4 1397.75 166.52 1398.25 167.65 1398.75 168.8 1399.25 169.95 1399.75 171.12 1400.25 172.29 1400.75 173.47 1401.25 174.67 1401.75 175.87 1402.25 177.08 1402.75 178.3 1403.25 179.53 1403.75 180.77 1404.25 182.01 1404.75 183.26 1405.25 184.53 1405.75 185.79 1406.25 187.07 1406.75 188.35 1407.25 189.64 1407.75 190.94 1408.25 192.24 1408.75 193.55 1409.25 194.86 1409.75 196.18 1410.25 197.51 1410.75 198.84 1411.25 200.18 1411.75 201.52 1412.25 202.87 1412.75 204.23 1413.25 205.6 1413.75 206.98 1414.25 208.37 1414.75 209.77 1415.25 211.18 1415.75 212.62 1416.25 214.06 1416.75 215.53 1417.25 217.01 1417.75 218.51 1418.25 220.03 1418.75 221.57 1419.25 223.14 1419.75 224.72 1420.25 226.34 1420.75 227.97 1421.25 229.64 1421.75 231.33 1422.25 233.05 1422.75 234.8 1423.25 236.58 1423.75 238.39 1424.25 240.23 1424.75 242.11 1425.25 244.02 1425.75 245.97 1426.25 247.96 1426.75 249.99 1427.25 252.05 1427.75 254.15 1428 255.22" fill="none" stroke="#f00" stroke-width="5.6" stroke-linejoin="round"/>
</g>
<rect x="1067.3" y="42.6" width="92" height="58.9" rx="3" ry="3" fill="#fff" fill-opacity="0.8" stroke="#ccc" stroke-width="1.4"/>
<line x1="1072.6" y1="57.1" x2="1114.1" y2="57.1" stroke="#000" stroke-width="5.6"/>
<line x1="1072.6" y1="83.7" x2="1114.1" y2="83.7" stroke="#f00" stroke-width="5.6"/>
<text x="1126.2" y="62.8" font-size="18" text-anchor="start">VC</text>
<text x="1126.2" y="90.2" font-size="18" text-anchor="start">OP</text>
<line x1="1058.7" y1="561.5" x2="1058.7" y2="567.8" stroke="#000" stroke-width="1.6"/>
<text x="1058.7" y="587.4" font-size="18" text-anchor="middle">0</text>
<line x1="1132.56" y1="561.5" x2="1132.56" y2="567.8" stroke="#000" stroke-width="1.6"/>
<text x="1132.56" y="587.4" font-size="18" text-anchor="middle">20</text>
<line x1="1206.42" y1="561.5" x2="1206.42" y2="567.8" stroke="#000" stroke-width="1.6"/>
<text x="1206.42" y="587.4" font-size="18" text-anchor="middle">40</text>
<line x1="1280.28" y1="561.5" x2="1280.28" y2="567.8" stroke="#000" stroke-width="1.6"/>
<text x="1280.28" y="587.4" font-size="18" text-anchor="middle">60</text>
<line x1="1354.14" y1="561.5" x2="1354.14" y2="567.8" stroke="#000" stroke-width="1.6"/>
<text x="1354.14" y="587.4" font-size="18" text-anchor="middle">80</text>
<line x1="1428" y1="561.5" x2="1428" y2="567.8" stroke="#000" stroke-width="1.6"/>
<text x="1428" y="587.4" font-size="18" text-anchor="middle">100</text>
<line x1="1052.4" y1="57.2" x2="1058.7" y2="57.2" stroke="#000" stroke-width="1.6"/>
<text x="1046.3" y="63.75" font-size="18" text-anchor="end">70</text>
<line x1="1052.4" y1="119.1" x2="1058.7" y2="119.1" stroke="#000" stroke-width="1.6"/>
<text x="1046.3" y="125.65" font-size="18" text-anchor="end">60</text>
<line x1="1052.4" y1="181" x2="1058.7" y2="181" stroke="#000" stroke-width="1.6"/>
<text x="1046.3" y="187.55" font-size="18" text-anchor="end">50</text>
<line x1="1052.4" y1="242.9" x2="1058.7" y2="242.9" stroke="#000" stroke-width="1.6"/>
<text x="1046.3" y="249.45" font-size="18" text-anchor="end">40</text>
<line x1="1052.4" y1="304.8" x2="1058.7" y2="304.8" stroke="#000" stroke-width="1.6"/>
<text x="1046.3" y="311.35" font-size="18" text-anchor="end">30</text>
<line x1="1052.4" y1="366.7" x2="1058.7" y2="366.7" stroke="#000" stroke-width="1.6"/>
<text x="1046.3" y="373.25" font-size="18" text-anchor="end">20</text>
<line x1="1052.4" y1="428.6" x2="1058.7" y2="428.6" stroke="#000" stroke-width="1.6"/>
<text x="1046.3" y="435.15" font-size="18" text-anchor="end">10</text>
<line x1="1052.4" y1="490.5" x2="1058.7" y2="490.5" stroke="#000" stroke-width="1.6"/>
<text x="1046.3" y="497.05" font-size="18" text-anchor="end">0</text>
<line x1="1052.4" y1="552.4" x2="1058.7" y2="552.4" stroke="#000" stroke-width="1.6"/>
<text x="1046.3" y="558.95" font-size="18" text-anchor="end">−10</text>
<rect x="1058.7" y="33.8" width="369.3" height="527.7" fill="none" stroke="#000" stroke-width="1.6"/>
<text x="1243.35" y="612.5" font-size="18" text-anchor="middle">Time (%)</text>
<text x="1243.35" y="23" font-size="22" text-anchor="middle">Knee Flexion VC-OP</text>
<text x="0" y="0" font-size="18.3" text-anchor="middle" transform="translate(995.4 298.25) rotate(-90)">Knee&#160;Angles&#160;&#160;(deg)</text>
<g clip-path="url(#cB2)">
<path d="M1534 428.18L1534 434.49 1534.5 436.3 1535 437.83 1535.5 439.1 1536 440.11 1536.5 440.88 1537 441.4 1537.5 441.7 1538 441.78 1538.5 441.65 1539 441.32 1539.5 440.8 1540 440.1 1540.5 439.23 1541 438.2 1541.5 437.01 1542 435.69 1542.5 434.23 1543 432.65 1543.5 430.96 1544 429.17L1544 428.18Z" fill="#cccccc"/>
<path d="M1627.5 428.18L1627.5 429.27 1628 430.58 1628.5 431.89 1629 433.2 1629.5 434.51 1630 435.83 1630.5 437.15 1631 438.46 1631.5 439.78 1632 441.1 1632.5 442.42 1633 443.73 1633.5 445.05 1634 446.36 1634.5 447.66 1635 448.97 1635.5 450.27 1636 451.57 1636.5 452.86 1637 454.15 1637.5 455.43 1638 456.7 1638.5 457.97 1639 459.23 1639.5 460.48 1640 461.73 1640.5 462.96 1641 464.19 1641.5 465.41 1642 466.61 1642.5 467.81 1643 468.99 1643.5 470.17 1644 471.33 1644.5 472.47 1645 473.61 1645.5 474.73 1646 475.84 1646.5 476.93 1647 478.01 1647.5 479.07 1648 480.12 1648.5 481.14 1649 482.16 1649.5 483.15 1650 484.13 1650.5 485.09 1651 486.02 1651.5 486.94 1652 487.84 1652.5 488.72 1653 489.58 1653.5 490.42 1654 491.23 1654.5 492.02 1655 492.79 1655.5 493.54 1656 494.26 1656.5 494.95 1657 495.63 1657.5 496.27 1658 496.89 1658.5 497.49 1659 498.05 1659.5 498.59 1660 499.11 1660.5 499.59 1661 500.05 1661.5 500.47 1662 500.87 1662.5 501.23 1663 501.57 1663.5 501.87 1664 502.14 1664.5 502.38 1665 502.59 1665.5 502.76 1666 502.9 1666.5 503 1667 503.07 1667.5 503.11 1668 503.11 1668.5 503.08 1669 503.02 1669.5 502.93 1670 502.82 1670.5 502.67 1671 502.5 1671.5 502.3 1672 502.09 1672.5 501.85 1673 501.59 1673.5 501.31 1674 501.01 1674.5 500.69 1675 500.36 1675.5 500.02 1676 499.66 1676.5 499.29 1677 498.91 1677.5 498.52 1678 498.12 1678.5 497.72 1679 497.31 1679.5 496.9 1680 496.48 1680.5 496.06 1681 495.64 1681.5 495.22 1682 494.81 1682.5 494.4 1683 493.99 1683.5 493.59 1684 493.19 1684.5 492.81 1685 492.43 1685.5 492.06 1686 491.71 1686.5 491.37 1687 491.05 1687.5 490.74 1688 490.45 1688.5 490.17 1689 489.92 1689.5 489.69 1690 489.48 1690.5 489.29 1691 489.13 1691.5 489 1692 488.89 1692.5 488.81 1693 488.76 1693.5 488.74 1694 488.76 1694.5 488.81 1695 488.89 1695.5 489.01 1696 489.17 1696.5 489.36 1697 489.59 1697.5 489.86 1698 490.16 1698.5 490.49 1699 490.86 1699.5 491.26 1700 491.69 1700.5 492.15 1701 492.65 1701.5 493.17 1702 493.72 1702.5 494.3 1703 494.91 1703.5 495.55 1704 496.21 1704.5 496.89 1705 497.6 1705.5 498.34 1706 499.1 1706.5 499.88 1707 500.68 1707.5 501.5 1708 502.35 1708.5 503.21 1709 504.09 1709.5 505 1710 505.91 1710.5 506.85 1711 507.8 1711.5 508.77 1712 509.75 1712.5 510.74 1713 511.74 1713.5 512.75 1714 513.74 1714.5 514.74 1715 515.72 1715.5 516.68 1716 517.62 1716.5 518.53 1717 519.41 1717.5 520.26 1718 521.07 1718.5 521.82 1719 522.53 1719.5 523.19 1720 523.78 1720.5 524.31 1721 524.77 1721.5 525.15 1722 525.46 1722.5 525.68 1723 525.81 1723.5 525.85 1724 525.79 1724.5 525.63 1725 525.36 1725.5 525 1726 524.52 1726.5 523.95 1727 523.27 1727.5 522.5 1728 521.62 1728.5 520.64 1729 519.55 1729.5 518.37 1730 517.09 1730.5 515.71 1731 514.23 1731.5 512.66 1732 511 1732.5 509.26 1733 507.44 1733.5 505.54 1734 503.58 1734.5 501.55 1735 499.47 1735.5 497.33 1736 495.14 1736.5 492.91 1737 490.64 1737.5 488.33 1738 486 1738.5 483.64 1739 481.26 1739.5 478.87 1740 476.47 1740.5 474.06 1741 471.66 1741.5 469.26 1742 466.87 1742.5 464.49 1743 462.14 1743.5 459.81 1744 457.51 1744.5 455.25 1745 453.02 1745.5 450.83 1746 448.67 1746.5 446.55 1747 444.47 1747.5 442.43 1748 440.43 1748.5 438.47 1749 436.54 1749.5 434.66 1750 432.82 1750.5 431.01 1751 429.25L1751 428.18Z" fill="#cccccc"/>
<line x1="1534" y1="253.9" x2="1903.5" y2="253.9" stroke="#000" stroke-width="1.85" stroke-dasharray="1.85 2.98"/>
<path d="M1534 434.49L1534.5 436.3 1535 437.83 1535.5 439.1 1536 440.11 1536.5 440.88 1537 441.4 1537.5 441.7 1538 441.78 1538.5 441.65 1539 441.32 1539.5 440.8 1540 440.1 1540.5 439.23 1541 438.2 1541.5 437.01 1542 435.69 1542.5 434.23 1543 432.65 1543.5 430.96 1544 429.17 1544.5 427.28 1545 425.31 1545.5 423.26 1546 421.15 1546.5 418.98 1547 416.77 1547.5 414.53 1548 412.25 1548.5 409.95 1549 407.64 1549.5 405.32 1550 403 1550.5 400.68 1551 398.37 1551.5 396.08 1552 393.81 1552.5 391.56 1553 389.36 1553.5 387.2 1554 385.08 1554.5 383.02 1555 381.02 1555.5 379.09 1556 377.23 1556.5 375.46 1557 373.77 1557.5 372.17 1558 370.66 1558.5 369.25 1559 367.91 1559.5 366.66 1560 365.48 1560.5 364.37 1561 363.33 1561.5 362.35 1562 361.42 1562.5 360.55 1563 359.73 1563.5 358.95 1564 358.21 1564.5 357.51 1565 356.85 1565.5 356.22 1566 355.64 1566.5 355.09 1567 354.57 1567.5 354.1 1568 353.66 1568.5 353.25 1569 352.88 1569.5 352.54 1570 352.23 1570.5 351.96 1571 351.72 1571.5 351.51 1572 351.33 1572.5 351.18 1573 351.06 1573.5 350.97 1574 350.91 1574.5 350.87 1575 350.87 1575.5 350.89 1576 350.93 1576.5 351.01 1577 351.1 1577.5 351.23 1578 351.37 1578.5 351.54 1579 351.74 1579.5 351.95 1580 352.19 1580.5 352.45 1581 352.73 1581.5 353.03 1582 353.34 1582.5 353.68 1583 354.04 1583.5 354.41 1584 354.8 1584.5 355.21 1585 355.64 1585.5 356.08 1586 356.53 1586.5 357 1587 357.48 1587.5 357.98 1588 358.49 1588.5 359.01 1589 359.54 1589.5 360.09 1590 360.64 1590.5 361.21 1591 361.78 1591.5 362.36 1592 362.96 1592.5 363.55 1593 364.16 1593.5 364.77 1594 365.39 1594.5 366.02 1595 366.65 1595.5 367.28 1596 367.92 1596.5 368.57 1597 369.22 1597.5 369.87 1598 370.54 1598.5 371.21 1599 371.89 1599.5 372.57 1600 373.26 1600.5 373.96 1601 374.67 1601.5 375.39 1602 376.12 1602.5 376.85 1603 377.6 1603.5 378.35 1604 379.11 1604.5 379.89 1605 380.67 1605.5 381.47 1606 382.28 1606.5 383.09 1607 383.92 1607.5 384.76 1608 385.62 1608.5 386.48 1609 387.36 1609.5 388.26 1610 389.16 1610.5 390.08 1611 391.02 1611.5 391.96 1612 392.93 1612.5 393.9 1613 394.89 1613.5 395.9 1614 396.93 1614.5 397.96 1615 399.02 1615.5 400.09 1616 401.18 1616.5 402.28 1617 403.4 1617.5 404.53 1618 405.67 1618.5 406.82 1619 407.99 1619.5 409.17 1620 410.36 1620.5 411.57 1621 412.78 1621.5 414 1622 415.23 1622.5 416.48 1623 417.73 1623.5 418.98 1624 420.25 1624.5 421.52 1625 422.8 1625.5 424.08 1626 425.37 1626.5 426.67 1627 427.97 1627.5 429.27 1628 430.58 1628.5 431.89 1629 433.2 1629.5 434.51 1630 435.83 1630.5 437.15 1631 438.46 1631.5 439.78 1632 441.1 1632.5 442.42 1633 443.73 1633.5 445.05 1634 446.36 1634.5 447.66 1635 448.97 1635.5 450.27 1636 451.57 1636.5 452.86 1637 454.15 1637.5 455.43 1638 456.7 1638.5 457.97 1639 459.23 1639.5 460.48 1640 461.73 1640.5 462.96 1641 464.19 1641.5 465.41 1642 466.61 1642.5 467.81 1643 468.99 1643.5 470.17 1644 471.33 1644.5 472.47 1645 473.61 1645.5 474.73 1646 475.84 1646.5 476.93 1647 478.01 1647.5 479.07 1648 480.12 1648.5 481.14 1649 482.16 1649.5 483.15 1650 484.13 1650.5 485.09 1651 486.02 1651.5 486.94 1652 487.84 1652.5 488.72 1653 489.58 1653.5 490.42 1654 491.23 1654.5 492.02 1655 492.79 1655.5 493.54 1656 494.26 1656.5 494.95 1657 495.63 1657.5 496.27 1658 496.89 1658.5 497.49 1659 498.05 1659.5 498.59 1660 499.11 1660.5 499.59 1661 500.05 1661.5 500.47 1662 500.87 1662.5 501.23 1663 501.57 1663.5 501.87 1664 502.14 1664.5 502.38 1665 502.59 1665.5 502.76 1666 502.9 1666.5 503 1667 503.07 1667.5 503.11 1668 503.11 1668.5 503.08 1669 503.02 1669.5 502.93 1670 502.82 1670.5 502.67 1671 502.5 1671.5 502.3 1672 502.09 1672.5 501.85 1673 501.59 1673.5 501.31 1674 501.01 1674.5 500.69 1675 500.36 1675.5 500.02 1676 499.66 1676.5 499.29 1677 498.91 1677.5 498.52 1678 498.12 1678.5 497.72 1679 497.31 1679.5 496.9 1680 496.48 1680.5 496.06 1681 495.64 1681.5 495.22 1682 494.81 1682.5 494.4 1683 493.99 1683.5 493.59 1684 493.19 1684.5 492.81 1685 492.43 1685.5 492.06 1686 491.71 1686.5 491.37 1687 491.05 1687.5 490.74 1688 490.45 1688.5 490.17 1689 489.92 1689.5 489.69 1690 489.48 1690.5 489.29 1691 489.13 1691.5 489 1692 488.89 1692.5 488.81 1693 488.76 1693.5 488.74 1694 488.76 1694.5 488.81 1695 488.89 1695.5 489.01 1696 489.17 1696.5 489.36 1697 489.59 1697.5 489.86 1698 490.16 1698.5 490.49 1699 490.86 1699.5 491.26 1700 491.69 1700.5 492.15 1701 492.65 1701.5 493.17 1702 493.72 1702.5 494.3 1703 494.91 1703.5 495.55 1704 496.21 1704.5 496.89 1705 497.6 1705.5 498.34 1706 499.1 1706.5 499.88 1707 500.68 1707.5 501.5 1708 502.35 1708.5 503.21 1709 504.09 1709.5 505 1710 505.91 1710.5 506.85 1711 507.8 1711.5 508.77 1712 509.75 1712.5 510.74 1713 511.74 1713.5 512.75 1714 513.74 1714.5 514.74 1715 515.72 1715.5 516.68 1716 517.62 1716.5 518.53 1717 519.41 1717.5 520.26 1718 521.07 1718.5 521.82 1719 522.53 1719.5 523.19 1720 523.78 1720.5 524.31 1721 524.77 1721.5 525.15 1722 525.46 1722.5 525.68 1723 525.81 1723.5 525.85 1724 525.79 1724.5 525.63 1725 525.36 1725.5 525 1726 524.52 1726.5 523.95 1727 523.27 1727.5 522.5 1728 521.62 1728.5 520.64 1729 519.55 1729.5 518.37 1730 517.09 1730.5 515.71 1731 514.23 1731.5 512.66 1732 511 1732.5 509.26 1733 507.44 1733.5 505.54 1734 503.58 1734.5 501.55 1735 499.47 1735.5 497.33 1736 495.14 1736.5 492.91 1737 490.64 1737.5 488.33 1738 486 1738.5 483.64 1739 481.26 1739.5 478.87 1740 476.47 1740.5 474.06 1741 471.66 1741.5 469.26 1742 466.87 1742.5 464.49 1743 462.14 1743.5 459.81 1744 457.51 1744.5 455.25 1745 453.02 1745.5 450.83 1746 448.67 1746.5 446.55 1747 444.47 1747.5 442.43 1748 440.43 1748.5 438.47 1749 436.54 1749.5 434.66 1750 432.82 1750.5 431.01 1751 429.25 1751.5 427.53 1752 425.85 1752.5 424.22 1753 422.62 1753.5 421.07 1754 419.55 1754.5 418.07 1755 416.63 1755.5 415.24 1756 413.87 1756.5 412.55 1757 411.26 1757.5 410.01 1758 408.79 1758.5 407.61 1759 406.46 1759.5 405.35 1760 404.27 1760.5 403.22 1761 402.2 1761.5 401.22 1762 400.27 1762.5 399.34 1763 398.45 1763.5 397.59 1764 396.75 1764.5 395.95 1765 395.17 1765.5 394.42 1766 393.7 1766.5 393 1767 392.33 1767.5 391.68 1768 391.06 1768.5 390.46 1769 389.89 1769.5 389.34 1770 388.81 1770.5 388.3 1771 387.81 1771.5 387.35 1772 386.9 1772.5 386.48 1773 386.07 1773.5 385.68 1774 385.31 1774.5 384.96 1775 384.63 1775.5 384.31 1776 384.01 1776.5 383.72 1777 383.45 1777.5 383.19 1778 382.94 1778.5 382.71 1779 382.49 1779.5 382.29 1780 382.09 1780.5 381.91 1781 381.74 1781.5 381.58 1782 381.44 1782.5 381.31 1783 381.19 1783.5 381.09 1784 381 1784.5 380.93 1785 380.87 1785.5 380.82 1786 380.79 1786.5 380.77 1787 380.77 1787.5 380.78 1788 380.81 1788.5 380.85 1789 380.91 1789.5 380.99 1790 381.08 1790.5 381.19 1791 381.31 1791.5 381.45 1792 381.61 1792.5 381.78 1793 381.98 1793.5 382.19 1794 382.41 1794.5 382.66 1795 382.92 1795.5 383.2 1796 383.5 1796.5 383.82 1797 384.16 1797.5 384.52 1798 384.89 1798.5 385.29 1799 385.7 1799.5 386.14 1800 386.59 1800.5 387.06 1801 387.55 1801.5 388.05 1802 388.58 1802.5 389.11 1803 389.66 1803.5 390.23 1804 390.81 1804.5 391.4 1805 392 1805.5 392.62 1806 393.24 1806.5 393.87 1807 394.52 1807.5 395.17 1808 395.83 1808.5 396.49 1809 397.16 1809.5 397.84 1810 398.52 1810.5 399.21 1811 399.9 1811.5 400.59 1812 401.28 1812.5 401.97 1813 402.67 1813.5 403.36 1814 404.06 1814.5 404.75 1815 405.44 1815.5 406.12 1816 406.81 1816.5 407.48 1817 408.16 1817.5 408.82 1818 409.48 1818.5 410.13 1819 410.78 1819.5 411.41 1820 412.04 1820.5 412.65 1821 413.26 1821.5 413.85 1822 414.43 1822.5 415 1823 415.55 1823.5 416.09 1824 416.62 1824.5 417.12 1825 417.62 1825.5 418.09 1826 418.54 1826.5 418.98 1827 419.4 1827.5 419.8 1828 420.17 1828.5 420.53 1829 420.86 1829.5 421.17 1830 421.46 1830.5 421.72 1831 421.95 1831.5 422.16 1832 422.35 1832.5 422.51 1833 422.64 1833.5 422.74 1834 422.83 1834.5 422.88 1835 422.91 1835.5 422.92 1836 422.9 1836.5 422.86 1837 422.79 1837.5 422.7 1838 422.59 1838.5 422.45 1839 422.29 1839.5 422.11 1840 421.9 1840.5 421.67 1841 421.42 1841.5 421.15 1842 420.85 1842.5 420.54 1843 420.2 1843.5 419.84 1844 419.46 1844.5 419.06 1845 418.64 1845.5 418.19 1846 417.73 1846.5 417.25 1847 416.75 1847.5 416.22 1848 415.68 1848.5 415.12 1849 414.55 1849.5 413.95 1850 413.33 1850.5 412.7 1851 412.05 1851.5 411.38 1852 410.69 1852.5 409.98 1853 409.26 1853.5 408.53 1854 407.78 1854.5 407.01 1855 406.23 1855.5 405.44 1856 404.64 1856.5 403.82 1857 403 1857.5 402.16 1858 401.31 1858.5 400.45 1859 399.59 1859.5 398.71 1860 397.83 1860.5 396.94 1861 396.05 1861.5 395.15 1862 394.24 1862.5 393.33 1863 392.41 1863.5 391.5 1864 390.58 1864.5 389.65 1865 388.73 1865.5 387.8 1866 386.88 1866.5 385.95 1867 385.03 1867.5 384.11 1868 383.19 1868.5 382.27 1869 381.35 1869.5 380.44 1870 379.54 1870.5 378.64 1871 377.74 1871.5 376.85 1872 375.97 1872.5 375.1 1873 374.23 1873.5 373.38 1874 372.53 1874.5 371.69 1875 370.87 1875.5 370.05 1876 369.25 1876.5 368.46 1877 367.68 1877.5 366.92 1878 366.17 1878.5 365.43 1879 364.71 1879.5 364.01 1880 363.33 1880.5 362.66 1881 362.01 1881.5 361.37 1882 360.76 1882.5 360.17 1883 359.6 1883.5 359.04 1884 358.51 1884.5 358 1885 357.52 1885.5 357.05 1886 356.6 1886.5 356.17 1887 355.75 1887.5 355.35 1888 354.97 1888.5 354.6 1889 354.25 1889.5 353.91 1890 353.58 1890.5 353.27 1891 352.96 1891.5 352.67 1892 352.39 1892.5 352.11 1893 351.85 1893.5 351.59 1894 351.33 1894.5 351.09 1895 350.84 1895.5 350.61 1896 350.37 1896.5 350.14 1897 349.91 1897.5 349.68 1898 349.45 1898.5 349.23 1899 349 1899.5 348.77 1900 348.53 1900.5 348.29 1901 348.05 1901.5 347.81 1902 347.55 1902.5 347.3 1903 347.03 1903.5 346.76" fill="none" stroke="#000" stroke-width="3.9" stroke-linejoin="round"/>
</g>
<text y="76.22" font-size="14.4" fill="#c81414"><tspan x="1683.4" font-style="italic">α</tspan><tspan>=0.05:</tspan><tspan x="1751.2" font-style="italic">t</tspan><tspan x="1760" dy="-5.6" font-size="10.5">*</tspan><tspan x="1768.9" dy="5.6">=3.048</tspan></text>
<rect x="1486.2" y="401.4" width="105.9" height="32.7" fill="#fff" fill-opacity="0.3" stroke="#000" stroke-opacity="0.4" stroke-width="1.4"/>
<line x1="1534" y1="79.62" x2="1903.5" y2="79.62" stroke="#000" stroke-width="2" stroke-dasharray="7.4 3.2"/>
<line x1="1534" y1="428.18" x2="1903.5" y2="428.18" stroke="#000" stroke-width="2" stroke-dasharray="7.4 3.2"/>
<text x="1494.5" y="422.7" font-size="18.2" text-anchor="start">p = 0.047</text>
<line x1="1534" y1="561.2" x2="1534" y2="567.5" stroke="#000" stroke-width="1.6"/>
<text x="1534" y="587.1" font-size="18" text-anchor="middle">0</text>
<line x1="1607.9" y1="561.2" x2="1607.9" y2="567.5" stroke="#000" stroke-width="1.6"/>
<text x="1607.9" y="587.1" font-size="18" text-anchor="middle">20</text>
<line x1="1681.8" y1="561.2" x2="1681.8" y2="567.5" stroke="#000" stroke-width="1.6"/>
<text x="1681.8" y="587.1" font-size="18" text-anchor="middle">40</text>
<line x1="1755.7" y1="561.2" x2="1755.7" y2="567.5" stroke="#000" stroke-width="1.6"/>
<text x="1755.7" y="587.1" font-size="18" text-anchor="middle">60</text>
<line x1="1829.6" y1="561.2" x2="1829.6" y2="567.5" stroke="#000" stroke-width="1.6"/>
<text x="1829.6" y="587.1" font-size="18" text-anchor="middle">80</text>
<line x1="1903.5" y1="561.2" x2="1903.5" y2="567.5" stroke="#000" stroke-width="1.6"/>
<text x="1903.5" y="587.1" font-size="18" text-anchor="middle">100</text>
<line x1="1527.7" y1="139.54" x2="1534" y2="139.54" stroke="#000" stroke-width="1.6"/>
<text x="1521.6" y="146.09" font-size="18" text-anchor="end">2</text>
<line x1="1527.7" y1="253.9" x2="1534" y2="253.9" stroke="#000" stroke-width="1.6"/>
<text x="1521.6" y="260.45" font-size="18" text-anchor="end">0</text>
<line x1="1527.7" y1="368.26" x2="1534" y2="368.26" stroke="#000" stroke-width="1.6"/>
<text x="1521.6" y="374.81" font-size="18" text-anchor="end">−2</text>
<line x1="1527.7" y1="482.62" x2="1534" y2="482.62" stroke="#000" stroke-width="1.6"/>
<text x="1521.6" y="489.17" font-size="18" text-anchor="end">−4</text>
<rect x="1534" y="33.5" width="369.5" height="527.7" fill="none" stroke="#000" stroke-width="1.6"/>
<text x="1718.75" y="612.2" font-size="18" text-anchor="middle">Time (%)</text>
<text x="1718.75" y="22.7" font-size="22" text-anchor="middle">Knee Flexion VC-OP</text>
<text x="0" y="0" font-size="29.2" text-anchor="middle" transform="translate(1481.9 300.75) rotate(-90)">SPM{t}</text>
<g clip-path="url(#cC1)">
<path d="M576.25 779.7L576.75 779.59 577.25 779.49 577.75 779.39 578.25 779.3 578.75 779.22 579.25 779.14 579.75 779.07 580.25 779.01 580.75 778.95 581.25 778.9 581.75 778.85 582.25 778.81 582.75 778.78 583.25 778.75 583.75 778.73 584.25 778.72 584.75 778.71 585.25 778.71 585.75 778.71 586.25 778.72 586.75 778.74 587.25 778.76 587.75 778.79 588.25 778.83 588.75 778.87 589.25 778.91 589.75 778.97 590.25 779.03 590.75 779.1 591.25 779.17 591.75 779.25 592.25 779.33 592.75 779.42 593.25 779.52 593.75 779.62 594.25 779.73 594.75 779.86 595.25 780.01 595.75 780.18 596.25 780.37 596.75 780.58 597.25 780.81 597.75 781.05 598.25 781.31 598.75 781.59 599.25 781.88 599.75 782.18 600.25 782.5 600.75 782.82 601.25 783.16 601.75 783.51 602.25 783.87 602.75 784.23 603.25 784.6 603.75 784.98 604.25 785.37 604.75 785.75 605.25 786.15 605.75 786.54 606.25 786.94 606.75 787.35 607.25 787.79 607.75 788.25 608.25 788.74 608.75 789.24 609.25 789.77 609.75 790.31 610.25 790.87 610.75 791.45 611.25 792.05 611.75 792.66 612.25 793.28 612.75 793.91 613.25 794.55 613.75 795.21 614.25 795.87 614.75 796.54 615.25 797.22 615.75 797.9 616.25 798.58 616.75 799.27 617.25 799.96 617.75 800.64 618.25 801.33 618.75 802.02 619.25 802.73 619.75 803.45 620.25 804.18 620.75 804.93 621.25 805.68 621.75 806.45 622.25 807.22 622.75 808.01 623.25 808.8 623.75 809.6 624.25 810.41 624.75 811.23 625.25 812.05 625.75 812.88 626.25 813.71 626.75 814.54 627.25 815.38 627.75 816.22 628.25 817.07 628.75 817.91 629.25 818.76 629.75 819.6 630.25 820.45 630.75 821.29 631.25 822.14 631.75 823 632.25 823.86 632.75 824.73 633.25 825.61 633.75 826.49 634.25 827.38 634.75 828.27 635.25 829.17 635.75 830.07 636.25 830.98 636.75 831.89 637.25 832.8 637.75 833.72 638.25 834.64 638.75 835.56 639.25 836.49 639.75 837.42 640.25 838.36 640.75 839.29 641.25 840.23 641.75 841.17 642.25 842.12 642.75 843.06 643.25 843.99 643.75 844.92 644.25 845.84 644.75 846.77 645.25 847.69 645.75 848.63 646.25 849.57 646.75 850.52 647.25 851.49 647.75 852.48 648.25 853.49 648.75 854.52 649.25 855.57 649.75 856.66 650.25 857.78 650.75 858.93 651.25 860.12 651.75 861.35 652.25 862.63 652.75 863.95 653.25 865.33 653.75 866.75 654.25 868.24 654.75 869.89 655.25 872.28 655.75 875.28 656.25 878.63 656.75 882.06 657.25 885.32 657.75 888.15 658.25 890.3 658.75 892.1 659.25 893.82 659.75 895.48 660.25 897.07 660.75 898.6 661.25 900.07 661.75 901.49 662.25 902.87 662.75 904.21 663.25 905.51 663.75 906.79 664.25 908.04 664.75 909.27 665.25 910.48 665.75 911.69 666.25 912.89 666.75 914.09 667.25 915.29 667.75 916.49 668.25 917.68 668.75 918.86 669.25 920.03 669.75 921.19 670.25 922.34 670.75 923.48 671.25 924.6 671.75 925.7 672.25 926.78 672.75 927.84 673.25 928.89 673.75 929.9 674.25 930.9 674.75 931.86 675.25 932.81 675.75 933.74 676.25 934.65 676.75 935.55 677.25 936.43 677.75 937.31 678.25 938.17 678.75 939.03 679.25 939.88 679.75 940.73 680.25 941.58 680.75 942.42 681.25 943.27 681.75 944.12 682.25 944.98 682.75 945.84 683.25 946.71 683.75 947.59 684.25 948.47 684.75 949.36 685.25 950.26 685.75 951.15 686.25 952.05 686.75 952.95 687.25 953.84 687.75 954.73 688.25 955.62 688.75 956.51 689.25 957.38 689.75 958.25 690.25 959.11 690.75 959.95 691.25 960.79 691.75 961.61 692.25 962.42 692.75 963.22 693.25 964.01 693.75 964.79 694.25 965.57 694.75 966.33 695.25 967.09 695.75 967.85 696.25 968.59 696.75 969.34 697.25 970.07 697.75 970.81 698.25 971.53 698.75 972.26 699.25 972.98 699.75 973.7 700.25 974.42 700.75 975.13 701.25 975.84 701.75 976.55 702.25 977.25 702.75 977.94 703.25 978.64 703.75 979.33 704.25 980.01 704.75 980.7 705.25 981.38 705.75 982.06 706.25 982.74 706.75 983.42 707.25 984.1 707.75 984.78 708.25 985.46 708.75 986.14 709.25 986.83 709.75 987.51 710.25 988.21 710.75 988.9 711.25 989.59 711.75 990.29 712.25 990.99 712.75 991.69 713.25 992.38 713.75 993.08 714.25 993.77 714.75 994.46 715.25 995.15 715.75 995.84 716.25 996.52 716.75 997.19 717.25 997.86 717.75 998.52 718.25 999.18 718.75 999.83 719.25 1000.48 719.75 1001.11 720.25 1001.75 720.75 1002.38 721.25 1003 721.75 1003.63 722.25 1004.25 722.75 1004.87 723.25 1005.48 723.75 1006.1 724.25 1006.71 724.75 1007.33 725.25 1007.95 725.75 1008.57 726.25 1009.19 726.75 1009.81 727.25 1010.43 727.75 1011.06 728.25 1011.68 728.75 1012.29 729.25 1012.91 729.75 1013.52 730.25 1014.14 730.75 1014.76 731.25 1015.37 731.75 1015.99 732.25 1016.61 732.75 1017.24 733.25 1017.86 733.75 1018.5 734.25 1019.13 734.75 1019.77 735.25 1020.42 735.75 1021.07 736.25 1021.74 736.75 1022.44 737.25 1023.15 737.75 1023.87 738.25 1024.61 738.75 1025.37 739.25 1026.12 739.75 1026.89 740.25 1027.66 740.75 1028.42 741.25 1029.19 741.75 1029.95 742.25 1030.7 742.75 1031.45 743.25 1032.18 743.75 1032.89 744.25 1033.59 744.75 1034.27 745.25 1034.92 745.75 1035.55 746.25 1036.15 746.75 1036.72 747.25 1037.26 747.75 1037.76 748.25 1038.23 748.75 1038.69 749.25 1039.14 749.75 1039.58 750.25 1040.01 750.75 1040.44 751.25 1040.86 751.75 1041.27 752.25 1041.67 752.75 1042.07 753.25 1042.45 753.75 1042.84 754.25 1043.21 754.75 1043.58 755.25 1043.94 755.75 1044.3 756.25 1044.65 756.75 1045 757.25 1045.34 757.75 1045.67 758.25 1046.01 758.75 1046.33 759.25 1046.65 759.75 1046.97 760.25 1047.29 760.75 1047.6 761.25 1047.91 761.75 1048.21 762.25 1048.51 762.75 1048.81 763.25 1049.11 763.75 1049.4 764.25 1049.69 764.75 1049.98 765.25 1050.27 765.75 1050.56 766.25 1050.84 766.75 1051.13 767.25 1051.41 767.75 1051.7 768.25 1051.99 768.75 1052.28 769.25 1052.58 769.75 1052.87 770.25 1053.17 770.75 1053.47 771.25 1053.77 771.75 1054.07 772.25 1054.37 772.75 1054.67 773.25 1054.96 773.75 1055.25 774.25 1055.54 774.75 1055.82 775.25 1056.1 775.75 1056.38 776.25 1056.64 776.75 1056.9 777.25 1057.15 777.75 1057.4 778.25 1057.63 778.75 1057.86 779.25 1058.07 779.75 1058.28 780.25 1058.47 780.75 1058.65 781.25 1058.82 781.75 1058.98 782.25 1059.12 782.75 1059.24 783.25 1059.35 783.75 1059.43 784.25 1059.47 784.75 1059.48 785.25 1059.45 785.75 1059.4 786.25 1059.32 786.75 1059.22 787.25 1059.09 787.75 1058.93 788.25 1058.76 788.75 1058.57 789.25 1058.36 789.75 1058.13 790.25 1057.89 790.75 1057.64 791.25 1057.38 791.75 1057.1 792.25 1056.82 792.75 1056.54 793.25 1056.25 793.75 1055.96 794.25 1055.66 794.75 1055.37 795.25 1055.06 795.75 1054.7 796.25 1054.31 796.75 1053.89 797.25 1053.43 797.75 1052.94 798.25 1052.42 798.75 1051.88 799.25 1051.31 799.75 1050.72 800.25 1050.11 800.75 1049.48 801.25 1048.83 801.75 1048.17 802.25 1047.49 802.75 1046.81 803.25 1046.11 803.75 1045.41 804.25 1044.7 804.75 1043.99 805.25 1043.28 805.75 1042.58 806.25 1041.87 806.75 1041.16 807.25 1040.42 807.75 1039.66 808.25 1038.87 808.75 1038.07 809.25 1037.24 809.75 1036.39 810.25 1035.52 810.75 1034.64 811.25 1033.73 811.75 1032.81 812.25 1031.88 812.75 1030.93 813.25 1029.96 813.75 1028.99 814.25 1028 814.75 1027 815.25 1025.99 815.75 1024.97 816.25 1023.94 816.75 1022.91 817.25 1021.87 817.75 1020.82 818.25 1019.77 818.75 1018.69 819.25 1017.58 819.75 1016.44 820.25 1015.27 820.75 1014.07 821.25 1012.85 821.75 1011.6 822.25 1010.33 822.75 1009.03 823.25 1007.72 823.75 1006.39 824.25 1005.03 824.75 1003.66 825.25 1002.28 825.75 1000.88 826.25 999.46 826.75 998.03 827.25 996.59 827.75 995.15 828.25 993.67 828.75 992.16 829.25 990.6 829.75 989 830.25 987.35 830.75 985.67 831.25 983.95 831.75 982.18 832.25 980.38 832.75 978.55 833.25 976.67 833.75 974.76 834.25 972.81 834.75 970.83 835.25 968.82 835.75 966.76 836.25 964.55 836.75 962.19 837.25 959.72 837.75 957.15 838.25 954.5 838.75 951.79 839.25 949.05 839.75 946.3 840.25 943.56 840.75 940.85 841.25 938.19 841.75 935.61 842.25 933.12 842.75 930.75 843.25 928.53 843.75 926.46 844.25 924.58 844.75 922.84 845.25 921.18 845.75 919.58 846.25 918.03 846.75 916.54 847.25 915.1 847.75 913.69 848.25 912.32 848.75 910.98 849.25 909.65 849.75 908.35 850.25 907.05 850.75 905.76 851.25 904.47 851.75 903.17 852.25 901.86 852.75 900.53 853.25 899.17 853.75 897.78 854.25 896.39 854.75 895 855.25 893.61 855.75 892.22 856.25 890.83 856.75 889.45 857.25 888.06 857.75 886.68 858.25 885.3 858.75 883.91 859.25 882.53 859.75 881.14 860.25 879.76 860.75 878.37 861.25 876.98 861.75 875.59 862.25 874.19 862.75 872.8 863.25 871.4 863.75 869.99 864.25 868.58 864.75 867.17 865.25 865.75 865.75 864.32 866.25 862.9 866.75 861.47 867.25 860.05 867.75 858.62 868.25 857.2 868.75 855.78 869.25 854.37 869.75 852.96 870.25 851.56 870.75 850.16 871.25 848.78 871.75 847.4 872.25 846.04 872.75 844.67 873.25 843.3 873.75 841.91 874.25 840.52 874.75 839.13 875.25 837.74 875.75 836.36 876.25 834.99 876.75 833.62 877.25 832.27 877.75 830.94 878.25 829.62 878.75 828.34 879.25 827.07 879.75 825.84 880.25 824.64 880.75 823.48 881.25 822.36 881.75 821.28 882.25 820.22 882.75 819.16 883.25 818.12 883.75 817.09 884.25 816.08 884.75 815.09 885.25 814.11 885.75 813.16 886.25 812.22 886.75 811.31 887.25 810.43 887.75 809.57 888.25 808.75 888.75 807.95 889.25 807.19 889.75 806.46 890.25 805.77 890.75 805.11 891.25 804.49 891.75 803.89 892.25 803.29 892.75 802.7 893.25 802.13 893.75 801.56 894.25 801.01 894.75 800.47 895.25 799.94 895.75 799.43 896.25 798.93 896.75 798.45 897.25 797.98 897.75 797.53 898.25 797.09 898.75 796.68 899.25 796.28 899.75 795.9 900.25 795.54 900.75 795.21 901.25 794.94 901.75 794.7 902.25 794.49 902.75 794.3 903.25 794.12 903.75 793.92 904.25 793.7 904.75 793.46 905.25 793.16 905.75 792.82 906.25 792.41 906.75 791.94 907.25 791.43 907.75 790.88 908.25 790.29 908.75 789.69 909.25 789.06 909.75 788.43 910.25 787.8 910.75 787.18 911.25 786.57 911.75 785.98 912.25 785.43 912.75 784.91 913.25 784.43 913.75 784 914.25 783.57 914.75 783.15 915.25 782.74 915.75 782.33 916.25 781.93 916.75 781.53 917.25 781.15 917.75 780.78 918.25 780.41 918.75 780.06 919.25 779.71 919.75 779.38 920.25 779.06 920.75 778.76 921.25 778.46 921.75 778.19 922.25 777.92 922.75 777.68 923.25 777.43 923.75 777.19 924.25 776.95 924.75 776.72 925.25 776.48 925.75 776.25 926.25 776.03 926.75 775.8 927.25 775.59 927.75 775.38 928.25 775.18 928.75 774.99 929.25 774.81 929.75 774.64 930.25 774.48 930.75 774.33 931.25 774.2 931.75 774.08 932.25 773.97 932.75 773.86 933.25 773.76 933.75 773.66 934.25 773.55 934.75 773.45 935.25 773.35 935.75 773.25 936.25 773.15 936.75 773.05 937.25 772.96 937.75 772.87 938.25 772.78 938.75 772.69 939.25 772.61 939.75 772.53 940.25 772.46 940.75 772.39 941.25 772.33 941.75 772.26 942.25 772.21 942.75 772.16 943.25 772.12 943.75 772.08 944.25 772.05 944.75 772.02 945.25 772.01 945.5 772L945.5 890.5 945.25 890.53 944.75 890.6 944.25 890.69 943.75 890.8 943.25 890.94 942.75 891.1 942.25 891.27 941.75 891.46 941.25 891.67 940.75 891.89 940.25 892.12 939.75 892.36 939.25 892.62 938.75 892.88 938.25 893.14 937.75 893.42 937.25 893.69 936.75 893.97 936.25 894.25 935.75 894.53 935.25 894.83 934.75 895.16 934.25 895.52 933.75 895.92 933.25 896.34 932.75 896.79 932.25 897.26 931.75 897.75 931.25 898.27 930.75 898.8 930.25 899.35 929.75 899.91 929.25 900.49 928.75 901.07 928.25 901.67 927.75 902.27 927.25 902.88 926.75 903.49 926.25 904.11 925.75 904.76 925.25 905.45 924.75 906.17 924.25 906.92 923.75 907.71 923.25 908.52 922.75 909.37 922.25 910.24 921.75 911.14 921.25 912.07 920.75 913.02 920.25 914 919.75 915 919.25 916.01 918.75 917.05 918.25 918.11 917.75 919.18 917.25 920.27 916.75 921.38 916.25 922.55 915.75 923.76 915.25 925.02 914.75 926.32 914.25 927.65 913.75 929.01 913.25 930.4 912.75 931.81 912.25 933.24 911.75 934.68 911.25 936.13 910.75 937.59 910.25 939.04 909.75 940.49 909.25 941.92 908.75 943.35 908.25 944.75 907.75 946.14 907.25 947.52 906.75 948.9 906.25 950.3 905.75 951.69 905.25 953.09 904.75 954.49 904.25 955.88 903.75 957.26 903.25 958.63 902.75 959.99 902.25 961.33 901.75 962.66 901.25 963.96 900.75 965.24 900.25 966.5 899.75 967.75 899.25 968.99 898.75 970.23 898.25 971.47 897.75 972.72 897.25 973.99 896.75 975.27 896.25 976.57 895.75 977.9 895.25 979.25 894.75 980.6 894.25 981.97 893.75 983.34 893.25 984.72 892.75 986.11 892.25 987.51 891.75 988.92 891.25 990.33 890.75 991.74 890.25 993.17 889.75 994.59 889.25 996.02 888.75 997.46 888.25 998.89 887.75 1000.33 887.25 1001.77 886.75 1003.21 886.25 1004.66 885.75 1006.1 885.25 1007.54 884.75 1008.97 884.25 1010.41 883.75 1011.85 883.25 1013.29 882.75 1014.73 882.25 1016.18 881.75 1017.64 881.25 1019.1 880.75 1020.58 880.25 1022.06 879.75 1023.56 879.25 1025.07 878.75 1026.59 878.25 1028.13 877.75 1029.69 877.25 1031.27 876.75 1032.87 876.25 1034.49 875.75 1036.16 875.25 1037.89 874.75 1039.67 874.25 1041.49 873.75 1043.35 873.25 1045.23 872.75 1047.13 872.25 1049.05 871.75 1050.97 871.25 1052.88 870.75 1054.79 870.25 1056.68 869.75 1058.55 869.25 1060.39 868.75 1062.19 868.25 1063.94 867.75 1065.64 867.25 1067.28 866.75 1068.85 866.25 1070.35 865.75 1071.81 865.25 1073.21 864.75 1074.58 864.25 1075.91 863.75 1077.2 863.25 1078.47 862.75 1079.73 862.25 1080.96 861.75 1082.18 861.25 1083.4 860.75 1084.62 860.25 1085.85 859.75 1087.08 859.25 1088.34 858.75 1089.61 858.25 1090.91 857.75 1092.24 857.25 1093.6 856.75 1095.01 856.25 1096.45 855.75 1097.91 855.25 1099.4 854.75 1100.91 854.25 1102.44 853.75 1103.97 853.25 1105.52 852.75 1107.07 852.25 1108.62 851.75 1110.17 851.25 1111.71 850.75 1113.24 850.25 1114.76 849.75 1116.26 849.25 1117.74 848.75 1119.19 848.25 1120.62 847.75 1122.01 847.25 1123.37 846.75 1124.69 846.25 1126 845.75 1127.28 845.25 1128.55 844.75 1129.81 844.25 1131.05 843.75 1132.27 843.25 1133.48 842.75 1134.69 842.25 1135.88 841.75 1137.06 841.25 1138.24 840.75 1139.4 840.25 1140.57 839.75 1141.72 839.25 1142.88 838.75 1144.03 838.25 1145.18 837.75 1146.33 837.25 1147.48 836.75 1148.65 836.25 1149.84 835.75 1151.04 835.25 1152.25 834.75 1153.46 834.25 1154.67 833.75 1155.88 833.25 1157.08 832.75 1158.26 832.25 1159.43 831.75 1160.57 831.25 1161.69 830.75 1162.77 830.25 1163.82 829.75 1164.83 829.25 1165.8 828.75 1166.71 828.25 1167.57 827.75 1168.38 827.25 1169.15 826.75 1169.89 826.25 1170.62 825.75 1171.33 825.25 1172.01 824.75 1172.68 824.25 1173.33 823.75 1173.96 823.25 1174.58 822.75 1175.17 822.25 1175.75 821.75 1176.31 821.25 1176.86 820.75 1177.38 820.25 1177.9 819.75 1178.39 819.25 1178.87 818.75 1179.33 818.25 1179.78 817.75 1180.22 817.25 1180.66 816.75 1181.1 816.25 1181.54 815.75 1181.99 815.25 1182.43 814.75 1182.87 814.25 1183.31 813.75 1183.74 813.25 1184.17 812.75 1184.59 812.25 1185 811.75 1185.4 811.25 1185.79 810.75 1186.16 810.25 1186.52 809.75 1186.87 809.25 1187.19 808.75 1187.5 808.25 1187.79 807.75 1188.06 807.25 1188.3 806.75 1188.52 806.25 1188.72 805.75 1188.9 805.25 1189.08 804.75 1189.26 804.25 1189.43 803.75 1189.59 803.25 1189.75 802.75 1189.9 802.25 1190.04 801.75 1190.18 801.25 1190.3 800.75 1190.42 800.25 1190.52 799.75 1190.61 799.25 1190.69 798.75 1190.76 798.25 1190.81 797.75 1190.85 797.25 1190.87 796.75 1190.87 796.25 1190.86 795.75 1190.83 795.25 1190.78 794.75 1190.71 794.25 1190.62 793.75 1190.52 793.25 1190.41 792.75 1190.28 792.25 1190.14 791.75 1189.99 791.25 1189.83 790.75 1189.66 790.25 1189.48 789.75 1189.29 789.25 1189.09 788.75 1188.89 788.25 1188.67 787.75 1188.45 787.25 1188.22 786.75 1187.98 786.25 1187.74 785.75 1187.49 785.25 1187.24 784.75 1186.98 784.25 1186.72 783.75 1186.45 783.25 1186.18 782.75 1185.91 782.25 1185.64 781.75 1185.36 781.25 1185.09 780.75 1184.81 780.25 1184.53 779.75 1184.26 779.25 1183.98 778.75 1183.71 778.25 1183.42 777.75 1183.14 777.25 1182.85 776.75 1182.55 776.25 1182.25 775.75 1181.94 775.25 1181.63 774.75 1181.31 774.25 1180.99 773.75 1180.66 773.25 1180.33 772.75 1180 772.25 1179.66 771.75 1179.32 771.25 1178.97 770.75 1178.62 770.25 1178.27 769.75 1177.91 769.25 1177.55 768.75 1177.19 768.25 1176.82 767.75 1176.46 767.25 1176.09 766.75 1175.71 766.25 1175.34 765.75 1174.96 765.25 1174.58 764.75 1174.2 764.25 1173.82 763.75 1173.43 763.25 1173.05 762.75 1172.66 762.25 1172.27 761.75 1171.88 761.25 1171.49 760.75 1171.1 760.25 1170.71 759.75 1170.32 759.25 1169.92 758.75 1169.53 758.25 1169.13 757.75 1168.72 757.25 1168.31 756.75 1167.9 756.25 1167.49 755.75 1167.07 755.25 1166.65 754.75 1166.22 754.25 1165.79 753.75 1165.36 753.25 1164.92 752.75 1164.49 752.25 1164.04 751.75 1163.6 751.25 1163.15 750.75 1162.7 750.25 1162.25 749.75 1161.8 749.25 1161.34 748.75 1160.88 748.25 1160.42 747.75 1159.95 747.25 1159.48 746.75 1159.01 746.25 1158.54 745.75 1158.07 745.25 1157.59 744.75 1157.12 744.25 1156.64 743.75 1156.16 743.25 1155.68 742.75 1155.19 742.25 1154.71 741.75 1154.22 741.25 1153.73 740.75 1153.24 740.25 1152.75 739.75 1152.26 739.25 1151.76 738.75 1151.26 738.25 1150.75 737.75 1150.25 737.25 1149.74 736.75 1149.22 736.25 1148.71 735.75 1148.18 735.25 1147.66 734.75 1147.13 734.25 1146.6 733.75 1146.07 733.25 1145.54 732.75 1145 732.25 1144.46 731.75 1143.91 731.25 1143.37 730.75 1142.82 730.25 1142.26 729.75 1141.71 729.25 1141.15 728.75 1140.59 728.25 1140.03 727.75 1139.47 727.25 1138.9 726.75 1138.33 726.25 1137.76 725.75 1137.19 725.25 1136.61 724.75 1136.04 724.25 1135.46 723.75 1134.88 723.25 1134.3 722.75 1133.71 722.25 1133.13 721.75 1132.54 721.25 1131.95 720.75 1131.36 720.25 1130.77 719.75 1130.17 719.25 1129.57 718.75 1128.97 718.25 1128.36 717.75 1127.75 717.25 1127.14 716.75 1126.52 716.25 1125.9 715.75 1125.28 715.25 1124.66 714.75 1124.03 714.25 1123.4 713.75 1122.76 713.25 1122.12 712.75 1121.48 712.25 1120.84 711.75 1120.19 711.25 1119.55 710.75 1118.89 710.25 1118.24 709.75 1117.58 709.25 1116.93 708.75 1116.26 708.25 1115.6 707.75 1114.93 707.25 1114.26 706.75 1113.59 706.25 1112.92 705.75 1112.24 705.25 1111.57 704.75 1110.89 704.25 1110.2 703.75 1109.52 703.25 1108.83 702.75 1108.15 702.25 1107.46 701.75 1106.76 701.25 1106.07 700.75 1105.37 700.25 1104.67 699.75 1103.97 699.25 1103.26 698.75 1102.55 698.25 1101.83 697.75 1101.11 697.25 1100.39 696.75 1099.66 696.25 1098.94 695.75 1098.2 695.25 1097.47 694.75 1096.73 694.25 1095.99 693.75 1095.24 693.25 1094.5 692.75 1093.75 692.25 1092.99 691.75 1092.24 691.25 1091.48 690.75 1090.72 690.25 1089.96 689.75 1089.19 689.25 1088.43 688.75 1087.66 688.25 1086.89 687.75 1086.11 687.25 1085.34 686.75 1084.56 686.25 1083.78 685.75 1083 685.25 1082.22 684.75 1081.44 684.25 1080.66 683.75 1079.87 683.25 1079.09 682.75 1078.3 682.25 1077.51 681.75 1076.72 681.25 1075.93 680.75 1075.13 680.25 1074.32 679.75 1073.51 679.25 1072.69 678.75 1071.87 678.25 1071.05 677.75 1070.22 677.25 1069.38 676.75 1068.54 676.25 1067.7 675.75 1066.86 675.25 1066.02 674.75 1065.17 674.25 1064.32 673.75 1063.48 673.25 1062.63 672.75 1061.78 672.25 1060.93 671.75 1060.08 671.25 1059.23 670.75 1058.38 670.25 1057.54 669.75 1056.7 669.25 1055.86 668.75 1055.02 668.25 1054.19 667.75 1053.36 667.25 1052.53 666.75 1051.71 666.25 1050.89 665.75 1050.08 665.25 1049.27 664.75 1048.47 664.25 1047.68 663.75 1046.89 663.25 1046.11 662.75 1045.33 662.25 1044.55 661.75 1043.78 661.25 1043.01 660.75 1042.25 660.25 1041.49 659.75 1040.73 659.25 1039.98 658.75 1039.22 658.25 1038.47 657.75 1037.72 657.25 1036.97 656.75 1036.23 656.25 1035.48 655.75 1034.74 655.25 1033.99 654.75 1033.25 654.25 1032.51 653.75 1031.76 653.25 1031.02 652.75 1030.28 652.25 1029.53 651.75 1028.79 651.25 1028.04 650.75 1027.29 650.25 1026.54 649.75 1025.79 649.25 1025.03 648.75 1024.28 648.25 1023.52 647.75 1022.75 647.25 1021.99 646.75 1021.22 646.25 1020.46 645.75 1019.7 645.25 1018.94 644.75 1018.18 644.25 1017.44 643.75 1016.7 643.25 1015.96 642.75 1015.23 642.25 1014.51 641.75 1013.78 641.25 1013.06 640.75 1012.33 640.25 1011.6 639.75 1010.86 639.25 1010.12 638.75 1009.36 638.25 1008.6 637.75 1007.82 637.25 1007.03 636.75 1006.23 636.25 1005.41 635.75 1004.54 635.25 1003.63 634.75 1002.69 634.25 1001.72 633.75 1000.73 633.25 999.75 632.75 998.76 632.25 997.79 631.75 996.85 631.25 995.94 630.75 995.07 630.25 994.26 629.75 993.48 629.25 992.71 628.75 991.96 628.25 991.22 627.75 990.5 627.25 989.79 626.75 989.09 626.25 988.4 625.75 987.71 625.25 987.03 624.75 986.36 624.25 985.7 623.75 985.03 623.25 984.37 622.75 983.7 622.25 983.04 621.75 982.37 621.25 981.7 620.75 981.03 620.25 980.34 619.75 979.65 619.25 978.96 618.75 978.25 618.25 977.53 617.75 976.8 617.25 976.08 616.75 975.35 616.25 974.62 615.75 973.89 615.25 973.16 614.75 972.43 614.25 971.7 613.75 970.96 613.25 970.22 612.75 969.48 612.25 968.74 611.75 968 611.25 967.25 610.75 966.5 610.25 965.74 609.75 964.99 609.25 964.23 608.75 963.46 608.25 962.69 607.75 961.92 607.25 961.14 606.75 960.36 606.25 959.58 605.75 958.77 605.25 957.93 604.75 957.05 604.25 956.13 603.75 955.2 603.25 954.24 602.75 953.27 602.25 952.28 601.75 951.29 601.25 950.3 600.75 949.32 600.25 948.34 599.75 947.38 599.25 946.43 598.75 945.51 598.25 944.62 597.75 943.77 597.25 942.95 596.75 942.17 596.25 941.45 595.75 940.78 595.25 940.16 594.75 939.61 594.25 939.13 593.75 938.72 593.25 938.36 592.75 938.04 592.25 937.75 591.75 937.49 591.25 937.25 590.75 937.02 590.25 936.79 589.75 936.56 589.25 936.3 588.75 936.03 588.25 935.74 587.75 935.44 587.25 935.15 586.75 934.86 586.25 934.57 585.75 934.28 585.25 933.98 584.75 933.68 584.25 933.38 583.75 933.08 583.25 932.77 582.75 932.46 582.25 932.14 581.75 931.82 581.25 931.49 580.75 931.16 580.25 930.82 579.75 930.48 579.25 930.14 578.75 929.79 578.25 929.44 577.75 929.08 577.25 928.72 576.75 928.36 576.25 928Z" fill="#808080" fill-opacity="0.5"/>
<path d="M576.25 734L576.75 735.25 577.25 736.29 577.75 737.19 578.25 738.08 578.75 738.95 579.25 739.81 579.75 740.67 580.25 741.51 580.75 742.34 581.25 743.17 581.75 743.98 582.25 744.79 582.75 745.59 583.25 746.38 583.75 747.17 584.25 747.95 584.75 748.73 585.25 749.5 585.75 750.26 586.25 751.02 586.75 751.78 587.25 752.53 587.75 753.28 588.25 754.03 588.75 754.78 589.25 755.53 589.75 756.27 590.25 757.02 590.75 757.76 591.25 758.51 591.75 759.26 592.25 760 592.75 760.76 593.25 761.51 593.75 762.27 594.25 763.03 594.75 763.79 595.25 764.54 595.75 765.29 596.25 766.04 596.75 766.78 597.25 767.52 597.75 768.26 598.25 768.99 598.75 769.73 599.25 770.46 599.75 771.19 600.25 771.92 600.75 772.64 601.25 773.37 601.75 774.09 602.25 774.82 602.75 775.55 603.25 776.27 603.75 777 604.25 777.73 604.75 778.45 605.25 779.18 605.75 779.92 606.25 780.65 606.75 781.39 607.25 782.13 607.75 782.87 608.25 783.61 608.75 784.36 609.25 785.11 609.75 785.87 610.25 786.63 610.75 787.4 611.25 788.17 611.75 788.94 612.25 789.72 612.75 790.51 613.25 791.3 613.75 792.1 614.25 792.91 614.75 793.72 615.25 794.55 615.75 795.37 616.25 796.21 616.75 797.05 617.25 797.9 617.75 798.75 618.25 799.61 618.75 800.47 619.25 801.34 619.75 802.21 620.25 803.08 620.75 803.95 621.25 804.83 621.75 805.71 622.25 806.59 622.75 807.47 623.25 808.35 623.75 809.23 624.25 810.11 624.75 810.99 625.25 811.86 625.75 812.74 626.25 813.61 626.75 814.48 627.25 815.35 627.75 816.21 628.25 817.07 628.75 817.92 629.25 818.77 629.75 819.61 630.25 820.45 630.75 821.28 631.25 822.13 631.75 822.98 632.25 823.84 632.75 824.7 633.25 825.57 633.75 826.43 634.25 827.3 634.75 828.17 635.25 829.03 635.75 829.88 636.25 830.73 636.75 831.58 637.25 832.41 637.75 833.23 638.25 834.03 638.75 834.83 639.25 835.6 639.75 836.36 640.25 837.1 640.75 837.81 641.25 838.5 641.75 839.17 642.25 839.81 642.75 840.43 643.25 841.04 643.75 841.63 644.25 842.21 644.75 842.79 645.25 843.35 645.75 843.9 646.25 844.44 646.75 844.97 647.25 845.5 647.75 846.01 648.25 846.51 648.75 847.01 649.25 847.49 649.75 847.97 650.25 848.44 650.75 848.9 651.25 849.35 651.75 849.79 652.25 850.23 652.75 850.66 653.25 851.08 653.75 851.49 654.25 851.9 654.75 852.3 655.25 852.7 655.75 853.1 656.25 853.5 656.75 853.89 657.25 854.29 657.75 854.68 658.25 855.07 658.75 855.46 659.25 855.84 659.75 856.23 660.25 856.61 660.75 856.99 661.25 857.37 661.75 857.74 662.25 858.11 662.75 858.48 663.25 858.84 663.75 859.2 664.25 859.56 664.75 859.92 665.25 860.27 665.75 860.61 666.25 860.95 666.75 861.29 667.25 861.62 667.75 861.95 668.25 862.28 668.75 862.6 669.25 862.91 669.75 863.22 670.25 863.52 670.75 863.82 671.25 864.11 671.75 864.4 672.25 864.69 672.75 864.98 673.25 865.28 673.75 865.57 674.25 865.86 674.75 866.15 675.25 866.44 675.75 866.74 676.25 867.03 676.75 867.32 677.25 867.6 677.75 867.89 678.25 868.18 678.75 868.46 679.25 868.74 679.75 869.01 680.25 869.29 680.75 869.56 681.25 869.82 681.75 870.09 682.25 870.34 682.75 870.6 683.25 870.85 683.75 871.09 684.25 871.33 684.75 871.56 685.25 871.79 685.75 872.01 686.25 872.22 686.75 872.43 687.25 872.63 687.75 872.82 688.25 873.01 688.75 873.19 689.25 873.36 689.75 873.52 690.25 873.67 690.75 873.81 691.25 873.95 691.75 874.09 692.25 874.23 692.75 874.36 693.25 874.49 693.75 874.62 694.25 874.75 694.75 874.88 695.25 875 695.75 875.12 696.25 875.24 696.75 875.36 697.25 875.47 697.75 875.59 698.25 875.7 698.75 875.81 699.25 875.91 699.75 876.02 700.25 876.12 700.75 876.22 701.25 876.31 701.75 876.4 702.25 876.5 702.75 876.58 703.25 876.67 703.75 876.75 704.25 876.83 704.75 876.9 705.25 876.98 705.75 877.04 706.25 877.11 706.75 877.17 707.25 877.23 707.75 877.29 708.25 877.34 708.75 877.39 709.25 877.44 709.75 877.48 710.25 877.52 710.75 877.54 711.25 877.55 711.75 877.55 712.25 877.53 712.75 877.5 713.25 877.46 713.75 877.42 714.25 877.36 714.75 877.3 715.25 877.23 715.75 877.16 716.25 877.08 716.75 877 717.25 876.92 717.75 876.84 718.25 876.76 718.75 876.68 719.25 876.6 719.75 876.52 720.25 876.45 720.75 876.39 721.25 876.33 721.75 876.28 722.25 876.24 722.75 876.21 723.25 876.19 723.75 876.19 724.25 876.19 724.75 876.21 725.25 876.27 725.75 876.37 726.25 876.5 726.75 876.66 727.25 876.85 727.75 877.07 728.25 877.32 728.75 877.59 729.25 877.88 729.75 878.2 730.25 878.53 730.75 878.88 731.25 879.24 731.75 879.62 732.25 880.01 732.75 880.4 733.25 880.8 733.75 881.21 734.25 881.61 734.75 882.02 735.25 882.43 735.75 882.83 736.25 883.23 736.75 883.62 737.25 884.04 737.75 884.51 738.25 885.02 738.75 885.57 739.25 886.15 739.75 886.76 740.25 887.4 740.75 888.06 741.25 888.74 741.75 889.44 742.25 890.16 742.75 890.91 743.25 891.69 743.75 892.51 744.25 893.36 744.75 894.24 745.25 895.14 745.75 896.07 746.25 897.02 746.75 897.99 747.25 898.98 747.75 899.98 748.25 900.99 748.75 902.02 749.25 903.04 749.75 904.07 750.25 905.1 750.75 906.13 751.25 907.17 751.75 908.22 752.25 909.28 752.75 910.36 753.25 911.46 753.75 912.57 754.25 913.69 754.75 914.82 755.25 915.95 755.75 917.1 756.25 918.25 756.75 919.4 757.25 920.56 757.75 921.72 758.25 922.88 758.75 924.05 759.25 925.2 759.75 926.36 760.25 927.54 760.75 928.73 761.25 929.95 761.75 931.17 762.25 932.41 762.75 933.66 763.25 934.9 763.75 936.14 764.25 937.38 764.75 938.61 765.25 939.82 765.75 941.02 766.25 942.19 766.75 943.34 767.25 944.46 767.75 945.54 768.25 946.59 768.75 947.61 769.25 948.63 769.75 949.64 770.25 950.64 770.75 951.63 771.25 952.6 771.75 953.56 772.25 954.5 772.75 955.42 773.25 956.31 773.75 957.18 774.25 958.01 774.75 958.81 775.25 959.58 775.75 960.3 776.25 960.99 776.75 961.63 777.25 962.23 777.75 962.81 778.25 963.38 778.75 963.93 779.25 964.47 779.75 964.99 780.25 965.5 780.75 965.99 781.25 966.47 781.75 966.93 782.25 967.37 782.75 967.8 783.25 968.21 783.75 968.6 784.25 968.97 784.75 969.33 785.25 969.67 785.75 970.02 786.25 970.37 786.75 970.72 787.25 971.05 787.75 971.36 788.25 971.63 788.75 971.86 789.25 972.04 789.75 972.17 790.25 972.22 790.75 972.23 791.25 972.2 791.75 972.13 792.25 972.03 792.75 971.89 793.25 971.72 793.75 971.53 794.25 971.3 794.75 971.05 795.25 970.78 795.75 970.49 796.25 970.18 796.75 969.85 797.25 969.52 797.75 969.16 798.25 968.8 798.75 968.44 799.25 968.06 799.75 967.69 800.25 967.31 800.75 966.94 801.25 966.57 801.75 966.18 802.25 965.77 802.75 965.33 803.25 964.86 803.75 964.37 804.25 963.85 804.75 963.31 805.25 962.75 805.75 962.17 806.25 961.57 806.75 960.96 807.25 960.32 807.75 959.68 808.25 959.02 808.75 958.35 809.25 957.67 809.75 956.98 810.25 956.28 810.75 955.58 811.25 954.87 811.75 954.15 812.25 953.44 812.75 952.72 813.25 952 813.75 951.29 814.25 950.57 814.75 949.82 815.25 949.06 815.75 948.27 816.25 947.45 816.75 946.62 817.25 945.76 817.75 944.89 818.25 943.99 818.75 943.07 819.25 942.12 819.75 941.16 820.25 940.18 820.75 939.17 821.25 938.15 821.75 937.1 822.25 936.04 822.75 934.95 823.25 933.85 823.75 932.73 824.25 931.55 824.75 930.33 825.25 929.05 825.75 927.72 826.25 926.35 826.75 924.95 827.25 923.52 827.75 922.06 828.25 920.58 828.75 919.08 829.25 917.57 829.75 916.06 830.25 914.55 830.75 913.04 831.25 911.54 831.75 910.06 832.25 908.59 832.75 907.11 833.25 905.61 833.75 904.08 834.25 902.55 834.75 901 835.25 899.45 835.75 897.89 836.25 896.34 836.75 894.79 837.25 893.25 837.75 891.73 838.25 890.23 838.75 888.75 839.25 887.3 839.75 885.88 840.25 884.49 840.75 883.14 841.25 881.81 841.75 880.49 842.25 879.19 842.75 877.9 843.25 876.63 843.75 875.37 844.25 874.12 844.75 872.89 845.25 871.67 845.75 870.46 846.25 869.27 846.75 868.08 847.25 866.91 847.75 865.75 848.25 864.61 848.75 863.47 849.25 862.35 849.75 861.23 850.25 860.13 850.75 859.07 851.25 858.06 851.75 857.1 852.25 856.14 852.75 855.17 853.25 854.15 853.75 853.07 854.25 851.95 854.75 850.81 855.25 849.65 855.75 848.48 856.25 847.29 856.75 846.09 857.25 844.88 857.75 843.66 858.25 842.44 858.75 841.21 859.25 839.99 859.75 838.76 860.25 837.54 860.75 836.33 861.25 835.12 861.75 833.93 862.25 832.74 862.75 831.58 863.25 830.42 863.75 829.27 864.25 828.1 864.75 826.94 865.25 825.77 865.75 824.6 866.25 823.44 866.75 822.28 867.25 821.13 867.75 819.98 868.25 818.85 868.75 817.73 869.25 816.63 869.75 815.55 870.25 814.49 870.75 813.45 871.25 812.44 871.75 811.45 872.25 810.49 872.75 809.56 873.25 808.62 873.75 807.69 874.25 806.77 874.75 805.85 875.25 804.95 875.75 804.07 876.25 803.2 876.75 802.34 877.25 801.51 877.75 800.7 878.25 799.92 878.75 799.17 879.25 798.44 879.75 797.75 880.25 797.09 880.75 796.47 881.25 795.88 881.75 795.34 882.25 794.8 882.75 794.26 883.25 793.73 883.75 793.19 884.25 792.67 884.75 792.15 885.25 791.65 885.75 791.17 886.25 790.71 886.75 790.27 887.25 789.86 887.75 789.48 888.25 789.14 888.75 788.83 889.25 788.57 889.75 788.34 890.25 788.17 890.75 788.04 891.25 787.97 891.75 787.91 892.25 787.87 892.75 787.85 893.25 787.85 893.75 787.87 894.25 787.9 894.75 787.96 895.25 788.04 895.75 788.13 896.25 788.25 896.75 788.39 897.25 788.55 897.75 788.73 898.25 788.93 898.75 789.16 899.25 789.42 899.75 789.69 900.25 789.98 900.75 790.29 901.25 790.6 901.75 790.93 902.25 791.26 902.75 791.6 903.25 791.94 903.75 792.27 904.25 792.6 904.75 792.92 905.25 793.22 905.75 793.52 906.25 793.8 906.75 794.1 907.25 794.41 907.75 794.72 908.25 795.03 908.75 795.32 909.25 795.6 909.75 795.85 910.25 796.06 910.75 796.23 911.25 796.36 911.75 796.43 912.25 796.43 912.75 796.38 913.25 796.28 913.75 796.14 914.25 795.96 914.75 795.75 915.25 795.52 915.75 795.27 916.25 795.02 916.75 794.77 917.25 794.52 917.75 794.23 918.25 793.87 918.75 793.47 919.25 793.05 919.75 792.62 920.25 792.2 920.75 791.81 921.25 791.45 921.75 791.15 922.25 790.93 922.75 790.79 923.25 790.72 923.75 790.7 924.25 790.71 924.75 790.76 925.25 790.85 925.75 790.95 926.25 791.09 926.75 791.24 927.25 791.41 927.75 791.59 928.25 791.78 928.75 791.98 929.25 792.2 929.75 792.44 930.25 792.69 930.75 792.95 931.25 793.22 931.75 793.49 932.25 793.76 932.75 794.04 933.25 794.31 933.75 794.57 934.25 794.82 934.75 795.06 935.25 795.28 935.75 795.48 936.25 795.67 936.75 795.86 937.25 796.05 937.75 796.23 938.25 796.42 938.75 796.6 939.25 796.77 939.75 796.95 940.25 797.12 940.75 797.28 941.25 797.44 941.75 797.59 942.25 797.74 942.75 797.88 943.25 798.01 943.75 798.13 944.25 798.25 944.75 798.36 945.25 798.45 945.5 798.5L945.5 941 945.25 940.97 944.75 940.94 944.25 940.94 943.75 940.97 943.25 941.03 942.75 941.11 942.25 941.21 941.75 941.34 941.25 941.48 940.75 941.64 940.25 941.81 939.75 942 939.25 942.21 938.75 942.46 938.25 942.75 937.75 943.09 937.25 943.47 936.75 943.88 936.25 944.32 935.75 944.79 935.25 945.28 934.75 945.79 934.25 946.31 933.75 946.84 933.25 947.37 932.75 947.91 932.25 948.44 931.75 949 931.25 949.69 930.75 950.49 930.25 951.37 929.75 952.33 929.25 953.33 928.75 954.36 928.25 955.4 927.75 956.43 927.25 957.42 926.75 958.36 926.25 959.22 925.75 959.99 925.25 960.64 924.75 961.15 924.25 961.51 923.75 961.69 923.25 961.65 922.75 961.35 922.25 960.82 921.75 960.1 921.25 959.21 920.75 958.19 920.25 957.06 919.75 955.86 919.25 954.62 918.75 953.36 918.25 952.12 917.75 950.93 917.25 949.82 916.75 948.82 916.25 947.95 915.75 947.26 915.25 946.76 914.75 946.36 914.25 945.99 913.75 945.64 913.25 945.32 912.75 945.03 912.25 944.79 911.75 944.58 911.25 944.42 910.75 944.31 910.25 944.26 909.75 944.26 909.25 944.32 908.75 944.45 908.25 944.66 907.75 944.93 907.25 945.27 906.75 945.67 906.25 946.12 905.75 946.62 905.25 947.17 904.75 947.75 904.25 948.37 903.75 949.02 903.25 949.7 902.75 950.4 902.25 951.12 901.75 951.86 901.25 952.61 900.75 953.36 900.25 954.12 899.75 954.88 899.25 955.63 898.75 956.38 898.25 957.15 897.75 957.96 897.25 958.8 896.75 959.65 896.25 960.52 895.75 961.4 895.25 962.29 894.75 963.17 894.25 964.05 893.75 964.92 893.25 965.77 892.75 966.6 892.25 967.41 891.75 968.18 891.25 968.93 890.75 969.66 890.25 970.37 889.75 971.07 889.25 971.75 888.75 972.43 888.25 973.09 887.75 973.75 887.25 974.41 886.75 975.07 886.25 975.74 885.75 976.41 885.25 977.08 884.75 977.77 884.25 978.48 883.75 979.2 883.25 979.93 882.75 980.69 882.25 981.48 881.75 982.29 881.25 983.12 880.75 983.97 880.25 984.84 879.75 985.73 879.25 986.62 878.75 987.53 878.25 988.45 877.75 989.37 877.25 990.3 876.75 991.23 876.25 992.16 875.75 993.09 875.25 994.01 874.75 994.93 874.25 995.83 873.75 996.73 873.25 997.61 872.75 998.47 872.25 999.32 871.75 1000.16 871.25 1000.98 870.75 1001.79 870.25 1002.59 869.75 1003.39 869.25 1004.18 868.75 1004.97 868.25 1005.75 867.75 1006.53 867.25 1007.31 866.75 1008.09 866.25 1008.88 865.75 1009.67 865.25 1010.46 864.75 1011.27 864.25 1012.08 863.75 1012.9 863.25 1013.74 862.75 1014.59 862.25 1015.45 861.75 1016.32 861.25 1017.2 860.75 1018.08 860.25 1018.98 859.75 1019.88 859.25 1020.79 858.75 1021.7 858.25 1022.61 857.75 1023.53 857.25 1024.45 856.75 1025.37 856.25 1026.28 855.75 1027.2 855.25 1028.12 854.75 1029.03 854.25 1029.93 853.75 1030.84 853.25 1031.73 852.75 1032.63 852.25 1033.53 851.75 1034.44 851.25 1035.36 850.75 1036.27 850.25 1037.19 849.75 1038.11 849.25 1039.02 848.75 1039.92 848.25 1040.81 847.75 1041.68 847.25 1042.54 846.75 1043.39 846.25 1044.21 845.75 1045.01 845.25 1045.78 844.75 1046.56 844.25 1047.39 843.75 1048.24 843.25 1049.1 842.75 1049.96 842.25 1050.8 841.75 1051.61 841.25 1052.38 840.75 1053.09 840.25 1053.73 839.75 1054.29 839.25 1054.75 838.75 1055.1 838.25 1055.32 837.75 1055.41 837.25 1055.36 836.75 1055.25 836.25 1055.09 835.75 1054.9 835.25 1054.67 834.75 1054.41 834.25 1054.13 833.75 1053.83 833.25 1053.52 832.75 1053.21 832.25 1052.9 831.75 1052.59 831.25 1052.29 830.75 1052.01 830.25 1051.75 829.75 1051.52 829.25 1051.31 828.75 1051.09 828.25 1050.87 827.75 1050.65 827.25 1050.42 826.75 1050.2 826.25 1049.98 825.75 1049.76 825.25 1049.54 824.75 1049.32 824.25 1049.11 823.75 1048.9 823.25 1048.7 822.75 1048.51 822.25 1048.32 821.75 1048.14 821.25 1047.97 820.75 1047.82 820.25 1047.67 819.75 1047.53 819.25 1047.42 818.75 1047.31 818.25 1047.23 817.75 1047.15 817.25 1047.1 816.75 1047.05 816.25 1047.02 815.75 1047.01 815.25 1047 814.75 1047.01 814.25 1047.03 813.75 1047.07 813.25 1047.11 812.75 1047.17 812.25 1047.23 811.75 1047.31 811.25 1047.39 810.75 1047.49 810.25 1047.59 809.75 1047.72 809.25 1047.9 808.75 1048.13 808.25 1048.4 807.75 1048.71 807.25 1049.06 806.75 1049.44 806.25 1049.85 805.75 1050.28 805.25 1050.73 804.75 1051.2 804.25 1051.68 803.75 1052.17 803.25 1052.66 802.75 1053.15 802.25 1053.65 801.75 1054.18 801.25 1054.75 800.75 1055.35 800.25 1055.98 799.75 1056.62 799.25 1057.29 798.75 1057.96 798.25 1058.64 797.75 1059.33 797.25 1060 796.75 1060.67 796.25 1061.32 795.75 1061.96 795.25 1062.57 794.75 1063.14 794.25 1063.7 793.75 1064.27 793.25 1064.84 792.75 1065.4 792.25 1065.96 791.75 1066.52 791.25 1067.06 790.75 1067.6 790.25 1068.11 789.75 1068.61 789.25 1069.09 788.75 1069.55 788.25 1069.98 787.75 1070.39 787.25 1070.76 786.75 1071.1 786.25 1071.42 785.75 1071.72 785.25 1072.01 784.75 1072.28 784.25 1072.55 783.75 1072.8 783.25 1073.04 782.75 1073.28 782.25 1073.51 781.75 1073.73 781.25 1073.95 780.75 1074.17 780.25 1074.39 779.75 1074.6 779.25 1074.82 778.75 1075.04 778.25 1075.27 777.75 1075.5 777.25 1075.73 776.75 1075.98 776.25 1076.23 775.75 1076.5 775.25 1076.77 774.75 1077.06 774.25 1077.34 773.75 1077.63 773.25 1077.91 772.75 1078.2 772.25 1078.49 771.75 1078.78 771.25 1079.07 770.75 1079.36 770.25 1079.66 769.75 1079.96 769.25 1080.25 768.75 1080.55 768.25 1080.86 767.75 1081.16 767.25 1081.47 766.75 1081.78 766.25 1082.09 765.75 1082.4 765.25 1082.72 764.75 1083.04 764.25 1083.36 763.75 1083.68 763.25 1084.01 762.75 1084.34 762.25 1084.67 761.75 1085.01 761.25 1085.35 760.75 1085.7 760.25 1086.04 759.75 1086.39 759.25 1086.75 758.75 1087.13 758.25 1087.52 757.75 1087.92 757.25 1088.34 756.75 1088.77 756.25 1089.21 755.75 1089.66 755.25 1090.11 754.75 1090.57 754.25 1091.03 753.75 1091.49 753.25 1091.95 752.75 1092.4 752.25 1092.86 751.75 1093.3 751.25 1093.74 750.75 1094.17 750.25 1094.59 749.75 1095 749.25 1095.39 748.75 1095.77 748.25 1096.13 747.75 1096.47 747.25 1096.81 746.75 1097.14 746.25 1097.46 745.75 1097.78 745.25 1098.09 744.75 1098.39 744.25 1098.68 743.75 1098.95 743.25 1099.21 742.75 1099.45 742.25 1099.68 741.75 1099.88 741.25 1100.07 740.75 1100.23 740.25 1100.37 739.75 1100.49 739.25 1100.58 738.75 1100.64 738.25 1100.67 737.75 1100.68 737.25 1100.65 736.75 1100.59 736.25 1100.49 735.75 1100.35 735.25 1100.16 734.75 1099.92 734.25 1099.64 733.75 1099.31 733.25 1098.94 732.75 1098.54 732.25 1098.1 731.75 1097.63 731.25 1097.12 730.75 1096.58 730.25 1096.02 729.75 1095.43 729.25 1094.82 728.75 1094.19 728.25 1093.54 727.75 1092.88 727.25 1092.2 726.75 1091.5 726.25 1090.8 725.75 1090.09 725.25 1089.38 724.75 1088.66 724.25 1087.94 723.75 1087.22 723.25 1086.51 722.75 1085.8 722.25 1085.1 721.75 1084.41 721.25 1083.73 720.75 1083.07 720.25 1082.41 719.75 1081.74 719.25 1081.05 718.75 1080.36 718.25 1079.66 717.75 1078.95 717.25 1078.24 716.75 1077.51 716.25 1076.77 715.75 1076.03 715.25 1075.28 714.75 1074.53 714.25 1073.76 713.75 1073 713.25 1072.22 712.75 1071.45 712.25 1070.66 711.75 1069.88 711.25 1069.09 710.75 1068.29 710.25 1067.5 709.75 1066.7 709.25 1065.9 708.75 1065.1 708.25 1064.29 707.75 1063.48 707.25 1062.66 706.75 1061.83 706.25 1061 705.75 1060.17 705.25 1059.33 704.75 1058.48 704.25 1057.63 703.75 1056.78 703.25 1055.92 702.75 1055.05 702.25 1054.19 701.75 1053.31 701.25 1052.44 700.75 1051.56 700.25 1050.68 699.75 1049.79 699.25 1048.91 698.75 1048.02 698.25 1047.12 697.75 1046.23 697.25 1045.33 696.75 1044.43 696.25 1043.53 695.75 1042.63 695.25 1041.73 694.75 1040.81 694.25 1039.87 693.75 1038.92 693.25 1037.95 692.75 1036.97 692.25 1035.98 691.75 1034.98 691.25 1033.97 690.75 1032.96 690.25 1031.95 689.75 1030.93 689.25 1029.92 688.75 1028.91 688.25 1027.9 687.75 1026.9 687.25 1025.91 686.75 1024.93 686.25 1023.96 685.75 1023 685.25 1022.07 684.75 1021.15 684.25 1020.25 683.75 1019.37 683.25 1018.52 682.75 1017.69 682.25 1016.89 681.75 1016.11 681.25 1015.34 680.75 1014.57 680.25 1013.82 679.75 1013.1 679.25 1012.42 678.75 1011.78 678.25 1011.21 677.75 1010.71 677.25 1010.3 676.75 1009.98 676.25 1009.72 675.75 1009.47 675.25 1009.22 674.75 1008.99 674.25 1008.76 673.75 1008.54 673.25 1008.33 672.75 1008.14 672.25 1007.96 671.75 1007.8 671.25 1007.65 670.75 1007.52 670.25 1007.41 669.75 1007.32 669.25 1007.25 668.75 1007.2 668.25 1007.15 667.75 1007.09 667.25 1007.04 666.75 1006.98 666.25 1006.93 665.75 1006.88 665.25 1006.83 664.75 1006.78 664.25 1006.74 663.75 1006.7 663.25 1006.67 662.75 1006.64 662.25 1006.62 661.75 1006.61 661.25 1006.6 660.75 1006.61 660.25 1006.62 659.75 1006.65 659.25 1006.68 658.75 1006.73 658.25 1006.81 657.75 1006.9 657.25 1007.01 656.75 1007.12 656.25 1007.24 655.75 1007.36 655.25 1007.47 654.75 1007.57 654.25 1007.66 653.75 1007.72 653.25 1007.77 652.75 1007.78 652.25 1007.77 651.75 1007.76 651.25 1007.73 650.75 1007.7 650.25 1007.67 649.75 1007.62 649.25 1007.57 648.75 1007.52 648.25 1007.46 647.75 1007.39 647.25 1007.32 646.75 1007.25 646.25 1007.18 645.75 1007.1 645.25 1007.01 644.75 1006.93 644.25 1006.84 643.75 1006.76 643.25 1006.67 642.75 1006.58 642.25 1006.49 641.75 1006.4 641.25 1006.32 640.75 1006.23 640.25 1006.15 639.75 1006.06 639.25 1005.98 638.75 1005.91 638.25 1005.83 637.75 1005.76 637.25 1005.7 636.75 1005.63 636.25 1005.58 635.75 1005.53 635.25 1005.5 634.75 1005.47 634.25 1005.46 633.75 1005.45 633.25 1005.45 632.75 1005.46 632.25 1005.47 631.75 1005.48 631.25 1005.5 630.75 1005.53 630.25 1005.55 629.75 1005.57 629.25 1005.6 628.75 1005.62 628.25 1005.64 627.75 1005.65 627.25 1005.67 626.75 1005.67 626.25 1005.67 625.75 1005.66 625.25 1005.64 624.75 1005.62 624.25 1005.58 623.75 1005.42 623.25 1005.12 622.75 1004.7 622.25 1004.17 621.75 1003.58 621.25 1002.93 620.75 1002.25 620.25 1001.57 619.75 1000.89 619.25 1000.14 618.75 999.34 618.25 998.47 617.75 997.56 617.25 996.61 616.75 995.63 616.25 994.62 615.75 993.59 615.25 992.56 614.75 991.53 614.25 990.51 613.75 989.5 613.25 988.48 612.75 987.45 612.25 986.41 611.75 985.36 611.25 984.3 610.75 983.22 610.25 982.13 609.75 981.03 609.25 979.92 608.75 978.79 608.25 977.64 607.75 976.49 607.25 975.31 606.75 974.13 606.25 972.92 605.75 971.7 605.25 970.46 604.75 969.21 604.25 967.94 603.75 966.65 603.25 965.35 602.75 964.03 602.25 962.69 601.75 961.34 601.25 959.98 600.75 958.6 600.25 957.2 599.75 955.8 599.25 954.37 598.75 952.94 598.25 951.49 597.75 950.03 597.25 948.56 596.75 947.07 596.25 945.57 595.75 944.06 595.25 942.54 594.75 941.01 594.25 939.47 593.75 937.89 593.25 936.25 592.75 934.54 592.25 932.78 591.75 930.96 591.25 929.11 590.75 927.24 590.25 925.34 589.75 923.43 589.25 921.52 588.75 919.63 588.25 917.75 587.75 915.9 587.25 914.08 586.75 912.32 586.25 910.61 585.75 908.96 585.25 907.39 584.75 905.91 584.25 904.51 583.75 903.18 583.25 901.91 582.75 900.69 582.25 899.52 581.75 898.37 581.25 897.26 580.75 896.16 580.25 895.08 579.75 894 579.25 892.92 578.75 891.83 578.25 890.72 577.75 889.59 577.25 888.42 576.75 887.22 576.25 886Z" fill="#b20000" fill-opacity="0.5"/>
<line x1="576.25" y1="1062.8" x2="945.5" y2="1062.8" stroke="#000" stroke-width="2.75" stroke-dasharray="2.75 4.52"/>
<path d="M576.25 850.35L576.75 851.1 577.25 851.79 577.75 852.43 578.25 853.02 578.75 853.55 579.25 854.04 579.75 854.49 580.25 854.9 580.75 855.27 581.25 855.6 581.75 855.89 582.25 856.16 582.75 856.4 583.25 856.61 583.75 856.8 584.25 856.96 584.75 857.11 585.25 857.24 585.75 857.36 586.25 857.47 586.75 857.57 587.25 857.66 587.75 857.75 588.25 857.84 588.75 857.93 589.25 858.03 589.75 858.13 590.25 858.24 590.75 858.36 591.25 858.48 591.75 858.62 592.25 858.76 592.75 858.92 593.25 859.09 593.75 859.27 594.25 859.46 594.75 859.66 595.25 859.88 595.75 860.11 596.25 860.36 596.75 860.62 597.25 860.9 597.75 861.2 598.25 861.51 598.75 861.84 599.25 862.19 599.75 862.56 600.25 862.94 600.75 863.35 601.25 863.78 601.75 864.23 602.25 864.7 602.75 865.19 603.25 865.71 603.75 866.25 604.25 866.81 604.75 867.4 605.25 868.02 605.75 868.66 606.25 869.33 606.75 870.02 607.25 870.74 607.75 871.49 608.25 872.25 608.75 873.04 609.25 873.85 609.75 874.68 610.25 875.52 610.75 876.38 611.25 877.26 611.75 878.14 612.25 879.04 612.75 879.95 613.25 880.86 613.75 881.78 614.25 882.71 614.75 883.64 615.25 884.57 615.75 885.51 616.25 886.44 616.75 887.37 617.25 888.3 617.75 889.22 618.25 890.14 618.75 891.04 619.25 891.94 619.75 892.83 620.25 893.71 620.75 894.57 621.25 895.42 621.75 896.27 622.25 897.1 622.75 897.93 623.25 898.76 623.75 899.58 624.25 900.39 624.75 901.21 625.25 902.03 625.75 902.85 626.25 903.67 626.75 904.5 627.25 905.33 627.75 906.17 628.25 907.02 628.75 907.87 629.25 908.72 629.75 909.58 630.25 910.45 630.75 911.32 631.25 912.2 631.75 913.08 632.25 913.96 632.75 914.85 633.25 915.74 633.75 916.64 634.25 917.54 634.75 918.45 635.25 919.36 635.75 920.27 636.25 921.19 636.75 922.11 637.25 923.04 637.75 923.97 638.25 924.9 638.75 925.83 639.25 926.77 639.75 927.71 640.25 928.66 640.75 929.6 641.25 930.55 641.75 931.5 642.25 932.46 642.75 933.41 643.25 934.37 643.75 935.33 644.25 936.3 644.75 937.26 645.25 938.23 645.75 939.2 646.25 940.17 646.75 941.14 647.25 942.12 647.75 943.1 648.25 944.08 648.75 945.06 649.25 946.04 649.75 947.03 650.25 948.01 650.75 949 651.25 949.99 651.75 950.98 652.25 951.98 652.75 952.97 653.25 953.97 653.75 954.97 654.25 955.97 654.75 956.97 655.25 957.97 655.75 958.97 656.25 959.97 656.75 960.98 657.25 961.98 657.75 962.99 658.25 964 658.75 965.01 659.25 966.02 659.75 967.03 660.25 968.04 660.75 969.05 661.25 970.07 661.75 971.08 662.25 972.1 662.75 973.11 663.25 974.13 663.75 975.14 664.25 976.16 664.75 977.18 665.25 978.2 665.75 979.21 666.25 980.23 666.75 981.25 667.25 982.27 667.75 983.29 668.25 984.31 668.75 985.33 669.25 986.34 669.75 987.36 670.25 988.38 670.75 989.4 671.25 990.42 671.75 991.44 672.25 992.46 672.75 993.48 673.25 994.49 673.75 995.51 674.25 996.53 674.75 997.54 675.25 998.56 675.75 999.58 676.25 1000.59 676.75 1001.61 677.25 1002.62 677.75 1003.64 678.25 1004.66 678.75 1005.68 679.25 1006.7 679.75 1007.72 680.25 1008.74 680.75 1009.77 681.25 1010.8 681.75 1011.83 682.25 1012.86 682.75 1013.89 683.25 1014.93 683.75 1015.97 684.25 1017.01 684.75 1018.06 685.25 1019.11 685.75 1020.17 686.25 1021.22 686.75 1022.28 687.25 1023.35 687.75 1024.41 688.25 1025.48 688.75 1026.55 689.25 1027.61 689.75 1028.68 690.25 1029.75 690.75 1030.81 691.25 1031.87 691.75 1032.93 692.25 1033.99 692.75 1035.04 693.25 1036.08 693.75 1037.12 694.25 1038.16 694.75 1039.19 695.25 1040.21 695.75 1041.23 696.25 1042.24 696.75 1043.23 697.25 1044.23 697.75 1045.21 698.25 1046.19 698.75 1047.16 699.25 1048.12 699.75 1049.08 700.25 1050.02 700.75 1050.96 701.25 1051.89 701.75 1052.82 702.25 1053.74 702.75 1054.65 703.25 1055.55 703.75 1056.45 704.25 1057.33 704.75 1058.22 705.25 1059.09 705.75 1059.96 706.25 1060.82 706.75 1061.67 707.25 1062.51 707.75 1063.35 708.25 1064.18 708.75 1065.01 709.25 1065.83 709.75 1066.64 710.25 1067.44 710.75 1068.24 711.25 1069.02 711.75 1069.81 712.25 1070.58 712.75 1071.35 713.25 1072.11 713.75 1072.87 714.25 1073.62 714.75 1074.36 715.25 1075.09 715.75 1075.82 716.25 1076.54 716.75 1077.26 717.25 1077.97 717.75 1078.67 718.25 1079.36 718.75 1080.05 719.25 1080.73 719.75 1081.41 720.25 1082.08 720.75 1082.74 721.25 1083.4 721.75 1084.05 722.25 1084.69 722.75 1085.33 723.25 1085.96 723.75 1086.58 724.25 1087.2 724.75 1087.81 725.25 1088.42 725.75 1089.02 726.25 1089.61 726.75 1090.2 727.25 1090.78 727.75 1091.35 728.25 1091.92 728.75 1092.48 729.25 1093.04 729.75 1093.59 730.25 1094.13 730.75 1094.67 731.25 1095.2 731.75 1095.73 732.25 1096.25 732.75 1096.77 733.25 1097.27 733.75 1097.78 734.25 1098.27 734.75 1098.77 735.25 1099.25 735.75 1099.73 736.25 1100.21 736.75 1100.67 737.25 1101.14 737.75 1101.59 738.25 1102.05 738.75 1102.49 739.25 1102.93 739.75 1103.37 740.25 1103.8 740.75 1104.22 741.25 1104.64 741.75 1105.05 742.25 1105.46 742.75 1105.86 743.25 1106.26 743.75 1106.65 744.25 1107.03 744.75 1107.42 745.25 1107.79 745.75 1108.16 746.25 1108.53 746.75 1108.89 747.25 1109.24 747.75 1109.59 748.25 1109.93 748.75 1110.27 749.25 1110.61 749.75 1110.94 750.25 1111.26 750.75 1111.58 751.25 1111.89 751.75 1112.2 752.25 1112.51 752.75 1112.81 753.25 1113.1 753.75 1113.39 754.25 1113.67 754.75 1113.95 755.25 1114.23 755.75 1114.5 756.25 1114.76 756.75 1115.02 757.25 1115.28 757.75 1115.53 758.25 1115.78 758.75 1116.02 759.25 1116.26 759.75 1116.49 760.25 1116.72 760.75 1116.94 761.25 1117.16 761.75 1117.38 762.25 1117.59 762.75 1117.79 763.25 1117.99 763.75 1118.19 764.25 1118.38 764.75 1118.57 765.25 1118.76 765.75 1118.94 766.25 1119.11 766.75 1119.28 767.25 1119.45 767.75 1119.61 768.25 1119.77 768.75 1119.93 769.25 1120.08 769.75 1120.22 770.25 1120.36 770.75 1120.5 771.25 1120.63 771.75 1120.75 772.25 1120.87 772.75 1120.99 773.25 1121.1 773.75 1121.2 774.25 1121.3 774.75 1121.39 775.25 1121.48 775.75 1121.56 776.25 1121.63 776.75 1121.7 777.25 1121.77 777.75 1121.82 778.25 1121.87 778.75 1121.91 779.25 1121.95 779.75 1121.98 780.25 1122 780.75 1122.01 781.25 1122.02 781.75 1122.02 782.25 1122.02 782.75 1122 783.25 1121.98 783.75 1121.95 784.25 1121.91 784.75 1121.86 785.25 1121.81 785.75 1121.75 786.25 1121.68 786.75 1121.6 787.25 1121.51 787.75 1121.41 788.25 1121.31 788.75 1121.19 789.25 1121.07 789.75 1120.94 790.25 1120.79 790.75 1120.64 791.25 1120.48 791.75 1120.31 792.25 1120.13 792.75 1119.94 793.25 1119.74 793.75 1119.53 794.25 1119.31 794.75 1119.08 795.25 1118.84 795.75 1118.59 796.25 1118.32 796.75 1118.05 797.25 1117.77 797.75 1117.47 798.25 1117.17 798.75 1116.85 799.25 1116.52 799.75 1116.18 800.25 1115.83 800.75 1115.47 801.25 1115.09 801.75 1114.71 802.25 1114.31 802.75 1113.9 803.25 1113.47 803.75 1113.04 804.25 1112.59 804.75 1112.13 805.25 1111.66 805.75 1111.17 806.25 1110.67 806.75 1110.16 807.25 1109.63 807.75 1109.1 808.25 1108.54 808.75 1107.98 809.25 1107.4 809.75 1106.81 810.25 1106.2 810.75 1105.59 811.25 1104.95 811.75 1104.31 812.25 1103.65 812.75 1102.98 813.25 1102.29 813.75 1101.59 814.25 1100.87 814.75 1100.14 815.25 1099.4 815.75 1098.64 816.25 1097.87 816.75 1097.09 817.25 1096.29 817.75 1095.47 818.25 1094.64 818.75 1093.8 819.25 1092.94 819.75 1092.07 820.25 1091.18 820.75 1090.28 821.25 1089.37 821.75 1088.44 822.25 1087.49 822.75 1086.53 823.25 1085.55 823.75 1084.56 824.25 1083.55 824.75 1082.53 825.25 1081.5 825.75 1080.44 826.25 1079.38 826.75 1078.29 827.25 1077.19 827.75 1076.08 828.25 1074.95 828.75 1073.8 829.25 1072.64 829.75 1071.46 830.25 1070.26 830.75 1069.05 831.25 1067.81 831.75 1066.55 832.25 1065.28 832.75 1063.98 833.25 1062.66 833.75 1061.31 834.25 1059.95 834.75 1058.56 835.25 1057.14 835.75 1055.7 836.25 1054.24 836.75 1052.75 837.25 1051.24 837.75 1049.72 838.25 1048.18 838.75 1046.62 839.25 1045.06 839.75 1043.48 840.25 1041.9 840.75 1040.32 841.25 1038.73 841.75 1037.13 842.25 1035.54 842.75 1033.94 843.25 1032.35 843.75 1030.75 844.25 1029.16 844.75 1027.57 845.25 1025.98 845.75 1024.4 846.25 1022.82 846.75 1021.25 847.25 1019.68 847.75 1018.12 848.25 1016.57 848.75 1015.03 849.25 1013.49 849.75 1011.97 850.25 1010.46 850.75 1008.96 851.25 1007.46 851.75 1005.98 852.25 1004.5 852.75 1003.03 853.25 1001.57 853.75 1000.11 854.25 998.67 854.75 997.23 855.25 995.79 855.75 994.37 856.25 992.95 856.75 991.53 857.25 990.12 857.75 988.72 858.25 987.32 858.75 985.92 859.25 984.53 859.75 983.14 860.25 981.76 860.75 980.38 861.25 979 861.75 977.62 862.25 976.25 862.75 974.88 863.25 973.51 863.75 972.15 864.25 970.78 864.75 969.42 865.25 968.05 865.75 966.69 866.25 965.32 866.75 963.96 867.25 962.59 867.75 961.23 868.25 959.87 868.75 958.51 869.25 957.15 869.75 955.79 870.25 954.43 870.75 953.07 871.25 951.71 871.75 950.36 872.25 949.01 872.75 947.66 873.25 946.31 873.75 944.96 874.25 943.62 874.75 942.28 875.25 940.94 875.75 939.61 876.25 938.27 876.75 936.95 877.25 935.62 877.75 934.3 878.25 932.98 878.75 931.66 879.25 930.35 879.75 929.05 880.25 927.75 880.75 926.45 881.25 925.15 881.75 923.87 882.25 922.58 882.75 921.3 883.25 920.03 883.75 918.76 884.25 917.5 884.75 916.24 885.25 914.99 885.75 913.75 886.25 912.51 886.75 911.27 887.25 910.05 887.75 908.83 888.25 907.61 888.75 906.41 889.25 905.21 889.75 904.02 890.25 902.83 890.75 901.65 891.25 900.48 891.75 899.32 892.25 898.17 892.75 897.02 893.25 895.88 893.75 894.75 894.25 893.63 894.75 892.52 895.25 891.42 895.75 890.32 896.25 889.24 896.75 888.16 897.25 887.1 897.75 886.04 898.25 884.99 898.75 883.96 899.25 882.93 899.75 881.91 900.25 880.91 900.75 879.91 901.25 878.92 901.75 877.95 902.25 876.99 902.75 876.03 903.25 875.09 903.75 874.16 904.25 873.25 904.75 872.34 905.25 871.44 905.75 870.56 906.25 869.69 906.75 868.83 907.25 867.99 907.75 867.16 908.25 866.34 908.75 865.53 909.25 864.73 909.75 863.94 910.25 863.15 910.75 862.37 911.25 861.6 911.75 860.82 912.25 860.04 912.75 859.27 913.25 858.48 913.75 857.7 914.25 856.9 914.75 856.11 915.25 855.31 915.75 854.51 916.25 853.72 916.75 852.92 917.25 852.14 917.75 851.35 918.25 850.58 918.75 849.82 919.25 849.06 919.75 848.32 920.25 847.59 920.75 846.88 921.25 846.17 921.75 845.49 922.25 844.82 922.75 844.16 923.25 843.52 923.75 842.89 924.25 842.29 924.75 841.7 925.25 841.12 925.75 840.57 926.25 840.04 926.75 839.52 927.25 839.03 927.75 838.56 928.25 838.11 928.75 837.68 929.25 837.27 929.75 836.88 930.25 836.51 930.75 836.16 931.25 835.83 931.75 835.51 932.25 835.22 932.75 834.93 933.25 834.67 933.75 834.41 934.25 834.17 934.75 833.95 935.25 833.73 935.75 833.52 936.25 833.33 936.75 833.14 937.25 832.96 937.75 832.79 938.25 832.63 938.75 832.47 939.25 832.32 939.75 832.17 940.25 832.02 940.75 831.88 941.25 831.74 941.75 831.6 942.25 831.46 942.75 831.33 943.25 831.19 943.75 831.04 944.25 830.9 944.75 830.75 945.25 830.59 945.5 830.51" fill="none" stroke="#000" stroke-width="5.6" stroke-linejoin="round"/>
<path d="M576.25 807.6L576.75 808.99 577.25 810.34 577.75 811.66 578.25 812.94 578.75 814.19 579.25 815.41 579.75 816.59 580.25 817.75 580.75 818.89 581.25 819.99 581.75 821.07 582.25 822.13 582.75 823.17 583.25 824.19 583.75 825.18 584.25 826.16 584.75 827.13 585.25 828.08 585.75 829.01 586.25 829.94 586.75 830.85 587.25 831.76 587.75 832.66 588.25 833.55 588.75 834.44 589.25 835.32 589.75 836.21 590.25 837.09 590.75 837.97 591.25 838.86 591.75 839.75 592.25 840.64 592.75 841.54 593.25 842.45 593.75 843.37 594.25 844.3 594.75 845.24 595.25 846.2 595.75 847.16 596.25 848.14 596.75 849.13 597.25 850.12 597.75 851.13 598.25 852.15 598.75 853.17 599.25 854.21 599.75 855.26 600.25 856.31 600.75 857.37 601.25 858.44 601.75 859.52 602.25 860.61 602.75 861.7 603.25 862.8 603.75 863.91 604.25 865.03 604.75 866.15 605.25 867.28 605.75 868.41 606.25 869.55 606.75 870.69 607.25 871.84 607.75 872.99 608.25 874.15 608.75 875.31 609.25 876.48 609.75 877.65 610.25 878.82 610.75 879.99 611.25 881.17 611.75 882.35 612.25 883.53 612.75 884.72 613.25 885.9 613.75 887.09 614.25 888.28 614.75 889.47 615.25 890.66 615.75 891.85 616.25 893.04 616.75 894.23 617.25 895.42 617.75 896.61 618.25 897.79 618.75 898.98 619.25 900.14 619.75 901.29 620.25 902.38 620.75 903.43 621.25 904.43 621.75 905.39 622.25 906.3 622.75 907.16 623.25 907.99 623.75 908.78 624.25 909.53 624.75 910.24 625.25 910.92 625.75 911.56 626.25 912.18 626.75 912.77 627.25 913.32 627.75 913.86 628.25 914.37 628.75 914.85 629.25 915.32 629.75 915.77 630.25 916.2 630.75 916.61 631.25 917.01 631.75 917.4 632.25 917.77 632.75 918.14 633.25 918.5 633.75 918.86 634.25 919.21 634.75 919.55 635.25 919.89 635.75 920.22 636.25 920.55 636.75 920.87 637.25 921.19 637.75 921.51 638.25 921.81 638.75 922.12 639.25 922.42 639.75 922.72 640.25 923.01 640.75 923.3 641.25 923.58 641.75 923.86 642.25 924.14 642.75 924.42 643.25 924.69 643.75 924.96 644.25 925.23 644.75 925.49 645.25 925.75 645.75 926.01 646.25 926.26 646.75 926.52 647.25 926.77 647.75 927.02 648.25 927.27 648.75 927.51 649.25 927.75 649.75 928 650.25 928.23 650.75 928.47 651.25 928.71 651.75 928.94 652.25 929.18 652.75 929.41 653.25 929.64 653.75 929.87 654.25 930.1 654.75 930.33 655.25 930.56 655.75 930.79 656.25 931.01 656.75 931.24 657.25 931.46 657.75 931.69 658.25 931.91 658.75 932.14 659.25 932.36 659.75 932.59 660.25 932.82 660.75 933.04 661.25 933.27 661.75 933.49 662.25 933.72 662.75 933.95 663.25 934.18 663.75 934.41 664.25 934.64 664.75 934.87 665.25 935.1 665.75 935.34 666.25 935.57 666.75 935.81 667.25 936.05 667.75 936.29 668.25 936.53 668.75 936.77 669.25 937.02 669.75 937.26 670.25 937.51 670.75 937.77 671.25 938.02 671.75 938.28 672.25 938.53 672.75 938.8 673.25 939.06 673.75 939.33 674.25 939.6 674.75 939.87 675.25 940.15 675.75 940.43 676.25 940.71 676.75 940.99 677.25 941.28 677.75 941.57 678.25 941.86 678.75 942.16 679.25 942.46 679.75 942.76 680.25 943.06 680.75 943.37 681.25 943.68 681.75 943.99 682.25 944.31 682.75 944.63 683.25 944.95 683.75 945.27 684.25 945.6 684.75 945.93 685.25 946.26 685.75 946.59 686.25 946.93 686.75 947.26 687.25 947.6 687.75 947.95 688.25 948.29 688.75 948.64 689.25 948.99 689.75 949.34 690.25 949.7 690.75 950.05 691.25 950.41 691.75 950.77 692.25 951.14 692.75 951.5 693.25 951.87 693.75 952.24 694.25 952.61 694.75 952.98 695.25 953.36 695.75 953.73 696.25 954.11 696.75 954.49 697.25 954.88 697.75 955.26 698.25 955.65 698.75 956.04 699.25 956.43 699.75 956.82 700.25 957.21 700.75 957.61 701.25 958.01 701.75 958.41 702.25 958.81 702.75 959.21 703.25 959.61 703.75 960.02 704.25 960.42 704.75 960.83 705.25 961.24 705.75 961.65 706.25 962.07 706.75 962.48 707.25 962.9 707.75 963.31 708.25 963.73 708.75 964.15 709.25 964.57 709.75 964.99 710.25 965.42 710.75 965.84 711.25 966.26 711.75 966.69 712.25 967.12 712.75 967.55 713.25 967.98 713.75 968.41 714.25 968.84 714.75 969.27 715.25 969.71 715.75 970.14 716.25 970.58 716.75 971.01 717.25 971.45 717.75 971.89 718.25 972.33 718.75 972.77 719.25 973.21 719.75 973.65 720.25 974.09 720.75 974.53 721.25 974.98 721.75 975.42 722.25 975.87 722.75 976.31 723.25 976.76 723.75 977.2 724.25 977.65 724.75 978.1 725.25 978.55 725.75 978.99 726.25 979.44 726.75 979.89 727.25 980.34 727.75 980.79 728.25 981.24 728.75 981.69 729.25 982.14 729.75 982.59 730.25 983.04 730.75 983.49 731.25 983.94 731.75 984.39 732.25 984.84 732.75 985.3 733.25 985.75 733.75 986.2 734.25 986.65 734.75 987.1 735.25 987.55 735.75 988 736.25 988.45 736.75 988.9 737.25 989.36 737.75 989.81 738.25 990.26 738.75 990.71 739.25 991.16 739.75 991.61 740.25 992.05 740.75 992.5 741.25 992.95 741.75 993.4 742.25 993.85 742.75 994.29 743.25 994.74 743.75 995.18 744.25 995.63 744.75 996.07 745.25 996.51 745.75 996.95 746.25 997.39 746.75 997.83 747.25 998.27 747.75 998.71 748.25 999.14 748.75 999.58 749.25 1000.01 749.75 1000.44 750.25 1000.87 750.75 1001.29 751.25 1001.72 751.75 1002.14 752.25 1002.56 752.75 1002.98 753.25 1003.4 753.75 1003.81 754.25 1004.22 754.75 1004.63 755.25 1005.04 755.75 1005.45 756.25 1005.85 756.75 1006.25 757.25 1006.65 757.75 1007.04 758.25 1007.43 758.75 1007.82 759.25 1008.21 759.75 1008.59 760.25 1008.97 760.75 1009.35 761.25 1009.72 761.75 1010.09 762.25 1010.46 762.75 1010.82 763.25 1011.18 763.75 1011.54 764.25 1011.89 764.75 1012.24 765.25 1012.59 765.75 1012.93 766.25 1013.26 766.75 1013.6 767.25 1013.93 767.75 1014.25 768.25 1014.57 768.75 1014.89 769.25 1015.2 769.75 1015.51 770.25 1015.82 770.75 1016.11 771.25 1016.41 771.75 1016.7 772.25 1016.98 772.75 1017.26 773.25 1017.54 773.75 1017.81 774.25 1018.07 774.75 1018.33 775.25 1018.58 775.75 1018.81 776.25 1019.04 776.75 1019.26 777.25 1019.47 777.75 1019.67 778.25 1019.85 778.75 1020.02 779.25 1020.17 779.75 1020.31 780.25 1020.44 780.75 1020.55 781.25 1020.64 781.75 1020.71 782.25 1020.77 782.75 1020.8 783.25 1020.82 783.75 1020.81 784.25 1020.78 784.75 1020.74 785.25 1020.67 785.75 1020.59 786.25 1020.49 786.75 1020.37 787.25 1020.23 787.75 1020.08 788.25 1019.91 788.75 1019.73 789.25 1019.53 789.75 1019.31 790.25 1019.08 790.75 1018.84 791.25 1018.58 791.75 1018.31 792.25 1018.03 792.75 1017.73 793.25 1017.43 793.75 1017.11 794.25 1016.78 794.75 1016.44 795.25 1016.09 795.75 1015.73 796.25 1015.37 796.75 1014.99 797.25 1014.61 797.75 1014.22 798.25 1013.82 798.75 1013.42 799.25 1013.01 799.75 1012.59 800.25 1012.17 800.75 1011.74 801.25 1011.31 801.75 1010.88 802.25 1010.44 802.75 1010 803.25 1009.56 803.75 1009.11 804.25 1008.67 804.75 1008.22 805.25 1007.77 805.75 1007.32 806.25 1006.88 806.75 1006.43 807.25 1005.98 807.75 1005.54 808.25 1005.1 808.75 1004.66 809.25 1004.22 809.75 1003.79 810.25 1003.36 810.75 1002.94 811.25 1002.52 811.75 1002.11 812.25 1001.7 812.75 1001.3 813.25 1000.9 813.75 1000.51 814.25 1000.12 814.75 999.74 815.25 999.36 815.75 998.98 816.25 998.61 816.75 998.23 817.25 997.86 817.75 997.49 818.25 997.11 818.75 996.74 819.25 996.37 819.75 996 820.25 995.62 820.75 995.25 821.25 994.87 821.75 994.48 822.25 994.1 822.75 993.71 823.25 993.32 823.75 992.92 824.25 992.51 824.75 992.1 825.25 991.69 825.75 991.26 826.25 990.83 826.75 990.4 827.25 989.95 827.75 989.5 828.25 989.04 828.75 988.56 829.25 988.08 829.75 987.59 830.25 987.08 830.75 986.57 831.25 986.04 831.75 985.5 832.25 984.95 832.75 984.38 833.25 983.8 833.75 983.21 834.25 982.6 834.75 981.98 835.25 981.34 835.75 980.69 836.25 980.01 836.75 979.33 837.25 978.62 837.75 977.9 838.25 977.15 838.75 976.39 839.25 975.61 839.75 974.81 840.25 973.99 840.75 973.15 841.25 972.28 841.75 971.4 842.25 970.49 842.75 969.57 843.25 968.62 843.75 967.66 844.25 966.68 844.75 965.68 845.25 964.67 845.75 963.64 846.25 962.6 846.75 961.54 847.25 960.47 847.75 959.39 848.25 958.3 848.75 957.2 849.25 956.09 849.75 954.98 850.25 953.85 850.75 952.72 851.25 951.59 851.75 950.45 852.25 949.3 852.75 948.15 853.25 947.01 853.75 945.86 854.25 944.7 854.75 943.56 855.25 942.41 855.75 941.26 856.25 940.12 856.75 938.98 857.25 937.85 857.75 936.72 858.25 935.6 858.75 934.48 859.25 933.38 859.75 932.28 860.25 931.19 860.75 930.11 861.25 929.03 861.75 927.96 862.25 926.9 862.75 925.85 863.25 924.8 863.75 923.76 864.25 922.72 864.75 921.7 865.25 920.67 865.75 919.65 866.25 918.64 866.75 917.63 867.25 916.62 867.75 915.62 868.25 914.63 868.75 913.64 869.25 912.65 869.75 911.66 870.25 910.68 870.75 909.7 871.25 908.73 871.75 907.75 872.25 906.78 872.75 905.81 873.25 904.84 873.75 903.88 874.25 902.92 874.75 901.96 875.25 901 875.75 900.05 876.25 899.1 876.75 898.16 877.25 897.22 877.75 896.29 878.25 895.37 878.75 894.45 879.25 893.54 879.75 892.64 880.25 891.75 880.75 890.87 881.25 890 881.75 889.14 882.25 888.29 882.75 887.45 883.25 886.63 883.75 885.82 884.25 885.02 884.75 884.23 885.25 883.46 885.75 882.7 886.25 881.96 886.75 881.24 887.25 880.53 887.75 879.84 888.25 879.17 888.75 878.51 889.25 877.87 889.75 877.26 890.25 876.66 890.75 876.08 891.25 875.52 891.75 874.99 892.25 874.48 892.75 873.99 893.25 873.52 893.75 873.07 894.25 872.65 894.75 872.26 895.25 871.89 895.75 871.54 896.25 871.23 896.75 870.94 897.25 870.67 897.75 870.43 898.25 870.22 898.75 870.03 899.25 869.87 899.75 869.73 900.25 869.61 900.75 869.51 901.25 869.43 901.75 869.38 902.25 869.34 902.75 869.32 903.25 869.32 903.75 869.34 904.25 869.37 904.75 869.42 905.25 869.48 905.75 869.55 906.25 869.64 906.75 869.74 907.25 869.86 907.75 869.98 908.25 870.12 908.75 870.26 909.25 870.41 909.75 870.57 910.25 870.74 910.75 870.91 911.25 871.09 911.75 871.27 912.25 871.46 912.75 871.65 913.25 871.84 913.75 872.04 914.25 872.23 914.75 872.43 915.25 872.62 915.75 872.81 916.25 873 916.75 873.19 917.25 873.38 917.75 873.56 918.25 873.73 918.75 873.9 919.25 874.05 919.75 874.2 920.25 874.33 920.75 874.44 921.25 874.53 921.75 874.59 922.25 874.63 922.75 874.63 923.25 874.6 923.75 874.54 924.25 874.44 924.75 874.29 925.25 874.11 925.75 873.87 926.25 873.58 926.75 873.25 927.25 872.88 927.75 872.48 928.25 872.07 928.75 871.65 929.25 871.23 929.75 870.83 930.25 870.45 930.75 870.11 931.25 869.79 931.75 869.51 932.25 869.26 932.75 869.04 933.25 868.84 933.75 868.67 934.25 868.52 934.75 868.4 935.25 868.31 935.75 868.23 936.25 868.17 936.75 868.13 937.25 868.11 937.75 868.11 938.25 868.12 938.75 868.15 939.25 868.19 939.75 868.24 940.25 868.31 940.75 868.38 941.25 868.46 941.75 868.55 942.25 868.65 942.75 868.75 943.25 868.85 943.75 868.96 944.25 869.06 944.75 869.17 945.25 869.28 945.5 869.33" fill="none" stroke="#f00" stroke-width="5.6" stroke-linejoin="round"/>
</g>
<rect x="584.5" y="706.25" width="92" height="58.9" rx="3" ry="3" fill="#fff" fill-opacity="0.8" stroke="#ccc" stroke-width="1.4"/>
<line x1="589.8" y1="720.75" x2="631.3" y2="720.75" stroke="#000" stroke-width="5.6"/>
<line x1="589.8" y1="747.35" x2="631.3" y2="747.35" stroke="#f00" stroke-width="5.6"/>
<text x="643.4" y="726.45" font-size="18" text-anchor="start">VC</text>
<text x="643.4" y="753.85" font-size="18" text-anchor="start">OP</text>
<line x1="576.25" y1="1225" x2="576.25" y2="1231.3" stroke="#000" stroke-width="1.6"/>
<text x="576.25" y="1250.9" font-size="18" text-anchor="middle">0</text>
<line x1="650.1" y1="1225" x2="650.1" y2="1231.3" stroke="#000" stroke-width="1.6"/>
<text x="650.1" y="1250.9" font-size="18" text-anchor="middle">20</text>
<line x1="723.95" y1="1225" x2="723.95" y2="1231.3" stroke="#000" stroke-width="1.6"/>
<text x="723.95" y="1250.9" font-size="18" text-anchor="middle">40</text>
<line x1="797.8" y1="1225" x2="797.8" y2="1231.3" stroke="#000" stroke-width="1.6"/>
<text x="797.8" y="1250.9" font-size="18" text-anchor="middle">60</text>
<line x1="871.65" y1="1225" x2="871.65" y2="1231.3" stroke="#000" stroke-width="1.6"/>
<text x="871.65" y="1250.9" font-size="18" text-anchor="middle">80</text>
<line x1="945.5" y1="1225" x2="945.5" y2="1231.3" stroke="#000" stroke-width="1.6"/>
<text x="945.5" y="1250.9" font-size="18" text-anchor="middle">100</text>
<line x1="569.95" y1="714.8" x2="576.25" y2="714.8" stroke="#000" stroke-width="1.6"/>
<text x="563.85" y="721.35" font-size="18" text-anchor="end">40</text>
<line x1="569.95" y1="801.8" x2="576.25" y2="801.8" stroke="#000" stroke-width="1.6"/>
<text x="563.85" y="808.35" font-size="18" text-anchor="end">30</text>
<line x1="569.95" y1="888.8" x2="576.25" y2="888.8" stroke="#000" stroke-width="1.6"/>
<text x="563.85" y="895.35" font-size="18" text-anchor="end">20</text>
<line x1="569.95" y1="975.8" x2="576.25" y2="975.8" stroke="#000" stroke-width="1.6"/>
<text x="563.85" y="982.35" font-size="18" text-anchor="end">10</text>
<line x1="569.95" y1="1062.8" x2="576.25" y2="1062.8" stroke="#000" stroke-width="1.6"/>
<text x="563.85" y="1069.35" font-size="18" text-anchor="end">0</text>
<line x1="569.95" y1="1149.8" x2="576.25" y2="1149.8" stroke="#000" stroke-width="1.6"/>
<text x="563.85" y="1156.35" font-size="18" text-anchor="end">−10</text>
<rect x="576.25" y="697" width="369.25" height="528" fill="none" stroke="#000" stroke-width="1.6"/>
<text x="760.88" y="1276" font-size="18" text-anchor="middle">Time (%)</text>
<text x="760.88" y="686.2" font-size="22" text-anchor="middle">Hip Flexion/Extension VC-OP</text>
<text x="0" y="0" font-size="18.3" text-anchor="middle" transform="translate(512.95 961.6) rotate(-90)">Hip&#160;Joint&#160;Angles&#160;&#160;(deg)</text>
<g clip-path="url(#cC2)">
<path d="M1165.94 1077.18L1165.94 1078.16 1166.44 1079.46 1166.94 1080.75 1167.44 1082.01 1167.94 1083.24 1168.44 1084.44 1168.94 1085.6 1169.44 1086.72 1169.94 1087.8 1170.44 1088.84 1170.94 1089.84 1171.44 1090.79 1171.94 1091.7 1172.44 1092.57 1172.94 1093.4 1173.44 1094.18 1173.94 1094.91 1174.44 1095.61 1174.94 1096.26 1175.44 1096.87 1175.94 1097.43 1176.44 1097.95 1176.94 1098.43 1177.44 1098.87 1177.94 1099.26 1178.44 1099.62 1178.94 1099.95 1179.44 1100.23 1179.94 1100.48 1180.44 1100.7 1180.94 1100.89 1181.44 1101.05 1181.94 1101.18 1182.44 1101.28 1182.94 1101.36 1183.44 1101.41 1183.94 1101.44 1184.44 1101.44 1184.94 1101.43 1185.44 1101.4 1185.94 1101.35 1186.44 1101.28 1186.94 1101.2 1187.44 1101.1 1187.94 1100.99 1188.44 1100.87 1188.94 1100.74 1189.44 1100.61 1189.94 1100.46 1190.44 1100.31 1190.94 1100.16 1191.44 1100 1191.94 1099.85 1192.44 1099.69 1192.94 1099.53 1193.44 1099.38 1193.94 1099.23 1194.44 1099.09 1194.94 1098.95 1195.44 1098.82 1195.94 1098.7 1196.44 1098.59 1196.94 1098.49 1197.44 1098.39 1197.94 1098.31 1198.44 1098.24 1198.94 1098.18 1199.44 1098.12 1199.94 1098.08 1200.44 1098.05 1200.94 1098.03 1201.44 1098.03 1201.94 1098.03 1202.44 1098.05 1202.94 1098.08 1203.44 1098.12 1203.94 1098.17 1204.44 1098.24 1204.94 1098.32 1205.44 1098.41 1205.94 1098.52 1206.44 1098.65 1206.94 1098.78 1207.44 1098.94 1207.94 1099.1 1208.44 1099.28 1208.94 1099.48 1209.44 1099.7 1209.94 1099.93 1210.44 1100.17 1210.94 1100.44 1211.44 1100.72 1211.94 1101.01 1212.44 1101.33 1212.94 1101.66 1213.44 1102.01 1213.94 1102.38 1214.44 1102.77 1214.94 1103.17 1215.44 1103.6 1215.94 1104.04 1216.44 1104.51 1216.94 1105 1217.44 1105.52 1217.94 1106.06 1218.44 1106.63 1218.94 1107.23 1219.44 1107.87 1219.94 1108.54 1220.44 1109.24 1220.94 1109.98 1221.44 1110.76 1221.94 1111.58 1222.44 1112.44 1222.94 1113.34 1223.44 1114.28 1223.94 1115.27 1224.44 1116.29 1224.94 1117.34 1225.44 1118.44 1225.94 1119.56 1226.44 1120.71 1226.94 1121.9 1227.44 1123.11 1227.94 1124.34 1228.44 1125.59 1228.94 1126.87 1229.44 1128.17 1229.94 1129.48 1230.44 1130.81 1230.94 1132.15 1231.44 1133.5 1231.94 1134.86 1232.44 1136.22 1232.94 1137.6 1233.44 1138.97 1233.94 1140.35 1234.44 1141.73 1234.94 1143.1 1235.44 1144.47 1235.94 1145.84 1236.44 1147.19 1236.94 1148.54 1237.44 1149.87 1237.94 1151.19 1238.44 1152.5 1238.94 1153.79 1239.44 1155.07 1239.94 1156.33 1240.44 1157.57 1240.94 1158.8 1241.44 1160.01 1241.94 1161.21 1242.44 1162.39 1242.94 1163.55 1243.44 1164.69 1243.94 1165.81 1244.44 1166.92 1244.94 1168 1245.44 1169.06 1245.94 1170.11 1246.44 1171.13 1246.94 1172.14 1247.44 1173.12 1247.94 1174.08 1248.44 1175.02 1248.94 1175.94 1249.44 1176.83 1249.94 1177.7 1250.44 1178.55 1250.94 1179.37 1251.44 1180.17 1251.94 1180.95 1252.44 1181.69 1252.94 1182.42 1253.44 1183.12 1253.94 1183.79 1254.44 1184.44 1254.94 1185.06 1255.44 1185.65 1255.94 1186.21 1256.44 1186.75 1256.94 1187.26 1257.44 1187.73 1257.94 1188.18 1258.44 1188.6 1258.94 1188.99 1259.44 1189.36 1259.94 1189.68 1260.44 1189.98 1260.94 1190.25 1261.44 1190.49 1261.94 1190.69 1262.44 1190.86 1262.94 1191 1263.44 1191.11 1263.94 1191.18 1264.44 1191.22 1264.94 1191.22 1265.44 1191.2 1265.94 1191.13 1266.44 1191.03 1266.94 1190.9 1267.44 1190.73 1267.94 1190.53 1268.44 1190.29 1268.94 1190.02 1269.44 1189.7 1269.94 1189.35 1270.44 1188.97 1270.94 1188.54 1271.44 1188.08 1271.94 1187.58 1272.44 1187.04 1272.94 1186.47 1273.44 1185.85 1273.94 1185.2 1274.44 1184.5 1274.94 1183.77 1275.44 1182.99 1275.94 1182.18 1276.44 1181.32 1276.94 1180.42 1277.44 1179.49 1277.94 1178.5 1278.44 1177.48 1278.94 1176.42 1279.44 1175.31 1279.94 1174.16 1280.44 1172.97 1280.94 1171.73 1281.44 1170.45 1281.94 1169.12 1282.44 1167.75 1282.94 1166.34 1283.44 1164.88 1283.94 1163.38 1284.44 1161.83 1284.94 1160.25 1285.44 1158.62 1285.94 1156.96 1286.44 1155.26 1286.94 1153.52 1287.44 1151.75 1287.94 1149.94 1288.44 1148.09 1288.94 1146.22 1289.44 1144.31 1289.94 1142.37 1290.44 1140.41 1290.94 1138.41 1291.44 1136.39 1291.94 1134.33 1292.44 1132.26 1292.94 1130.16 1293.44 1128.03 1293.94 1125.88 1294.44 1123.71 1294.94 1121.52 1295.44 1119.31 1295.94 1117.09 1296.44 1114.84 1296.94 1112.58 1297.44 1110.3 1297.94 1108.01 1298.44 1105.7 1298.94 1103.38 1299.44 1101.05 1299.94 1098.71 1300.44 1096.36 1300.94 1094 1301.44 1091.64 1301.94 1089.26 1302.44 1086.89 1302.94 1084.5 1303.44 1082.12 1303.94 1079.73 1304.44 1077.34L1304.44 1077.18Z" fill="#cccccc"/>
<line x1="1051.25" y1="910.5" x2="1421" y2="910.5" stroke="#000" stroke-width="1.85" stroke-dasharray="1.85 2.98"/>
<path d="M1050.94 1005.21L1051.44 1003.86 1051.94 1002.46 1052.44 1001.02 1052.94 999.53 1053.44 997.99 1053.94 996.42 1054.44 994.81 1054.94 993.17 1055.44 991.48 1055.94 989.77 1056.44 988.03 1056.94 986.25 1057.44 984.45 1057.94 982.63 1058.44 980.78 1058.94 978.91 1059.44 977.02 1059.94 975.11 1060.44 973.19 1060.94 971.26 1061.44 969.31 1061.94 967.35 1062.44 965.38 1062.94 963.41 1063.44 961.44 1063.94 959.46 1064.44 957.48 1064.94 955.5 1065.44 953.53 1065.94 951.56 1066.44 949.6 1066.94 947.65 1067.44 945.71 1067.94 943.78 1068.44 941.87 1068.94 939.97 1069.44 938.09 1069.94 936.23 1070.44 934.4 1070.94 932.59 1071.44 930.8 1071.94 929.04 1072.44 927.32 1072.94 925.62 1073.44 923.96 1073.94 922.33 1074.44 920.74 1074.94 919.19 1075.44 917.67 1075.94 916.19 1076.44 914.75 1076.94 913.35 1077.44 911.98 1077.94 910.65 1078.44 909.36 1078.94 908.1 1079.44 906.89 1079.94 905.71 1080.44 904.57 1080.94 903.47 1081.44 902.41 1081.94 901.38 1082.44 900.4 1082.94 899.45 1083.44 898.55 1083.94 897.68 1084.44 896.86 1084.94 896.07 1085.44 895.33 1085.94 894.62 1086.44 893.96 1086.94 893.34 1087.44 892.75 1087.94 892.21 1088.44 891.71 1088.94 891.25 1089.44 890.84 1089.94 890.46 1090.44 890.13 1090.94 889.84 1091.44 889.59 1091.94 889.38 1092.44 889.22 1092.94 889.1 1093.44 889.02 1093.94 888.98 1094.44 888.99 1094.94 889.04 1095.44 889.14 1095.94 889.27 1096.44 889.46 1096.94 889.68 1097.44 889.95 1097.94 890.26 1098.44 890.61 1098.94 891.01 1099.44 891.45 1099.94 891.94 1100.44 892.47 1100.94 893.04 1101.44 893.66 1101.94 894.32 1102.44 895.02 1102.94 895.77 1103.44 896.56 1103.94 897.39 1104.44 898.27 1104.94 899.19 1105.44 900.16 1105.94 901.17 1106.44 902.22 1106.94 903.32 1107.44 904.46 1107.94 905.65 1108.44 906.88 1108.94 908.15 1109.44 909.47 1109.94 910.82 1110.44 912.21 1110.94 913.62 1111.44 915.06 1111.94 916.53 1112.44 918.01 1112.94 919.51 1113.44 921.02 1113.94 922.54 1114.44 924.06 1114.94 925.59 1115.44 927.1 1115.94 928.62 1116.44 930.12 1116.94 931.61 1117.44 933.08 1117.94 934.53 1118.44 935.96 1118.94 937.38 1119.44 938.79 1119.94 940.19 1120.44 941.58 1120.94 942.97 1121.44 944.36 1121.94 945.75 1122.44 947.13 1122.94 948.53 1123.44 949.93 1123.94 951.34 1124.44 952.77 1124.94 954.21 1125.44 955.67 1125.94 957.14 1126.44 958.64 1126.94 960.17 1127.44 961.72 1127.94 963.3 1128.44 964.91 1128.94 966.56 1129.44 968.23 1129.94 969.93 1130.44 971.65 1130.94 973.4 1131.44 975.16 1131.94 976.95 1132.44 978.74 1132.94 980.55 1133.44 982.36 1133.94 984.19 1134.44 986.01 1134.94 987.84 1135.44 989.67 1135.94 991.49 1136.44 993.31 1136.94 995.12 1137.44 996.92 1137.94 998.7 1138.44 1000.47 1138.94 1002.23 1139.44 1003.96 1139.94 1005.67 1140.44 1007.36 1140.94 1009.03 1141.44 1010.68 1141.94 1012.31 1142.44 1013.92 1142.94 1015.51 1143.44 1017.08 1143.94 1018.64 1144.44 1020.18 1144.94 1021.7 1145.44 1023.2 1145.94 1024.69 1146.44 1026.16 1146.94 1027.62 1147.44 1029.06 1147.94 1030.49 1148.44 1031.9 1148.94 1033.3 1149.44 1034.68 1149.94 1036.05 1150.44 1037.41 1150.94 1038.76 1151.44 1040.09 1151.94 1041.41 1152.44 1042.72 1152.94 1044.02 1153.44 1045.31 1153.94 1046.6 1154.44 1047.87 1154.94 1049.15 1155.44 1050.42 1155.94 1051.68 1156.44 1052.95 1156.94 1054.22 1157.44 1055.5 1157.94 1056.77 1158.44 1058.06 1158.94 1059.35 1159.44 1060.64 1159.94 1061.95 1160.44 1063.27 1160.94 1064.61 1161.44 1065.95 1161.94 1067.31 1162.44 1068.67 1162.94 1070.04 1163.44 1071.41 1163.94 1072.78 1164.44 1074.14 1164.94 1075.49 1165.44 1076.83 1165.94 1078.16 1166.44 1079.46 1166.94 1080.75 1167.44 1082.01 1167.94 1083.24 1168.44 1084.44 1168.94 1085.6 1169.44 1086.72 1169.94 1087.8 1170.44 1088.84 1170.94 1089.84 1171.44 1090.79 1171.94 1091.7 1172.44 1092.57 1172.94 1093.4 1173.44 1094.18 1173.94 1094.91 1174.44 1095.61 1174.94 1096.26 1175.44 1096.87 1175.94 1097.43 1176.44 1097.95 1176.94 1098.43 1177.44 1098.87 1177.94 1099.26 1178.44 1099.62 1178.94 1099.95 1179.44 1100.23 1179.94 1100.48 1180.44 1100.7 1180.94 1100.89 1181.44 1101.05 1181.94 1101.18 1182.44 1101.28 1182.94 1101.36 1183.44 1101.41 1183.94 1101.44 1184.44 1101.44 1184.94 1101.43 1185.44 1101.4 1185.94 1101.35 1186.44 1101.28 1186.94 1101.2 1187.44 1101.1 1187.94 1100.99 1188.44 1100.87 1188.94 1100.74 1189.44 1100.61 1189.94 1100.46 1190.44 1100.31 1190.94 1100.16 1191.44 1100 1191.94 1099.85 1192.44 1099.69 1192.94 1099.53 1193.44 1099.38 1193.94 1099.23 1194.44 1099.09 1194.94 1098.95 1195.44 1098.82 1195.94 1098.7 1196.44 1098.59 1196.94 1098.49 1197.44 1098.39 1197.94 1098.31 1198.44 1098.24 1198.94 1098.18 1199.44 1098.12 1199.94 1098.08 1200.44 1098.05 1200.94 1098.03 1201.44 1098.03 1201.94 1098.03 1202.44 1098.05 1202.94 1098.08 1203.44 1098.12 1203.94 1098.17 1204.44 1098.24 1204.94 1098.32 1205.44 1098.41 1205.94 1098.52 1206.44 1098.65 1206.94 1098.78 1207.44 1098.94 1207.94 1099.1 1208.44 1099.28 1208.94 1099.48 1209.44 1099.7 1209.94 1099.93 1210.44 1100.17 1210.94 1100.44 1211.44 1100.72 1211.94 1101.01 1212.44 1101.33 1212.94 1101.66 1213.44 1102.01 1213.94 1102.38 1214.44 1102.77 1214.94 1103.17 1215.44 1103.6 1215.94 1104.04 1216.44 1104.51 1216.94 1105 1217.44 1105.52 1217.94 1106.06 1218.44 1106.63 1218.94 1107.23 1219.44 1107.87 1219.94 1108.54 1220.44 1109.24 1220.94 1109.98 1221.44 1110.76 1221.94 1111.58 1222.44 1112.44 1222.94 1113.34 1223.44 1114.28 1223.94 1115.27 1224.44 1116.29 1224.94 1117.34 1225.44 1118.44 1225.94 1119.56 1226.44 1120.71 1226.94 1121.9 1227.44 1123.11 1227.94 1124.34 1228.44 1125.59 1228.94 1126.87 1229.44 1128.17 1229.94 1129.48 1230.44 1130.81 1230.94 1132.15 1231.44 1133.5 1231.94 1134.86 1232.44 1136.22 1232.94 1137.6 1233.44 1138.97 1233.94 1140.35 1234.44 1141.73 1234.94 1143.1 1235.44 1144.47 1235.94 1145.84 1236.44 1147.19 1236.94 1148.54 1237.44 1149.87 1237.94 1151.19 1238.44 1152.5 1238.94 1153.79 1239.44 1155.07 1239.94 1156.33 1240.44 1157.57 1240.94 1158.8 1241.44 1160.01 1241.94 1161.21 1242.44 1162.39 1242.94 1163.55 1243.44 1164.69 1243.94 1165.81 1244.44 1166.92 1244.94 1168 1245.44 1169.06 1245.94 1170.11 1246.44 1171.13 1246.94 1172.14 1247.44 1173.12 1247.94 1174.08 1248.44 1175.02 1248.94 1175.94 1249.44 1176.83 1249.94 1177.7 1250.44 1178.55 1250.94 1179.37 1251.44 1180.17 1251.94 1180.95 1252.44 1181.69 1252.94 1182.42 1253.44 1183.12 1253.94 1183.79 1254.44 1184.44 1254.94 1185.06 1255.44 1185.65 1255.94 1186.21 1256.44 1186.75 1256.94 1187.26 1257.44 1187.73 1257.94 1188.18 1258.44 1188.6 1258.94 1188.99 1259.44 1189.36 1259.94 1189.68 1260.44 1189.98 1260.94 1190.25 1261.44 1190.49 1261.94 1190.69 1262.44 1190.86 1262.94 1191 1263.44 1191.11 1263.94 1191.18 1264.44 1191.22 1264.94 1191.22 1265.44 1191.2 1265.94 1191.13 1266.44 1191.03 1266.94 1190.9 1267.44 1190.73 1267.94 1190.53 1268.44 1190.29 1268.94 1190.02 1269.44 1189.7 1269.94 1189.35 1270.44 1188.97 1270.94 1188.54 1271.44 1188.08 1271.94 1187.58 1272.44 1187.04 1272.94 1186.47 1273.44 1185.85 1273.94 1185.2 1274.44 1184.5 1274.94 1183.77 1275.44 1182.99 1275.94 1182.18 1276.44 1181.32 1276.94 1180.42 1277.44 1179.49 1277.94 1178.5 1278.44 1177.48 1278.94 1176.42 1279.44 1175.31 1279.94 1174.16 1280.44 1172.97 1280.94 1171.73 1281.44 1170.45 1281.94 1169.12 1282.44 1167.75 1282.94 1166.34 1283.44 1164.88 1283.94 1163.38 1284.44 1161.83 1284.94 1160.25 1285.44 1158.62 1285.94 1156.96 1286.44 1155.26 1286.94 1153.52 1287.44 1151.75 1287.94 1149.94 1288.44 1148.09 1288.94 1146.22 1289.44 1144.31 1289.94 1142.37 1290.44 1140.41 1290.94 1138.41 1291.44 1136.39 1291.94 1134.33 1292.44 1132.26 1292.94 1130.16 1293.44 1128.03 1293.94 1125.88 1294.44 1123.71 1294.94 1121.52 1295.44 1119.31 1295.94 1117.09 1296.44 1114.84 1296.94 1112.58 1297.44 1110.3 1297.94 1108.01 1298.44 1105.7 1298.94 1103.38 1299.44 1101.05 1299.94 1098.71 1300.44 1096.36 1300.94 1094 1301.44 1091.64 1301.94 1089.26 1302.44 1086.89 1302.94 1084.5 1303.44 1082.12 1303.94 1079.73 1304.44 1077.34 1304.94 1074.95 1305.44 1072.56 1305.94 1070.18 1306.44 1067.81 1306.94 1065.45 1307.44 1063.11 1307.94 1060.79 1308.44 1058.51 1308.94 1056.26 1309.44 1054.05 1309.94 1051.88 1310.44 1049.76 1310.94 1047.7 1311.44 1045.69 1311.94 1043.75 1312.44 1041.88 1312.94 1040.08 1313.44 1038.36 1313.94 1036.72 1314.44 1035.16 1314.94 1033.69 1315.44 1032.29 1315.94 1030.96 1316.44 1029.71 1316.94 1028.53 1317.44 1027.42 1317.94 1026.37 1318.44 1025.39 1318.94 1024.47 1319.44 1023.61 1319.94 1022.81 1320.44 1022.05 1320.94 1021.35 1321.44 1020.7 1321.94 1020.09 1322.44 1019.53 1322.94 1019 1323.44 1018.51 1323.94 1018.06 1324.44 1017.64 1324.94 1017.25 1325.44 1016.88 1325.94 1016.54 1326.44 1016.22 1326.94 1015.92 1327.44 1015.63 1327.94 1015.36 1328.44 1015.1 1328.94 1014.84 1329.44 1014.6 1329.94 1014.35 1330.44 1014.1 1330.94 1013.85 1331.44 1013.6 1331.94 1013.33 1332.44 1013.06 1332.94 1012.77 1333.44 1012.47 1333.94 1012.14 1334.44 1011.8 1334.94 1011.43 1335.44 1011.03 1335.94 1010.61 1336.44 1010.16 1336.94 1009.68 1337.44 1009.17 1337.94 1008.64 1338.44 1008.09 1338.94 1007.51 1339.44 1006.92 1339.94 1006.3 1340.44 1005.66 1340.94 1005 1341.44 1004.32 1341.94 1003.62 1342.44 1002.91 1342.94 1002.18 1343.44 1001.44 1343.94 1000.69 1344.44 999.92 1344.94 999.14 1345.44 998.35 1345.94 997.55 1346.44 996.74 1346.94 995.92 1347.44 995.1 1347.94 994.27 1348.44 993.43 1348.94 992.59 1349.44 991.74 1349.94 990.89 1350.44 990.04 1350.94 989.18 1351.44 988.31 1351.94 987.44 1352.44 986.56 1352.94 985.67 1353.44 984.78 1353.94 983.88 1354.44 982.97 1354.94 982.05 1355.44 981.13 1355.94 980.19 1356.44 979.25 1356.94 978.3 1357.44 977.34 1357.94 976.37 1358.44 975.39 1358.94 974.4 1359.44 973.4 1359.94 972.38 1360.44 971.36 1360.94 970.33 1361.44 969.28 1361.94 968.22 1362.44 967.15 1362.94 966.06 1363.44 964.97 1363.94 963.86 1364.44 962.73 1364.94 961.59 1365.44 960.44 1365.94 959.28 1366.44 958.09 1366.94 956.9 1367.44 955.69 1367.94 954.46 1368.44 953.22 1368.94 951.96 1369.44 950.68 1369.94 949.39 1370.44 948.08 1370.94 946.75 1371.44 945.4 1371.94 944.04 1372.44 942.66 1372.94 941.26 1373.44 939.84 1373.94 938.4 1374.44 936.94 1374.94 935.46 1375.44 933.96 1375.94 932.44 1376.44 930.89 1376.94 929.32 1377.44 927.72 1377.94 926.1 1378.44 924.44 1378.94 922.75 1379.44 921.03 1379.94 919.27 1380.44 917.48 1380.94 915.65 1381.44 913.78 1381.94 911.88 1382.44 909.93 1382.94 907.93 1383.44 905.89 1383.94 903.81 1384.44 901.69 1384.94 899.53 1385.44 897.35 1385.94 895.14 1386.44 892.91 1386.94 890.66 1387.44 888.41 1387.94 886.15 1388.44 883.89 1388.94 881.64 1389.44 879.39 1389.94 877.17 1390.44 874.96 1390.94 872.78 1391.44 870.63 1391.94 868.51 1392.44 866.43 1392.94 864.4 1393.44 862.42 1393.94 860.49 1394.44 858.63 1394.94 856.83 1395.44 855.1 1395.94 853.44 1396.44 851.87 1396.94 850.38 1397.44 848.98 1397.94 847.67 1398.44 846.47 1398.94 845.37 1399.44 844.37 1399.94 843.46 1400.44 842.65 1400.94 841.9 1401.44 841.23 1401.94 840.62 1402.44 840.07 1402.94 839.56 1403.44 839.09 1403.94 838.65 1404.44 838.24 1404.94 837.84 1405.44 837.45 1405.94 837.06 1406.44 836.66 1406.94 836.26 1407.44 835.84 1407.94 835.41 1408.44 834.97 1408.94 834.51 1409.44 834.03 1409.94 833.54 1410.44 833.03 1410.94 832.51 1411.44 831.96 1411.94 831.39 1412.44 830.79 1412.94 830.18 1413.44 829.53 1413.94 828.86 1414.44 828.17 1414.94 827.44 1415.44 826.68 1415.94 825.9 1416.44 825.08 1416.94 824.22 1417.44 823.33 1417.94 822.41 1418.44 821.44 1418.94 820.44 1419.44 819.4 1419.94 818.32 1420.44 817.2 1420.94 816.03 1421 815.88" fill="none" stroke="#000" stroke-width="3.9" stroke-linejoin="round"/>
</g>
<text y="740.42" font-size="14.4" fill="#c81414"><tspan x="1200.65" font-style="italic">α</tspan><tspan>=0.05:</tspan><tspan x="1268.45" font-style="italic">t</tspan><tspan x="1277.25" dy="-5.6" font-size="10.5">*</tspan><tspan x="1286.15" dy="5.6">=3.025</tspan></text>
<rect x="1183.75" y="1097" width="106.25" height="33" fill="#fff" fill-opacity="0.3" stroke="#000" stroke-opacity="0.4" stroke-width="1.4"/>
<line x1="1051.25" y1="743.82" x2="1421" y2="743.82" stroke="#000" stroke-width="2" stroke-dasharray="7.4 3.2"/>
<line x1="1051.25" y1="1077.18" x2="1421" y2="1077.18" stroke="#000" stroke-width="2" stroke-dasharray="7.4 3.2"/>
<text x="1192.05" y="1118.3" font-size="18.2" text-anchor="start">p &lt; 0.001</text>
<line x1="1051.25" y1="1225" x2="1051.25" y2="1231.3" stroke="#000" stroke-width="1.6"/>
<text x="1051.25" y="1250.9" font-size="18" text-anchor="middle">0</text>
<line x1="1125.2" y1="1225" x2="1125.2" y2="1231.3" stroke="#000" stroke-width="1.6"/>
<text x="1125.2" y="1250.9" font-size="18" text-anchor="middle">20</text>
<line x1="1199.15" y1="1225" x2="1199.15" y2="1231.3" stroke="#000" stroke-width="1.6"/>
<text x="1199.15" y="1250.9" font-size="18" text-anchor="middle">40</text>
<line x1="1273.1" y1="1225" x2="1273.1" y2="1231.3" stroke="#000" stroke-width="1.6"/>
<text x="1273.1" y="1250.9" font-size="18" text-anchor="middle">60</text>
<line x1="1347.05" y1="1225" x2="1347.05" y2="1231.3" stroke="#000" stroke-width="1.6"/>
<text x="1347.05" y="1250.9" font-size="18" text-anchor="middle">80</text>
<line x1="1421" y1="1225" x2="1421" y2="1231.3" stroke="#000" stroke-width="1.6"/>
<text x="1421" y="1250.9" font-size="18" text-anchor="middle">100</text>
<line x1="1044.95" y1="800.3" x2="1051.25" y2="800.3" stroke="#000" stroke-width="1.6"/>
<text x="1038.85" y="806.85" font-size="18" text-anchor="end">2</text>
<line x1="1044.95" y1="910.5" x2="1051.25" y2="910.5" stroke="#000" stroke-width="1.6"/>
<text x="1038.85" y="917.05" font-size="18" text-anchor="end">0</text>
<line x1="1044.95" y1="1020.7" x2="1051.25" y2="1020.7" stroke="#000" stroke-width="1.6"/>
<text x="1038.85" y="1027.25" font-size="18" text-anchor="end">−2</text>
<line x1="1044.95" y1="1130.9" x2="1051.25" y2="1130.9" stroke="#000" stroke-width="1.6"/>
<text x="1038.85" y="1137.45" font-size="18" text-anchor="end">−4</text>
<rect x="1051.25" y="696.75" width="369.75" height="528.25" fill="none" stroke="#000" stroke-width="1.6"/>
<text x="1236.12" y="1276" font-size="18" text-anchor="middle">Time (%)</text>
<text x="1236.12" y="685.95" font-size="22" text-anchor="middle">Hip Flexion/Extension VC-OP</text>
<text x="0" y="0" font-size="29.2" text-anchor="middle" transform="translate(999.15 964.27) rotate(-90)">SPM{t}</text>
<text transform="translate(8.6 32.2) scale(0.95 1)" font-family="'Liberation Sans', Arial, sans-serif" font-weight="bold" font-size="43.5">A</text>
<text transform="translate(970.5 31.7) scale(0.95 1)" font-family="'Liberation Sans', Arial, sans-serif" font-weight="bold" font-size="43.5">B</text>
<text transform="translate(484.5 693.4) scale(0.95 1)" font-family="'Liberation Sans', Arial, sans-serif" font-weight="bold" font-size="43.5">C</text>
</svg>
</body></html>
